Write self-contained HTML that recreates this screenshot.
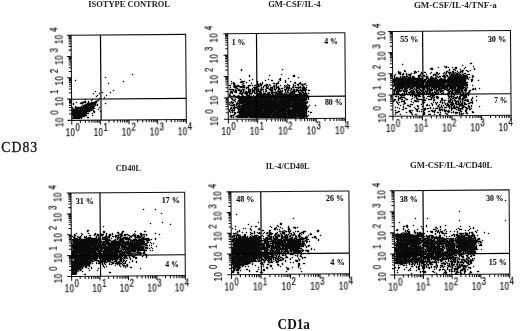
<!DOCTYPE html>
<html><head><meta charset="utf-8"><style>
html,body{margin:0;padding:0;background:#fff;}
svg{display:block;}
text{will-change:transform;}
.ti{font-family:"Liberation Serif",serif;font-weight:bold;font-size:7.8px;fill:#222;}
.ax{font-family:"Liberation Serif",serif;font-size:13.8px;fill:#111;stroke:#111;stroke-width:0.3px;}
.ax2{font-family:"Liberation Serif",serif;font-weight:bold;font-size:13.6px;fill:#111;}
.pc{font-family:"Liberation Serif",serif;font-weight:bold;font-size:8.4px;fill:#111;stroke:#111;stroke-width:0.1px;}
.tl{font-family:"Liberation Sans",sans-serif;font-size:10.4px;fill:#000;stroke:#000;stroke-width:0.18px;letter-spacing:0.6px;}
</style></head><body>
<svg width="520" height="331" viewBox="0 0 520 331">
<rect width="520" height="331" fill="#fff"/>
<g shape-rendering="crispEdges"><path fill="#d0d0d0" d="M470 62h2v1h-2zM402 63h1v1h-1zM469 63h1v1h-1zM472 63h1v1h-1zM401 64h1v1h-1zM403 64h1v1h-1zM462 64h1v1h-1zM470 64h2v1h-2zM402 65h1v1h-1zM444 65h1v1h-1zM446 65h1v1h-1zM461 65h1v1h-1zM463 65h1v1h-1zM473 65h1v1h-1zM438 66h1v1h-1zM443 66h1v1h-1zM447 66h2v1h-2zM452 66h1v1h-1zM455 66h2v1h-2zM462 66h1v1h-1zM465 66h1v1h-1zM472 66h1v1h-1zM474 66h1v1h-1zM430 67h3v1h-3zM437 67h1v1h-1zM439 67h1v1h-1zM444 67h1v1h-1zM449 67h1v1h-1zM451 67h1v1h-1zM453 67h2v1h-2zM457 67h1v1h-1zM464 67h1v1h-1zM466 67h1v1h-1zM473 67h2v1h-2zM241 68h1v1h-1zM282 68h1v1h-1zM429 68h1v1h-1zM433 68h1v1h-1zM438 68h1v1h-1zM445 68h2v1h-2zM448 68h2v1h-2zM452 68h2v1h-2zM457 68h1v1h-1zM460 68h1v1h-1zM463 68h1v1h-1zM465 68h1v1h-1zM473 68h1v1h-1zM475 68h1v1h-1zM240 69h1v1h-1zM242 69h1v1h-1zM281 69h1v1h-1zM283 69h1v1h-1zM404 69h1v1h-1zM433 69h1v1h-1zM448 69h1v1h-1zM450 69h1v1h-1zM452 69h1v1h-1zM456 69h1v1h-1zM459 69h1v1h-1zM461 69h4v1h-4zM466 69h1v1h-1zM470 69h1v1h-1zM473 69h1v1h-1zM475 69h1v1h-1zM240 70h1v1h-1zM242 70h1v1h-1zM282 70h1v1h-1zM398 70h1v1h-1zM403 70h1v1h-1zM414 70h2v1h-2zM418 70h1v1h-1zM431 70h2v1h-2zM446 70h3v1h-3zM450 70h1v1h-1zM452 70h1v1h-1zM456 70h2v1h-2zM464 70h2v1h-2zM468 70h2v1h-2zM471 70h1v1h-1zM474 70h1v1h-1zM241 71h1v1h-1zM397 71h1v1h-1zM400 71h1v1h-1zM403 71h1v1h-1zM406 71h1v1h-1zM413 71h1v1h-1zM417 71h1v1h-1zM419 71h1v1h-1zM421 71h1v1h-1zM424 71h2v1h-2zM431 71h1v1h-1zM436 71h2v1h-2zM444 71h2v1h-2zM450 71h2v1h-2zM454 71h3v1h-3zM458 71h2v1h-2zM466 71h1v1h-1zM469 71h2v1h-2zM397 72h1v1h-1zM401 72h1v1h-1zM403 72h4v1h-4zM411 72h1v1h-1zM413 72h1v1h-1zM417 72h2v1h-2zM420 72h1v1h-1zM423 72h1v1h-1zM426 72h1v1h-1zM430 72h1v1h-1zM432 72h1v1h-1zM435 72h1v1h-1zM438 72h2v1h-2zM443 72h1v1h-1zM463 72h3v1h-3zM467 72h2v1h-2zM132 73h1v1h-1zM281 73h1v1h-1zM395 73h1v1h-1zM397 73h1v1h-1zM401 73h1v1h-1zM404 73h2v1h-2zM407 73h3v1h-3zM412 73h2v1h-2zM416 73h1v1h-1zM423 73h4v1h-4zM429 73h1v1h-1zM431 73h1v1h-1zM433 73h2v1h-2zM440 73h1v1h-1zM442 73h1v1h-1zM447 73h1v1h-1zM461 73h1v1h-1zM466 73h4v1h-4zM131 74h1v1h-1zM133 74h1v1h-1zM249 74h1v1h-1zM269 74h1v1h-1zM280 74h1v1h-1zM282 74h1v1h-1zM293 74h2v1h-2zM394 74h1v1h-1zM396 74h1v1h-1zM398 74h1v1h-1zM404 74h2v1h-2zM414 74h1v1h-1zM418 74h1v1h-1zM422 74h4v1h-4zM427 74h1v1h-1zM430 74h1v1h-1zM432 74h1v1h-1zM439 74h1v1h-1zM447 74h2v1h-2zM470 74h1v1h-1zM472 74h1v1h-1zM132 75h1v1h-1zM248 75h1v1h-1zM250 75h1v1h-1zM268 75h1v1h-1zM270 75h1v1h-1zM281 75h1v1h-1zM292 75h1v1h-1zM295 75h1v1h-1zM393 75h1v1h-1zM400 75h2v1h-2zM404 75h2v1h-2zM411 75h3v1h-3zM417 75h1v1h-1zM422 75h1v1h-1zM425 75h1v1h-1zM427 75h1v1h-1zM431 75h2v1h-2zM438 75h3v1h-3zM448 75h1v1h-1zM468 75h2v1h-2zM471 75h1v1h-1zM105 76h1v1h-1zM248 76h1v1h-1zM250 76h1v1h-1zM269 76h1v1h-1zM292 76h1v1h-1zM295 76h1v1h-1zM298 76h1v1h-1zM393 76h1v1h-1zM395 76h3v1h-3zM399 76h1v1h-1zM417 76h1v1h-1zM428 76h1v1h-1zM433 76h1v1h-1zM441 76h1v1h-1zM468 76h2v1h-2zM471 76h1v1h-1zM474 76h1v1h-1zM104 77h1v1h-1zM106 77h1v1h-1zM249 77h1v1h-1zM280 77h1v1h-1zM288 77h1v1h-1zM293 77h2v1h-2zM297 77h1v1h-1zM299 77h1v1h-1zM393 77h1v1h-1zM416 77h1v1h-1zM423 77h3v1h-3zM429 77h1v1h-1zM441 77h2v1h-2zM446 77h1v1h-1zM470 77h2v1h-2zM105 78h1v1h-1zM240 78h1v1h-1zM252 78h1v1h-1zM268 78h1v1h-1zM281 78h1v1h-1zM287 78h1v1h-1zM289 78h1v1h-1zM298 78h1v1h-1zM423 78h2v1h-2zM438 78h1v1h-1zM469 78h1v1h-1zM471 78h1v1h-1zM75 79h1v1h-1zM239 79h1v1h-1zM241 79h1v1h-1zM249 79h1v1h-1zM251 79h1v1h-1zM253 79h1v1h-1zM265 79h1v1h-1zM267 79h1v1h-1zM269 79h1v1h-1zM271 79h2v1h-2zM278 79h1v1h-1zM281 79h1v1h-1zM285 79h1v1h-1zM288 79h1v1h-1zM469 79h2v1h-2zM473 79h1v1h-1zM478 79h1v1h-1zM74 80h1v1h-1zM76 80h1v1h-1zM123 80h1v1h-1zM231 80h1v1h-1zM240 80h5v1h-5zM248 80h1v1h-1zM250 80h1v1h-1zM252 80h1v1h-1zM257 80h1v1h-1zM264 80h1v1h-1zM266 80h1v1h-1zM268 80h1v1h-1zM270 80h1v1h-1zM273 80h1v1h-1zM278 80h1v1h-1zM281 80h1v1h-1zM284 80h1v1h-1zM286 80h1v1h-1zM290 80h1v1h-1zM466 80h1v1h-1zM468 80h1v1h-1zM470 80h1v1h-1zM473 80h1v1h-1zM477 80h1v1h-1zM479 80h1v1h-1zM75 81h1v1h-1zM122 81h1v1h-1zM124 81h1v1h-1zM230 81h1v1h-1zM232 81h2v1h-2zM245 81h2v1h-2zM249 81h1v1h-1zM256 81h1v1h-1zM258 81h1v1h-1zM262 81h1v1h-1zM265 81h1v1h-1zM271 81h2v1h-2zM277 81h1v1h-1zM279 81h2v1h-2zM284 81h1v1h-1zM286 81h1v1h-1zM289 81h1v1h-1zM291 81h1v1h-1zM294 81h2v1h-2zM300 81h1v1h-1zM467 81h1v1h-1zM470 81h1v1h-1zM478 81h1v1h-1zM108 82h1v1h-1zM123 82h1v1h-1zM231 82h2v1h-2zM239 82h1v1h-1zM244 82h2v1h-2zM247 82h1v1h-1zM251 82h1v1h-1zM256 82h1v1h-1zM258 82h1v1h-1zM260 82h2v1h-2zM263 82h1v1h-1zM273 82h2v1h-2zM276 82h1v1h-1zM279 82h1v1h-1zM284 82h1v1h-1zM286 82h1v1h-1zM290 82h1v1h-1zM293 82h1v1h-1zM296 82h1v1h-1zM301 82h1v1h-1zM305 82h1v1h-1zM468 82h1v1h-1zM471 82h1v1h-1zM107 83h1v1h-1zM109 83h1v1h-1zM230 83h1v1h-1zM235 83h1v1h-1zM240 83h2v1h-2zM244 83h1v1h-1zM246 83h1v1h-1zM250 83h1v1h-1zM252 83h1v1h-1zM256 83h1v1h-1zM263 83h1v1h-1zM266 83h2v1h-2zM269 83h1v1h-1zM272 83h1v1h-1zM279 83h1v1h-1zM285 83h1v1h-1zM287 83h1v1h-1zM293 83h1v1h-1zM296 83h2v1h-2zM302 83h2v1h-2zM306 83h1v1h-1zM108 84h1v1h-1zM229 84h4v1h-4zM237 84h2v1h-2zM241 84h1v1h-1zM244 84h1v1h-1zM248 84h5v1h-5zM254 84h3v1h-3zM264 84h1v1h-1zM270 84h1v1h-1zM273 84h1v1h-1zM278 84h1v1h-1zM280 84h1v1h-1zM284 84h1v1h-1zM286 84h1v1h-1zM289 84h1v1h-1zM292 84h1v1h-1zM294 84h3v1h-3zM306 84h1v1h-1zM468 84h1v1h-1zM472 84h1v1h-1zM231 85h1v1h-1zM240 85h2v1h-2zM245 85h1v1h-1zM247 85h1v1h-1zM251 85h1v1h-1zM253 85h1v1h-1zM262 85h2v1h-2zM271 85h1v1h-1zM277 85h3v1h-3zM281 85h1v1h-1zM283 85h1v1h-1zM290 85h1v1h-1zM292 85h1v1h-1zM296 85h1v1h-1zM299 85h2v1h-2zM304 85h2v1h-2zM307 85h1v1h-1zM468 85h1v1h-1zM471 85h1v1h-1zM473 85h1v1h-1zM229 86h1v1h-1zM232 86h1v1h-1zM245 86h2v1h-2zM250 86h1v1h-1zM252 86h2v1h-2zM262 86h1v1h-1zM269 86h1v1h-1zM271 86h1v1h-1zM279 86h2v1h-2zM290 86h1v1h-1zM296 86h2v1h-2zM301 86h1v1h-1zM306 86h1v1h-1zM472 86h1v1h-1zM229 87h1v1h-1zM231 87h1v1h-1zM238 87h1v1h-1zM249 87h1v1h-1zM252 87h1v1h-1zM259 87h2v1h-2zM264 87h2v1h-2zM269 87h1v1h-1zM281 87h3v1h-3zM290 87h2v1h-2zM307 87h1v1h-1zM393 87h2v1h-2zM468 87h1v1h-1zM473 87h1v1h-1zM475 87h1v1h-1zM479 87h1v1h-1zM229 88h1v1h-1zM231 88h4v1h-4zM239 88h3v1h-3zM245 88h1v1h-1zM250 88h2v1h-2zM259 88h1v1h-1zM283 88h1v1h-1zM294 88h2v1h-2zM476 88h1v1h-1zM478 88h1v1h-1zM480 88h1v1h-1zM113 89h1v1h-1zM245 89h3v1h-3zM264 89h1v1h-1zM267 89h1v1h-1zM277 89h1v1h-1zM281 89h1v1h-1zM283 89h1v1h-1zM307 89h3v1h-3zM408 89h1v1h-1zM467 89h1v1h-1zM469 89h3v1h-3zM476 89h1v1h-1zM479 89h1v1h-1zM95 90h1v1h-1zM112 90h1v1h-1zM114 90h1v1h-1zM229 90h1v1h-1zM245 90h3v1h-3zM264 90h1v1h-1zM267 90h1v1h-1zM273 90h1v1h-1zM276 90h1v1h-1zM283 90h1v1h-1zM307 90h1v1h-1zM310 90h1v1h-1zM408 90h2v1h-2zM433 90h1v1h-1zM445 90h1v1h-1zM467 90h2v1h-2zM471 90h3v1h-3zM475 90h1v1h-1zM94 91h1v1h-1zM96 91h1v1h-1zM102 91h1v1h-1zM110 91h1v1h-1zM113 91h1v1h-1zM229 91h1v1h-1zM237 91h2v1h-2zM262 91h1v1h-1zM264 91h1v1h-1zM267 91h3v1h-3zM274 91h1v1h-1zM283 91h2v1h-2zM289 91h1v1h-1zM306 91h1v1h-1zM308 91h2v1h-2zM402 91h1v1h-1zM408 91h1v1h-1zM433 91h1v1h-1zM93 92h1v1h-1zM95 92h1v1h-1zM99 92h1v1h-1zM101 92h1v1h-1zM103 92h1v1h-1zM109 92h1v1h-1zM111 92h1v1h-1zM229 92h1v1h-1zM233 92h1v1h-1zM237 92h1v1h-1zM262 92h1v1h-1zM266 92h1v1h-1zM296 92h2v1h-2zM308 92h1v1h-1zM400 92h1v1h-1zM402 92h1v1h-1zM444 92h1v1h-1zM470 92h1v1h-1zM92 93h1v1h-1zM94 93h1v1h-1zM98 93h1v1h-1zM100 93h1v1h-1zM102 93h1v1h-1zM110 93h1v1h-1zM233 93h1v1h-1zM235 93h2v1h-2zM238 93h1v1h-1zM253 93h1v1h-1zM296 93h2v1h-2zM309 93h1v1h-1zM439 93h2v1h-2zM444 93h3v1h-3zM93 94h1v1h-1zM97 94h1v1h-1zM99 94h1v1h-1zM106 94h1v1h-1zM232 94h3v1h-3zM238 94h2v1h-2zM243 94h2v1h-2zM252 94h4v1h-4zM308 94h1v1h-1zM406 94h1v1h-1zM410 94h1v1h-1zM425 94h1v1h-1zM438 94h1v1h-1zM441 94h4v1h-4zM450 94h1v1h-1zM457 94h3v1h-3zM469 94h1v1h-1zM96 95h1v1h-1zM98 95h1v1h-1zM105 95h1v1h-1zM107 95h1v1h-1zM231 95h2v1h-2zM236 95h1v1h-1zM244 95h2v1h-2zM252 95h1v1h-1zM254 95h1v1h-1zM393 95h3v1h-3zM397 95h2v1h-2zM405 95h1v1h-1zM407 95h3v1h-3zM421 95h1v1h-1zM424 95h1v1h-1zM426 95h2v1h-2zM435 95h1v1h-1zM437 95h1v1h-1zM445 95h1v1h-1zM455 95h3v1h-3zM469 95h1v1h-1zM476 95h1v1h-1zM95 96h1v1h-1zM97 96h1v1h-1zM104 96h1v1h-1zM106 96h1v1h-1zM229 96h1v1h-1zM309 96h1v1h-1zM394 96h1v1h-1zM399 96h1v1h-1zM410 96h2v1h-2zM413 96h1v1h-1zM421 96h2v1h-2zM426 96h1v1h-1zM435 96h1v1h-1zM447 96h1v1h-1zM455 96h1v1h-1zM467 96h2v1h-2zM472 96h1v1h-1zM475 96h1v1h-1zM477 96h1v1h-1zM96 97h1v1h-1zM99 97h1v1h-1zM103 97h1v1h-1zM105 97h1v1h-1zM229 97h1v1h-1zM232 97h3v1h-3zM309 97h1v1h-1zM395 97h3v1h-3zM405 97h1v1h-1zM412 97h2v1h-2zM418 97h3v1h-3zM422 97h1v1h-1zM425 97h5v1h-5zM439 97h1v1h-1zM441 97h2v1h-2zM461 97h1v1h-1zM467 97h1v1h-1zM471 97h1v1h-1zM473 97h1v1h-1zM476 97h1v1h-1zM85 98h1v1h-1zM92 98h1v1h-1zM98 98h1v1h-1zM100 98h1v1h-1zM104 98h1v1h-1zM230 98h1v1h-1zM233 98h2v1h-2zM236 98h1v1h-1zM309 98h1v1h-1zM394 98h2v1h-2zM397 98h1v1h-1zM403 98h1v1h-1zM407 98h1v1h-1zM411 98h1v1h-1zM413 98h3v1h-3zM419 98h3v1h-3zM425 98h1v1h-1zM427 98h3v1h-3zM440 98h1v1h-1zM443 98h1v1h-1zM447 98h1v1h-1zM466 98h2v1h-2zM473 98h1v1h-1zM84 99h1v1h-1zM86 99h1v1h-1zM91 99h1v1h-1zM93 99h1v1h-1zM97 99h3v1h-3zM236 99h1v1h-1zM309 99h1v1h-1zM396 99h2v1h-2zM403 99h2v1h-2zM408 99h1v1h-1zM410 99h1v1h-1zM412 99h1v1h-1zM414 99h2v1h-2zM426 99h2v1h-2zM432 99h1v1h-1zM435 99h1v1h-1zM437 99h1v1h-1zM440 99h1v1h-1zM443 99h3v1h-3zM456 99h1v1h-1zM470 99h1v1h-1zM476 99h1v1h-1zM84 100h1v1h-1zM88 100h1v1h-1zM90 100h1v1h-1zM92 100h1v1h-1zM95 100h1v1h-1zM99 100h1v1h-1zM231 100h1v1h-1zM237 100h1v1h-1zM307 100h2v1h-2zM396 100h2v1h-2zM399 100h1v1h-1zM405 100h3v1h-3zM411 100h1v1h-1zM413 100h1v1h-1zM419 100h2v1h-2zM426 100h1v1h-1zM428 100h5v1h-5zM435 100h1v1h-1zM446 100h2v1h-2zM469 100h2v1h-2zM475 100h1v1h-1zM477 100h1v1h-1zM76 101h1v1h-1zM81 101h2v1h-2zM86 101h2v1h-2zM89 101h1v1h-1zM92 101h2v1h-2zM98 101h1v1h-1zM229 101h2v1h-2zM236 101h1v1h-1zM308 101h1v1h-1zM395 101h1v1h-1zM398 101h3v1h-3zM405 101h1v1h-1zM410 101h1v1h-1zM412 101h2v1h-2zM419 101h1v1h-1zM425 101h1v1h-1zM434 101h2v1h-2zM437 101h1v1h-1zM439 101h1v1h-1zM443 101h1v1h-1zM445 101h1v1h-1zM447 101h1v1h-1zM453 101h1v1h-1zM465 101h1v1h-1zM469 101h2v1h-2zM473 101h1v1h-1zM476 101h1v1h-1zM73 102h1v1h-1zM75 102h1v1h-1zM77 102h1v1h-1zM86 102h1v1h-1zM97 102h1v1h-1zM105 102h1v1h-1zM234 102h2v1h-2zM308 102h1v1h-1zM393 102h1v1h-1zM400 102h3v1h-3zM411 102h2v1h-2zM414 102h5v1h-5zM421 102h1v1h-1zM425 102h1v1h-1zM431 102h2v1h-2zM434 102h1v1h-1zM438 102h2v1h-2zM445 102h1v1h-1zM454 102h1v1h-1zM467 102h1v1h-1zM473 102h1v1h-1zM72 103h1v1h-1zM74 103h1v1h-1zM76 103h1v1h-1zM79 103h1v1h-1zM84 103h1v1h-1zM97 103h1v1h-1zM104 103h1v1h-1zM106 103h1v1h-1zM234 103h2v1h-2zM396 103h1v1h-1zM399 103h1v1h-1zM406 103h1v1h-1zM410 103h4v1h-4zM421 103h1v1h-1zM424 103h1v1h-1zM427 103h1v1h-1zM430 103h1v1h-1zM433 103h1v1h-1zM439 103h3v1h-3zM443 103h1v1h-1zM467 103h1v1h-1zM473 103h1v1h-1zM72 104h1v1h-1zM74 104h1v1h-1zM80 104h2v1h-2zM83 104h1v1h-1zM98 104h1v1h-1zM105 104h1v1h-1zM309 104h1v1h-1zM315 104h1v1h-1zM397 104h1v1h-1zM399 104h2v1h-2zM402 104h1v1h-1zM405 104h1v1h-1zM407 104h3v1h-3zM413 104h1v1h-1zM417 104h1v1h-1zM420 104h1v1h-1zM422 104h2v1h-2zM428 104h2v1h-2zM433 104h1v1h-1zM435 104h1v1h-1zM437 104h2v1h-2zM440 104h5v1h-5zM467 104h1v1h-1zM469 104h1v1h-1zM471 104h2v1h-2zM73 105h1v1h-1zM75 105h1v1h-1zM81 105h1v1h-1zM98 105h1v1h-1zM229 105h1v1h-1zM307 105h2v1h-2zM310 105h1v1h-1zM314 105h1v1h-1zM316 105h1v1h-1zM398 105h2v1h-2zM401 105h1v1h-1zM403 105h1v1h-1zM406 105h1v1h-1zM411 105h2v1h-2zM416 105h1v1h-1zM421 105h2v1h-2zM425 105h1v1h-1zM430 105h2v1h-2zM433 105h1v1h-1zM436 105h1v1h-1zM440 105h1v1h-1zM444 105h2v1h-2zM455 105h1v1h-1zM457 105h1v1h-1zM465 105h3v1h-3zM470 105h1v1h-1zM472 105h1v1h-1zM479 105h1v1h-1zM72 106h1v1h-1zM74 106h1v1h-1zM77 106h3v1h-3zM95 106h1v1h-1zM97 106h1v1h-1zM99 106h1v1h-1zM230 106h1v1h-1zM309 106h1v1h-1zM315 106h1v1h-1zM395 106h1v1h-1zM397 106h1v1h-1zM400 106h1v1h-1zM402 106h1v1h-1zM404 106h1v1h-1zM407 106h1v1h-1zM411 106h1v1h-1zM414 106h1v1h-1zM416 106h1v1h-1zM419 106h1v1h-1zM421 106h1v1h-1zM423 106h1v1h-1zM426 106h2v1h-2zM429 106h2v1h-2zM432 106h1v1h-1zM436 106h1v1h-1zM443 106h3v1h-3zM466 106h2v1h-2zM472 106h1v1h-1zM478 106h1v1h-1zM480 106h1v1h-1zM73 107h2v1h-2zM98 107h1v1h-1zM100 107h1v1h-1zM394 107h1v1h-1zM396 107h1v1h-1zM398 107h2v1h-2zM402 107h1v1h-1zM404 107h3v1h-3zM409 107h2v1h-2zM413 107h1v1h-1zM415 107h1v1h-1zM417 107h1v1h-1zM422 107h1v1h-1zM424 107h2v1h-2zM427 107h3v1h-3zM431 107h1v1h-1zM433 107h1v1h-1zM435 107h2v1h-2zM443 107h1v1h-1zM447 107h1v1h-1zM460 107h1v1h-1zM471 107h1v1h-1zM479 107h1v1h-1zM95 108h1v1h-1zM98 108h2v1h-2zM229 108h1v1h-1zM308 108h1v1h-1zM395 108h1v1h-1zM397 108h2v1h-2zM400 108h1v1h-1zM402 108h1v1h-1zM404 108h1v1h-1zM407 108h1v1h-1zM414 108h1v1h-1zM419 108h1v1h-1zM421 108h1v1h-1zM423 108h1v1h-1zM431 108h2v1h-2zM434 108h1v1h-1zM443 108h1v1h-1zM445 108h2v1h-2zM448 108h1v1h-1zM472 108h1v1h-1zM94 109h1v1h-1zM97 109h1v1h-1zM99 109h1v1h-1zM235 109h1v1h-1zM395 109h1v1h-1zM399 109h1v1h-1zM401 109h1v1h-1zM404 109h3v1h-3zM409 109h2v1h-2zM412 109h1v1h-1zM420 109h1v1h-1zM422 109h2v1h-2zM426 109h3v1h-3zM430 109h5v1h-5zM436 109h3v1h-3zM446 109h1v1h-1zM448 109h3v1h-3zM453 109h2v1h-2zM463 109h1v1h-1zM468 109h1v1h-1zM471 109h1v1h-1zM98 110h1v1h-1zM100 110h1v1h-1zM235 110h1v1h-1zM237 110h1v1h-1zM307 110h2v1h-2zM394 110h1v1h-1zM396 110h1v1h-1zM398 110h2v1h-2zM402 110h2v1h-2zM408 110h1v1h-1zM413 110h1v1h-1zM415 110h1v1h-1zM418 110h2v1h-2zM421 110h1v1h-1zM428 110h3v1h-3zM436 110h1v1h-1zM438 110h1v1h-1zM450 110h1v1h-1zM452 110h2v1h-2zM456 110h2v1h-2zM462 110h1v1h-1zM464 110h1v1h-1zM467 110h1v1h-1zM469 110h2v1h-2zM472 110h1v1h-1zM91 111h2v1h-2zM95 111h1v1h-1zM99 111h1v1h-1zM101 111h1v1h-1zM235 111h1v1h-1zM309 111h3v1h-3zM396 111h1v1h-1zM400 111h1v1h-1zM406 111h1v1h-1zM408 111h1v1h-1zM412 111h1v1h-1zM420 111h1v1h-1zM422 111h1v1h-1zM427 111h1v1h-1zM430 111h1v1h-1zM437 111h3v1h-3zM442 111h2v1h-2zM450 111h3v1h-3zM454 111h5v1h-5zM462 111h1v1h-1zM464 111h1v1h-1zM467 111h1v1h-1zM471 111h1v1h-1zM89 112h1v1h-1zM92 112h1v1h-1zM95 112h1v1h-1zM100 112h1v1h-1zM229 112h1v1h-1zM307 112h3v1h-3zM312 112h1v1h-1zM394 112h1v1h-1zM399 112h1v1h-1zM405 112h1v1h-1zM407 112h1v1h-1zM412 112h1v1h-1zM417 112h1v1h-1zM419 112h1v1h-1zM421 112h1v1h-1zM425 112h1v1h-1zM428 112h2v1h-2zM432 112h1v1h-1zM435 112h2v1h-2zM439 112h1v1h-1zM441 112h1v1h-1zM444 112h1v1h-1zM446 112h1v1h-1zM450 112h1v1h-1zM463 112h1v1h-1zM471 112h1v1h-1zM474 112h1v1h-1zM89 113h1v1h-1zM91 113h1v1h-1zM93 113h2v1h-2zM230 113h1v1h-1zM232 113h2v1h-2zM236 113h2v1h-2zM307 113h1v1h-1zM310 113h2v1h-2zM396 113h2v1h-2zM400 113h1v1h-1zM406 113h1v1h-1zM415 113h2v1h-2zM422 113h1v1h-1zM425 113h1v1h-1zM428 113h3v1h-3zM434 113h1v1h-1zM437 113h3v1h-3zM444 113h1v1h-1zM448 113h1v1h-1zM451 113h1v1h-1zM453 113h2v1h-2zM458 113h1v1h-1zM464 113h2v1h-2zM468 113h1v1h-1zM472 113h2v1h-2zM87 114h2v1h-2zM92 114h1v1h-1zM230 114h3v1h-3zM237 114h1v1h-1zM307 114h2v1h-2zM394 114h1v1h-1zM396 114h1v1h-1zM399 114h1v1h-1zM401 114h1v1h-1zM411 114h1v1h-1zM413 114h2v1h-2zM417 114h1v1h-1zM422 114h1v1h-1zM425 114h1v1h-1zM427 114h1v1h-1zM431 114h1v1h-1zM433 114h1v1h-1zM435 114h1v1h-1zM438 114h1v1h-1zM441 114h1v1h-1zM445 114h1v1h-1zM448 114h1v1h-1zM455 114h2v1h-2zM458 114h1v1h-1zM463 114h1v1h-1zM466 114h2v1h-2zM87 115h1v1h-1zM91 115h1v1h-1zM93 115h1v1h-1zM229 115h1v1h-1zM235 115h1v1h-1zM309 115h1v1h-1zM86 116h3v1h-3zM92 116h1v1h-1zM229 116h1v1h-1zM234 116h1v1h-1zM308 116h1v1h-1zM83 117h2v1h-2zM86 117h1v1h-1zM89 117h1v1h-1zM234 117h2v1h-2zM82 118h1v1h-1zM87 118h2v1h-2zM505 199h1v1h-1zM504 200h1v1h-1zM506 200h1v1h-1zM505 201h1v1h-1zM143 208h1v1h-1zM155 208h1v1h-1zM142 209h1v1h-1zM144 209h1v1h-1zM154 209h1v1h-1zM156 209h1v1h-1zM143 210h1v1h-1zM155 210h1v1h-1zM459 210h1v1h-1zM458 211h1v1h-1zM460 211h1v1h-1zM161 212h1v1h-1zM459 212h1v1h-1zM160 213h1v1h-1zM162 213h1v1h-1zM236 213h1v1h-1zM161 214h1v1h-1zM235 214h1v1h-1zM237 214h1v1h-1zM236 215h1v1h-1zM293 217h1v1h-1zM415 217h1v1h-1zM427 217h1v1h-1zM292 218h1v1h-1zM294 218h1v1h-1zM414 218h1v1h-1zM416 218h1v1h-1zM426 218h1v1h-1zM428 218h1v1h-1zM293 219h1v1h-1zM415 219h1v1h-1zM427 219h1v1h-1zM459 219h1v1h-1zM505 219h1v1h-1zM458 220h1v1h-1zM460 220h1v1h-1zM504 220h1v1h-1zM506 220h1v1h-1zM162 221h1v1h-1zM258 221h1v1h-1zM399 221h1v1h-1zM459 221h1v1h-1zM505 221h1v1h-1zM150 222h1v1h-1zM161 222h1v1h-1zM163 222h1v1h-1zM257 222h1v1h-1zM259 222h1v1h-1zM280 222h2v1h-2zM398 222h1v1h-1zM400 222h1v1h-1zM149 223h1v1h-1zM151 223h1v1h-1zM162 223h1v1h-1zM170 223h1v1h-1zM248 223h1v1h-1zM258 223h1v1h-1zM279 223h1v1h-1zM282 223h1v1h-1zM399 223h1v1h-1zM150 224h1v1h-1zM169 224h1v1h-1zM171 224h1v1h-1zM247 224h1v1h-1zM249 224h1v1h-1zM277 224h1v1h-1zM279 224h1v1h-1zM282 224h1v1h-1zM406 224h2v1h-2zM413 224h1v1h-1zM426 224h1v1h-1zM445 224h1v1h-1zM103 225h1v1h-1zM170 225h1v1h-1zM235 225h1v1h-1zM248 225h1v1h-1zM251 225h1v1h-1zM255 225h2v1h-2zM270 225h1v1h-1zM276 225h1v1h-1zM278 225h1v1h-1zM280 225h2v1h-2zM288 225h1v1h-1zM403 225h3v1h-3zM408 225h1v1h-1zM412 225h1v1h-1zM414 225h1v1h-1zM421 225h1v1h-1zM425 225h1v1h-1zM427 225h1v1h-1zM440 225h1v1h-1zM444 225h1v1h-1zM446 225h1v1h-1zM460 225h1v1h-1zM469 225h1v1h-1zM102 226h1v1h-1zM104 226h1v1h-1zM234 226h1v1h-1zM236 226h1v1h-1zM250 226h1v1h-1zM252 226h1v1h-1zM254 226h1v1h-1zM257 226h1v1h-1zM269 226h1v1h-1zM271 226h1v1h-1zM276 226h1v1h-1zM279 226h2v1h-2zM287 226h1v1h-1zM289 226h1v1h-1zM293 226h3v1h-3zM297 226h1v1h-1zM402 226h1v1h-1zM408 226h1v1h-1zM413 226h1v1h-1zM420 226h1v1h-1zM422 226h1v1h-1zM425 226h1v1h-1zM427 226h1v1h-1zM435 226h2v1h-2zM439 226h1v1h-1zM441 226h1v1h-1zM445 226h1v1h-1zM459 226h1v1h-1zM461 226h1v1h-1zM468 226h1v1h-1zM470 226h1v1h-1zM473 226h1v1h-1zM103 227h1v1h-1zM232 227h1v1h-1zM235 227h1v1h-1zM243 227h1v1h-1zM245 227h1v1h-1zM250 227h2v1h-2zM255 227h2v1h-2zM259 227h1v1h-1zM270 227h1v1h-1zM272 227h1v1h-1zM274 227h1v1h-1zM277 227h3v1h-3zM281 227h2v1h-2zM287 227h1v1h-1zM292 227h1v1h-1zM298 227h1v1h-1zM404 227h1v1h-1zM408 227h1v1h-1zM421 227h2v1h-2zM426 227h1v1h-1zM434 227h1v1h-1zM437 227h1v1h-1zM439 227h1v1h-1zM441 227h1v1h-1zM458 227h1v1h-1zM460 227h1v1h-1zM469 227h2v1h-2zM472 227h1v1h-1zM474 227h1v1h-1zM233 228h1v1h-1zM235 228h1v1h-1zM242 228h1v1h-1zM244 228h1v1h-1zM246 228h1v1h-1zM249 228h1v1h-1zM251 228h1v1h-1zM260 228h1v1h-1zM271 228h1v1h-1zM273 228h1v1h-1zM277 228h1v1h-1zM279 228h3v1h-3zM283 228h1v1h-1zM287 228h1v1h-1zM290 228h1v1h-1zM293 228h1v1h-1zM296 228h2v1h-2zM397 228h1v1h-1zM402 228h1v1h-1zM404 228h1v1h-1zM407 228h2v1h-2zM417 228h1v1h-1zM421 228h1v1h-1zM423 228h1v1h-1zM433 228h2v1h-2zM438 228h1v1h-1zM440 228h1v1h-1zM445 228h1v1h-1zM456 228h2v1h-2zM460 228h2v1h-2zM469 228h1v1h-1zM471 228h2v1h-2zM474 228h1v1h-1zM87 229h2v1h-2zM232 229h1v1h-1zM234 229h1v1h-1zM236 229h1v1h-1zM239 229h1v1h-1zM243 229h1v1h-1zM245 229h1v1h-1zM249 229h1v1h-1zM257 229h1v1h-1zM260 229h1v1h-1zM262 229h2v1h-2zM269 229h2v1h-2zM273 229h1v1h-1zM278 229h1v1h-1zM280 229h1v1h-1zM282 229h1v1h-1zM284 229h1v1h-1zM287 229h1v1h-1zM295 229h1v1h-1zM317 229h2v1h-2zM398 229h1v1h-1zM402 229h1v1h-1zM404 229h2v1h-2zM407 229h1v1h-1zM409 229h1v1h-1zM414 229h1v1h-1zM416 229h1v1h-1zM418 229h1v1h-1zM422 229h2v1h-2zM432 229h1v1h-1zM437 229h3v1h-3zM441 229h1v1h-1zM444 229h1v1h-1zM446 229h1v1h-1zM455 229h1v1h-1zM457 229h2v1h-2zM462 229h1v1h-1zM465 229h1v1h-1zM468 229h1v1h-1zM470 229h1v1h-1zM473 229h1v1h-1zM477 229h1v1h-1zM86 230h1v1h-1zM89 230h1v1h-1zM103 230h2v1h-2zM122 230h2v1h-2zM135 230h1v1h-1zM144 230h2v1h-2zM235 230h1v1h-1zM237 230h2v1h-2zM240 230h1v1h-1zM250 230h1v1h-1zM252 230h1v1h-1zM254 230h1v1h-1zM258 230h2v1h-2zM261 230h1v1h-1zM264 230h1v1h-1zM268 230h1v1h-1zM271 230h1v1h-1zM274 230h2v1h-2zM277 230h1v1h-1zM280 230h1v1h-1zM282 230h1v1h-1zM286 230h2v1h-2zM291 230h1v1h-1zM295 230h1v1h-1zM297 230h2v1h-2zM303 230h3v1h-3zM316 230h1v1h-1zM319 230h1v1h-1zM395 230h1v1h-1zM398 230h1v1h-1zM403 230h2v1h-2zM409 230h1v1h-1zM413 230h1v1h-1zM415 230h1v1h-1zM417 230h1v1h-1zM422 230h1v1h-1zM424 230h1v1h-1zM427 230h1v1h-1zM430 230h5v1h-5zM439 230h1v1h-1zM441 230h3v1h-3zM446 230h1v1h-1zM450 230h1v1h-1zM454 230h1v1h-1zM456 230h2v1h-2zM459 230h3v1h-3zM464 230h1v1h-1zM466 230h2v1h-2zM469 230h1v1h-1zM475 230h2v1h-2zM478 230h1v1h-1zM86 231h1v1h-1zM102 231h1v1h-1zM105 231h1v1h-1zM117 231h2v1h-2zM121 231h1v1h-1zM124 231h1v1h-1zM134 231h1v1h-1zM136 231h1v1h-1zM143 231h1v1h-1zM146 231h1v1h-1zM236 231h1v1h-1zM240 231h1v1h-1zM242 231h1v1h-1zM246 231h1v1h-1zM250 231h2v1h-2zM253 231h1v1h-1zM255 231h1v1h-1zM257 231h1v1h-1zM259 231h1v1h-1zM262 231h3v1h-3zM267 231h2v1h-2zM277 231h2v1h-2zM291 231h1v1h-1zM293 231h2v1h-2zM296 231h1v1h-1zM299 231h1v1h-1zM301 231h1v1h-1zM306 231h1v1h-1zM316 231h1v1h-1zM319 231h1v1h-1zM396 231h2v1h-2zM403 231h2v1h-2zM410 231h1v1h-1zM413 231h1v1h-1zM417 231h1v1h-1zM419 231h2v1h-2zM423 231h1v1h-1zM426 231h1v1h-1zM428 231h2v1h-2zM433 231h2v1h-2zM443 231h3v1h-3zM447 231h1v1h-1zM449 231h1v1h-1zM451 231h1v1h-1zM453 231h1v1h-1zM455 231h2v1h-2zM458 231h1v1h-1zM465 231h1v1h-1zM468 231h2v1h-2zM471 231h2v1h-2zM474 231h1v1h-1zM477 231h1v1h-1zM484 231h1v1h-1zM76 232h1v1h-1zM81 232h1v1h-1zM87 232h2v1h-2zM95 232h1v1h-1zM100 232h1v1h-1zM102 232h1v1h-1zM105 232h2v1h-2zM112 232h1v1h-1zM116 232h1v1h-1zM119 232h1v1h-1zM134 232h2v1h-2zM140 232h2v1h-2zM144 232h2v1h-2zM155 232h1v1h-1zM233 232h3v1h-3zM238 232h2v1h-2zM241 232h1v1h-1zM243 232h1v1h-1zM245 232h1v1h-1zM247 232h1v1h-1zM249 232h1v1h-1zM252 232h2v1h-2zM255 232h2v1h-2zM263 232h1v1h-1zM265 232h1v1h-1zM272 232h1v1h-1zM275 232h1v1h-1zM278 232h2v1h-2zM286 232h1v1h-1zM291 232h2v1h-2zM295 232h1v1h-1zM297 232h3v1h-3zM305 232h1v1h-1zM310 232h1v1h-1zM317 232h2v1h-2zM397 232h1v1h-1zM401 232h1v1h-1zM410 232h1v1h-1zM413 232h1v1h-1zM422 232h3v1h-3zM427 232h1v1h-1zM433 232h1v1h-1zM435 232h2v1h-2zM444 232h2v1h-2zM450 232h1v1h-1zM454 232h1v1h-1zM456 232h1v1h-1zM458 232h7v1h-7zM467 232h2v1h-2zM473 232h1v1h-1zM475 232h1v1h-1zM477 232h1v1h-1zM483 232h1v1h-1zM485 232h1v1h-1zM488 232h1v1h-1zM74 233h2v1h-2zM77 233h1v1h-1zM80 233h1v1h-1zM82 233h1v1h-1zM87 233h1v1h-1zM89 233h1v1h-1zM96 233h4v1h-4zM102 233h1v1h-1zM104 233h2v1h-2zM107 233h1v1h-1zM109 233h3v1h-3zM113 233h1v1h-1zM123 233h5v1h-5zM133 233h1v1h-1zM135 233h1v1h-1zM139 233h1v1h-1zM142 233h3v1h-3zM146 233h1v1h-1zM154 233h1v1h-1zM156 233h1v1h-1zM159 233h1v1h-1zM232 233h1v1h-1zM238 233h1v1h-1zM242 233h1v1h-1zM244 233h3v1h-3zM255 233h1v1h-1zM257 233h1v1h-1zM261 233h2v1h-2zM264 233h2v1h-2zM273 233h2v1h-2zM278 233h2v1h-2zM285 233h2v1h-2zM292 233h1v1h-1zM295 233h1v1h-1zM298 233h1v1h-1zM304 233h1v1h-1zM309 233h1v1h-1zM395 233h1v1h-1zM399 233h1v1h-1zM412 233h1v1h-1zM425 233h1v1h-1zM431 233h2v1h-2zM434 233h1v1h-1zM436 233h3v1h-3zM440 233h1v1h-1zM447 233h1v1h-1zM453 233h2v1h-2zM456 233h1v1h-1zM458 233h1v1h-1zM470 233h1v1h-1zM476 233h1v1h-1zM484 233h1v1h-1zM487 233h1v1h-1zM489 233h1v1h-1zM73 234h1v1h-1zM76 234h1v1h-1zM83 234h1v1h-1zM88 234h3v1h-3zM93 234h1v1h-1zM99 234h1v1h-1zM104 234h2v1h-2zM107 234h2v1h-2zM113 234h1v1h-1zM115 234h3v1h-3zM123 234h1v1h-1zM129 234h1v1h-1zM136 234h4v1h-4zM147 234h1v1h-1zM155 234h1v1h-1zM158 234h1v1h-1zM160 234h1v1h-1zM240 234h1v1h-1zM243 234h1v1h-1zM246 234h1v1h-1zM249 234h1v1h-1zM252 234h1v1h-1zM255 234h6v1h-6zM262 234h2v1h-2zM266 234h1v1h-1zM302 234h2v1h-2zM308 234h2v1h-2zM312 234h1v1h-1zM320 234h1v1h-1zM414 234h1v1h-1zM426 234h1v1h-1zM429 234h4v1h-4zM434 234h1v1h-1zM436 234h1v1h-1zM440 234h1v1h-1zM442 234h2v1h-2zM445 234h2v1h-2zM451 234h1v1h-1zM477 234h1v1h-1zM488 234h1v1h-1zM72 235h2v1h-2zM76 235h2v1h-2zM80 235h1v1h-1zM82 235h1v1h-1zM84 235h1v1h-1zM86 235h1v1h-1zM88 235h1v1h-1zM91 235h1v1h-1zM93 235h1v1h-1zM107 235h1v1h-1zM111 235h1v1h-1zM113 235h2v1h-2zM145 235h1v1h-1zM147 235h1v1h-1zM159 235h1v1h-1zM241 235h2v1h-2zM246 235h2v1h-2zM259 235h3v1h-3zM263 235h1v1h-1zM266 235h1v1h-1zM273 235h1v1h-1zM283 235h1v1h-1zM297 235h1v1h-1zM301 235h1v1h-1zM306 235h2v1h-2zM309 235h3v1h-3zM314 235h2v1h-2zM319 235h1v1h-1zM321 235h1v1h-1zM424 235h2v1h-2zM435 235h2v1h-2zM438 235h1v1h-1zM441 235h1v1h-1zM443 235h1v1h-1zM445 235h2v1h-2zM449 235h2v1h-2zM475 235h2v1h-2zM478 235h1v1h-1zM76 236h1v1h-1zM83 236h1v1h-1zM87 236h2v1h-2zM94 236h2v1h-2zM101 236h1v1h-1zM103 236h1v1h-1zM111 236h1v1h-1zM123 236h1v1h-1zM126 236h3v1h-3zM145 236h2v1h-2zM248 236h1v1h-1zM261 236h2v1h-2zM264 236h1v1h-1zM266 236h1v1h-1zM293 236h2v1h-2zM302 236h1v1h-1zM308 236h1v1h-1zM312 236h2v1h-2zM316 236h1v1h-1zM320 236h1v1h-1zM441 236h2v1h-2zM444 236h2v1h-2zM447 236h2v1h-2zM450 236h4v1h-4zM455 236h1v1h-1zM477 236h1v1h-1zM72 237h1v1h-1zM76 237h1v1h-1zM81 237h1v1h-1zM83 237h1v1h-1zM92 237h3v1h-3zM101 237h1v1h-1zM110 237h5v1h-5zM132 237h1v1h-1zM145 237h4v1h-4zM155 237h1v1h-1zM261 237h1v1h-1zM263 237h1v1h-1zM279 237h2v1h-2zM293 237h1v1h-1zM297 237h1v1h-1zM308 237h1v1h-1zM311 237h1v1h-1zM444 237h1v1h-1zM447 237h8v1h-8zM476 237h1v1h-1zM478 237h2v1h-2zM72 238h1v1h-1zM82 238h2v1h-2zM101 238h1v1h-1zM110 238h1v1h-1zM112 238h1v1h-1zM115 238h1v1h-1zM131 238h1v1h-1zM133 238h1v1h-1zM151 238h1v1h-1zM154 238h1v1h-1zM156 238h1v1h-1zM261 238h2v1h-2zM279 238h1v1h-1zM308 238h1v1h-1zM312 238h1v1h-1zM314 238h1v1h-1zM317 238h2v1h-2zM476 238h1v1h-1zM480 238h1v1h-1zM111 239h1v1h-1zM113 239h1v1h-1zM152 239h1v1h-1zM154 239h1v1h-1zM156 239h1v1h-1zM261 239h2v1h-2zM309 239h1v1h-1zM316 239h2v1h-2zM319 239h1v1h-1zM480 239h1v1h-1zM482 239h1v1h-1zM102 240h1v1h-1zM125 240h1v1h-1zM150 240h2v1h-2zM155 240h1v1h-1zM308 240h2v1h-2zM317 240h1v1h-1zM319 240h1v1h-1zM480 240h2v1h-2zM483 240h1v1h-1zM145 241h1v1h-1zM149 241h2v1h-2zM308 241h1v1h-1zM310 241h1v1h-1zM318 241h1v1h-1zM395 241h1v1h-1zM482 241h1v1h-1zM149 242h1v1h-1zM151 242h1v1h-1zM153 242h1v1h-1zM262 242h1v1h-1zM305 242h1v1h-1zM309 242h1v1h-1zM482 242h1v1h-1zM148 243h1v1h-1zM150 243h1v1h-1zM152 243h1v1h-1zM154 243h1v1h-1zM305 243h2v1h-2zM477 243h1v1h-1zM479 243h1v1h-1zM149 244h1v1h-1zM151 244h1v1h-1zM153 244h1v1h-1zM308 244h2v1h-2zM421 244h1v1h-1zM478 244h1v1h-1zM482 244h1v1h-1zM148 245h1v1h-1zM150 245h1v1h-1zM152 245h1v1h-1zM156 245h1v1h-1zM306 245h2v1h-2zM310 245h1v1h-1zM477 245h2v1h-2zM482 245h1v1h-1zM149 246h1v1h-1zM151 246h1v1h-1zM155 246h1v1h-1zM157 246h1v1h-1zM304 246h1v1h-1zM477 246h1v1h-1zM479 246h3v1h-3zM148 247h3v1h-3zM152 247h1v1h-1zM156 247h1v1h-1zM302 247h2v1h-2zM305 247h1v1h-1zM307 247h2v1h-2zM311 247h1v1h-1zM477 247h1v1h-1zM150 248h2v1h-2zM153 248h1v1h-1zM302 248h1v1h-1zM306 248h1v1h-1zM310 248h1v1h-1zM312 248h1v1h-1zM314 248h1v1h-1zM481 248h1v1h-1zM147 249h1v1h-1zM149 249h2v1h-2zM152 249h1v1h-1zM305 249h4v1h-4zM310 249h1v1h-1zM312 249h2v1h-2zM315 249h1v1h-1zM445 249h1v1h-1zM478 249h1v1h-1zM480 249h1v1h-1zM482 249h1v1h-1zM147 250h1v1h-1zM149 250h1v1h-1zM151 250h1v1h-1zM153 250h1v1h-1zM262 250h1v1h-1zM304 250h1v1h-1zM309 250h1v1h-1zM311 250h1v1h-1zM314 250h1v1h-1zM444 250h2v1h-2zM476 250h2v1h-2zM481 250h1v1h-1zM141 251h2v1h-2zM146 251h1v1h-1zM150 251h1v1h-1zM152 251h1v1h-1zM305 251h1v1h-1zM309 251h1v1h-1zM476 251h1v1h-1zM142 252h1v1h-1zM145 252h1v1h-1zM302 252h1v1h-1zM307 252h1v1h-1zM309 252h1v1h-1zM476 252h1v1h-1zM146 253h1v1h-1zM294 253h1v1h-1zM307 253h1v1h-1zM310 253h1v1h-1zM147 254h1v1h-1zM280 254h2v1h-2zM286 254h2v1h-2zM289 254h1v1h-1zM294 254h3v1h-3zM298 254h2v1h-2zM302 254h1v1h-1zM308 254h2v1h-2zM457 254h1v1h-1zM464 254h3v1h-3zM475 254h1v1h-1zM136 255h2v1h-2zM139 255h2v1h-2zM142 255h1v1h-1zM144 255h1v1h-1zM147 255h1v1h-1zM280 255h2v1h-2zM290 255h5v1h-5zM298 255h2v1h-2zM457 255h1v1h-1zM465 255h1v1h-1zM475 255h1v1h-1zM136 256h1v1h-1zM141 256h1v1h-1zM143 256h1v1h-1zM145 256h1v1h-1zM147 256h1v1h-1zM281 256h3v1h-3zM292 256h1v1h-1zM295 256h2v1h-2zM298 256h2v1h-2zM302 256h1v1h-1zM304 256h2v1h-2zM457 256h2v1h-2zM464 256h1v1h-1zM469 256h1v1h-1zM472 256h3v1h-3zM128 257h1v1h-1zM137 257h1v1h-1zM142 257h1v1h-1zM145 257h1v1h-1zM147 257h1v1h-1zM283 257h2v1h-2zM288 257h1v1h-1zM290 257h2v1h-2zM293 257h1v1h-1zM297 257h2v1h-2zM300 257h1v1h-1zM306 257h1v1h-1zM464 257h1v1h-1zM470 257h3v1h-3zM474 257h1v1h-1zM128 258h1v1h-1zM131 258h1v1h-1zM133 258h2v1h-2zM137 258h1v1h-1zM146 258h1v1h-1zM284 258h4v1h-4zM289 258h1v1h-1zM291 258h2v1h-2zM297 258h1v1h-1zM299 258h1v1h-1zM301 258h1v1h-1zM303 258h3v1h-3zM460 258h2v1h-2zM464 258h2v1h-2zM470 258h2v1h-2zM475 258h1v1h-1zM98 259h1v1h-1zM125 259h3v1h-3zM129 259h1v1h-1zM131 259h2v1h-2zM135 259h2v1h-2zM284 259h2v1h-2zM289 259h1v1h-1zM291 259h1v1h-1zM295 259h3v1h-3zM300 259h1v1h-1zM302 259h1v1h-1zM474 259h1v1h-1zM118 260h1v1h-1zM127 260h1v1h-1zM130 260h2v1h-2zM133 260h1v1h-1zM136 260h1v1h-1zM261 260h1v1h-1zM273 260h2v1h-2zM283 260h2v1h-2zM286 260h1v1h-1zM290 260h1v1h-1zM294 260h1v1h-1zM300 260h1v1h-1zM431 260h3v1h-3zM444 260h1v1h-1zM446 260h2v1h-2zM459 260h2v1h-2zM474 260h1v1h-1zM95 261h1v1h-1zM129 261h1v1h-1zM131 261h1v1h-1zM133 261h1v1h-1zM135 261h1v1h-1zM137 261h1v1h-1zM262 261h1v1h-1zM274 261h1v1h-1zM280 261h2v1h-2zM284 261h1v1h-1zM286 261h1v1h-1zM290 261h1v1h-1zM293 261h1v1h-1zM298 261h2v1h-2zM439 261h1v1h-1zM443 261h2v1h-2zM446 261h2v1h-2zM473 261h1v1h-1zM93 262h1v1h-1zM95 262h1v1h-1zM97 262h1v1h-1zM108 262h1v1h-1zM126 262h1v1h-1zM128 262h1v1h-1zM130 262h1v1h-1zM132 262h1v1h-1zM135 262h1v1h-1zM137 262h1v1h-1zM253 262h4v1h-4zM258 262h4v1h-4zM265 262h1v1h-1zM267 262h1v1h-1zM273 262h1v1h-1zM275 262h1v1h-1zM282 262h1v1h-1zM285 262h1v1h-1zM289 262h1v1h-1zM291 262h2v1h-2zM294 262h1v1h-1zM296 262h4v1h-4zM303 262h2v1h-2zM439 262h2v1h-2zM448 262h2v1h-2zM472 262h1v1h-1zM93 263h1v1h-1zM95 263h1v1h-1zM106 263h1v1h-1zM108 263h1v1h-1zM110 263h1v1h-1zM126 263h2v1h-2zM129 263h1v1h-1zM136 263h1v1h-1zM251 263h1v1h-1zM253 263h1v1h-1zM259 263h1v1h-1zM264 263h1v1h-1zM267 263h1v1h-1zM269 263h4v1h-4zM276 263h1v1h-1zM278 263h1v1h-1zM281 263h1v1h-1zM283 263h1v1h-1zM290 263h1v1h-1zM293 263h1v1h-1zM297 263h1v1h-1zM300 263h1v1h-1zM302 263h1v1h-1zM305 263h1v1h-1zM433 263h2v1h-2zM437 263h2v1h-2zM440 263h1v1h-1zM455 263h1v1h-1zM464 263h1v1h-1zM472 263h1v1h-1zM92 264h1v1h-1zM96 264h1v1h-1zM98 264h2v1h-2zM101 264h1v1h-1zM106 264h1v1h-1zM108 264h1v1h-1zM113 264h1v1h-1zM125 264h1v1h-1zM128 264h1v1h-1zM249 264h1v1h-1zM251 264h1v1h-1zM253 264h1v1h-1zM255 264h1v1h-1zM260 264h2v1h-2zM264 264h1v1h-1zM266 264h1v1h-1zM269 264h3v1h-3zM276 264h1v1h-1zM279 264h1v1h-1zM281 264h1v1h-1zM283 264h1v1h-1zM297 264h1v1h-1zM300 264h1v1h-1zM303 264h2v1h-2zM395 264h3v1h-3zM408 264h1v1h-1zM416 264h1v1h-1zM433 264h1v1h-1zM435 264h1v1h-1zM440 264h1v1h-1zM446 264h1v1h-1zM455 264h1v1h-1zM464 264h2v1h-2zM471 264h1v1h-1zM90 265h1v1h-1zM104 265h3v1h-3zM109 265h1v1h-1zM111 265h1v1h-1zM114 265h1v1h-1zM116 265h3v1h-3zM128 265h1v1h-1zM246 265h3v1h-3zM252 265h1v1h-1zM254 265h1v1h-1zM256 265h1v1h-1zM261 265h2v1h-2zM267 265h3v1h-3zM272 265h1v1h-1zM279 265h2v1h-2zM282 265h1v1h-1zM297 265h1v1h-1zM300 265h1v1h-1zM397 265h1v1h-1zM399 265h3v1h-3zM405 265h1v1h-1zM407 265h1v1h-1zM409 265h1v1h-1zM413 265h1v1h-1zM415 265h3v1h-3zM429 265h2v1h-2zM432 265h1v1h-1zM434 265h1v1h-1zM438 265h2v1h-2zM443 265h1v1h-1zM445 265h2v1h-2zM455 265h1v1h-1zM469 265h1v1h-1zM473 265h1v1h-1zM90 266h2v1h-2zM102 266h1v1h-1zM105 266h1v1h-1zM107 266h1v1h-1zM115 266h1v1h-1zM119 266h1v1h-1zM121 266h2v1h-2zM128 266h1v1h-1zM130 266h2v1h-2zM244 266h1v1h-1zM246 266h2v1h-2zM249 266h1v1h-1zM255 266h1v1h-1zM258 266h1v1h-1zM260 266h1v1h-1zM262 266h1v1h-1zM264 266h1v1h-1zM266 266h2v1h-2zM269 266h1v1h-1zM272 266h1v1h-1zM278 266h2v1h-2zM281 266h1v1h-1zM286 266h1v1h-1zM292 266h1v1h-1zM297 266h1v1h-1zM395 266h1v1h-1zM399 266h1v1h-1zM403 266h2v1h-2zM406 266h1v1h-1zM410 266h1v1h-1zM413 266h3v1h-3zM420 266h1v1h-1zM429 266h2v1h-2zM432 266h2v1h-2zM438 266h1v1h-1zM445 266h1v1h-1zM454 266h1v1h-1zM468 266h3v1h-3zM472 266h1v1h-1zM474 266h1v1h-1zM84 267h1v1h-1zM87 267h4v1h-4zM92 267h1v1h-1zM98 267h1v1h-1zM103 267h1v1h-1zM105 267h2v1h-2zM120 267h1v1h-1zM123 267h2v1h-2zM126 267h2v1h-2zM129 267h1v1h-1zM132 267h1v1h-1zM140 267h1v1h-1zM241 267h2v1h-2zM245 267h1v1h-1zM248 267h1v1h-1zM257 267h1v1h-1zM259 267h1v1h-1zM261 267h1v1h-1zM263 267h1v1h-1zM265 267h1v1h-1zM268 267h1v1h-1zM270 267h3v1h-3zM280 267h1v1h-1zM285 267h1v1h-1zM288 267h1v1h-1zM291 267h1v1h-1zM293 267h1v1h-1zM297 267h1v1h-1zM299 267h2v1h-2zM396 267h2v1h-2zM400 267h1v1h-1zM405 267h1v1h-1zM407 267h1v1h-1zM410 267h3v1h-3zM415 267h1v1h-1zM421 267h1v1h-1zM432 267h2v1h-2zM439 267h1v1h-1zM444 267h1v1h-1zM446 267h1v1h-1zM449 267h1v1h-1zM453 267h2v1h-2zM461 267h1v1h-1zM467 267h1v1h-1zM471 267h1v1h-1zM473 267h1v1h-1zM83 268h1v1h-1zM85 268h3v1h-3zM89 268h2v1h-2zM92 268h1v1h-1zM97 268h1v1h-1zM99 268h1v1h-1zM104 268h1v1h-1zM125 268h1v1h-1zM130 268h2v1h-2zM139 268h1v1h-1zM141 268h1v1h-1zM246 268h2v1h-2zM258 268h1v1h-1zM263 268h2v1h-2zM268 268h1v1h-1zM271 268h1v1h-1zM273 268h1v1h-1zM289 268h1v1h-1zM292 268h1v1h-1zM298 268h2v1h-2zM301 268h1v1h-1zM395 268h1v1h-1zM397 268h1v1h-1zM404 268h1v1h-1zM406 268h1v1h-1zM409 268h1v1h-1zM411 268h1v1h-1zM416 268h2v1h-2zM420 268h2v1h-2zM425 268h2v1h-2zM430 268h2v1h-2zM434 268h2v1h-2zM437 268h1v1h-1zM439 268h1v1h-1zM442 268h1v1h-1zM444 268h1v1h-1zM446 268h1v1h-1zM448 268h2v1h-2zM460 268h2v1h-2zM466 268h3v1h-3zM471 268h1v1h-1zM82 269h1v1h-1zM88 269h2v1h-2zM91 269h1v1h-1zM97 269h2v1h-2zM140 269h1v1h-1zM232 269h1v1h-1zM240 269h1v1h-1zM245 269h1v1h-1zM248 269h2v1h-2zM257 269h1v1h-1zM259 269h1v1h-1zM262 269h1v1h-1zM265 269h1v1h-1zM267 269h1v1h-1zM272 269h1v1h-1zM286 269h1v1h-1zM289 269h1v1h-1zM300 269h1v1h-1zM397 269h2v1h-2zM403 269h1v1h-1zM405 269h1v1h-1zM408 269h1v1h-1zM416 269h2v1h-2zM420 269h1v1h-1zM422 269h1v1h-1zM424 269h1v1h-1zM429 269h1v1h-1zM433 269h1v1h-1zM435 269h2v1h-2zM438 269h1v1h-1zM441 269h1v1h-1zM445 269h2v1h-2zM453 269h1v1h-1zM466 269h1v1h-1zM468 269h1v1h-1zM470 269h1v1h-1zM82 270h1v1h-1zM88 270h1v1h-1zM90 270h1v1h-1zM96 270h1v1h-1zM98 270h1v1h-1zM241 270h1v1h-1zM246 270h3v1h-3zM250 270h1v1h-1zM256 270h3v1h-3zM262 270h1v1h-1zM265 270h1v1h-1zM286 270h3v1h-3zM301 270h1v1h-1zM396 270h1v1h-1zM398 270h1v1h-1zM404 270h1v1h-1zM407 270h1v1h-1zM411 270h1v1h-1zM415 270h1v1h-1zM417 270h4v1h-4zM422 270h1v1h-1zM424 270h2v1h-2zM432 270h3v1h-3zM438 270h1v1h-1zM442 270h2v1h-2zM446 270h3v1h-3zM453 270h1v1h-1zM458 270h2v1h-2zM466 270h2v1h-2zM470 270h1v1h-1zM477 270h2v1h-2zM79 271h3v1h-3zM83 271h1v1h-1zM89 271h1v1h-1zM97 271h1v1h-1zM109 271h2v1h-2zM236 271h1v1h-1zM240 271h1v1h-1zM248 271h1v1h-1zM250 271h1v1h-1zM255 271h1v1h-1zM258 271h1v1h-1zM260 271h1v1h-1zM262 271h3v1h-3zM285 271h1v1h-1zM287 271h1v1h-1zM300 271h1v1h-1zM302 271h1v1h-1zM397 271h1v1h-1zM408 271h1v1h-1zM410 271h1v1h-1zM416 271h1v1h-1zM419 271h1v1h-1zM426 271h1v1h-1zM431 271h1v1h-1zM434 271h1v1h-1zM439 271h1v1h-1zM448 271h1v1h-1zM459 271h1v1h-1zM462 271h2v1h-2zM466 271h1v1h-1zM469 271h1v1h-1zM476 271h1v1h-1zM479 271h1v1h-1zM77 272h2v1h-2zM82 272h1v1h-1zM108 272h1v1h-1zM111 272h1v1h-1zM234 272h1v1h-1zM236 272h1v1h-1zM239 272h1v1h-1zM249 272h1v1h-1zM256 272h2v1h-2zM259 272h1v1h-1zM261 272h1v1h-1zM263 272h1v1h-1zM286 272h1v1h-1zM301 272h1v1h-1zM396 272h1v1h-1zM398 272h1v1h-1zM411 272h1v1h-1zM419 272h1v1h-1zM421 272h3v1h-3zM426 272h1v1h-1zM432 272h1v1h-1zM435 272h2v1h-2zM443 272h1v1h-1zM447 272h1v1h-1zM449 272h1v1h-1zM452 272h1v1h-1zM454 272h1v1h-1zM463 272h1v1h-1zM472 272h1v1h-1zM477 272h2v1h-2zM77 273h1v1h-1zM84 273h2v1h-2zM109 273h2v1h-2zM232 273h2v1h-2zM239 273h1v1h-1zM260 273h1v1h-1zM262 273h1v1h-1zM397 273h1v1h-1zM410 273h1v1h-1zM412 273h1v1h-1zM420 273h1v1h-1zM424 273h2v1h-2zM434 273h2v1h-2zM437 273h1v1h-1zM442 273h1v1h-1zM447 273h1v1h-1zM450 273h1v1h-1zM452 273h1v1h-1zM454 273h1v1h-1zM458 273h2v1h-2zM462 273h2v1h-2zM465 273h1v1h-1zM468 273h1v1h-1zM471 273h1v1h-1zM83 274h1v1h-1zM86 274h1v1h-1z"/><path fill="#909090" d="M445 66h1v1h-1zM447 67h1v1h-1zM454 68h1v1h-1zM430 69h1v1h-1zM455 69h1v1h-1zM405 70h1v1h-1zM453 70h2v1h-2zM460 70h2v1h-2zM467 70h1v1h-1zM399 71h1v1h-1zM416 71h1v1h-1zM448 71h2v1h-2zM463 71h1v1h-1zM422 72h1v1h-1zM445 72h1v1h-1zM447 72h1v1h-1zM451 72h1v1h-1zM454 72h1v1h-1zM456 72h2v1h-2zM459 72h1v1h-1zM461 72h1v1h-1zM402 73h1v1h-1zM410 73h1v1h-1zM415 73h1v1h-1zM420 73h1v1h-1zM435 73h1v1h-1zM438 73h1v1h-1zM444 73h2v1h-2zM448 73h1v1h-1zM452 73h1v1h-1zM455 73h1v1h-1zM458 73h1v1h-1zM460 73h1v1h-1zM462 73h2v1h-2zM399 74h1v1h-1zM401 74h1v1h-1zM407 74h1v1h-1zM411 74h1v1h-1zM419 74h1v1h-1zM421 74h1v1h-1zM436 74h2v1h-2zM443 74h2v1h-2zM446 74h1v1h-1zM450 74h1v1h-1zM461 74h1v1h-1zM464 74h3v1h-3zM395 75h1v1h-1zM402 75h2v1h-2zM407 75h2v1h-2zM421 75h1v1h-1zM426 75h1v1h-1zM434 75h1v1h-1zM437 75h1v1h-1zM442 75h1v1h-1zM445 75h1v1h-1zM449 75h1v1h-1zM462 75h1v1h-1zM467 75h1v1h-1zM473 75h1v1h-1zM401 76h1v1h-1zM405 76h1v1h-1zM408 76h2v1h-2zM411 76h1v1h-1zM414 76h1v1h-1zM420 76h1v1h-1zM422 76h2v1h-2zM425 76h1v1h-1zM430 76h1v1h-1zM432 76h1v1h-1zM435 76h2v1h-2zM438 76h1v1h-1zM446 76h1v1h-1zM448 76h1v1h-1zM395 77h1v1h-1zM398 77h2v1h-2zM401 77h1v1h-1zM407 77h1v1h-1zM411 77h1v1h-1zM415 77h1v1h-1zM417 77h1v1h-1zM420 77h2v1h-2zM428 77h1v1h-1zM433 77h2v1h-2zM437 77h1v1h-1zM439 77h2v1h-2zM443 77h1v1h-1zM447 77h1v1h-1zM468 77h1v1h-1zM473 77h1v1h-1zM279 78h1v1h-1zM393 78h1v1h-1zM425 78h1v1h-1zM429 78h1v1h-1zM437 78h1v1h-1zM439 78h1v1h-1zM442 78h2v1h-2zM445 78h1v1h-1zM447 78h1v1h-1zM468 78h1v1h-1zM472 78h1v1h-1zM423 79h1v1h-1zM427 79h1v1h-1zM438 79h1v1h-1zM446 79h1v1h-1zM466 79h2v1h-2zM279 80h1v1h-1zM426 80h1v1h-1zM240 81h1v1h-1zM466 81h1v1h-1zM472 81h1v1h-1zM234 82h1v1h-1zM243 82h1v1h-1zM277 82h1v1h-1zM299 82h1v1h-1zM425 82h1v1h-1zM232 83h1v1h-1zM242 83h1v1h-1zM258 83h2v1h-2zM261 83h1v1h-1zM275 83h1v1h-1zM294 83h1v1h-1zM298 83h1v1h-1zM301 83h1v1h-1zM304 83h1v1h-1zM393 83h1v1h-1zM424 83h1v1h-1zM446 83h1v1h-1zM467 83h1v1h-1zM235 84h1v1h-1zM243 84h1v1h-1zM262 84h1v1h-1zM265 84h1v1h-1zM268 84h1v1h-1zM274 84h2v1h-2zM277 84h1v1h-1zM288 84h1v1h-1zM299 84h2v1h-2zM305 84h1v1h-1zM393 84h1v1h-1zM424 84h1v1h-1zM445 84h1v1h-1zM233 85h1v1h-1zM236 85h1v1h-1zM239 85h1v1h-1zM242 85h1v1h-1zM256 85h1v1h-1zM259 85h1v1h-1zM268 85h2v1h-2zM273 85h1v1h-1zM275 85h1v1h-1zM285 85h1v1h-1zM287 85h1v1h-1zM294 85h1v1h-1zM297 85h1v1h-1zM301 85h1v1h-1zM303 85h1v1h-1zM230 86h1v1h-1zM247 86h1v1h-1zM249 86h1v1h-1zM254 86h3v1h-3zM260 86h2v1h-2zM264 86h2v1h-2zM267 86h1v1h-1zM270 86h1v1h-1zM272 86h1v1h-1zM275 86h1v1h-1zM277 86h1v1h-1zM284 86h1v1h-1zM286 86h1v1h-1zM288 86h1v1h-1zM292 86h1v1h-1zM294 86h2v1h-2zM298 86h2v1h-2zM302 86h1v1h-1zM304 86h1v1h-1zM394 86h1v1h-1zM464 86h2v1h-2zM467 86h1v1h-1zM233 87h1v1h-1zM237 87h1v1h-1zM239 87h1v1h-1zM245 87h1v1h-1zM258 87h1v1h-1zM262 87h1v1h-1zM268 87h1v1h-1zM273 87h1v1h-1zM275 87h1v1h-1zM279 87h1v1h-1zM285 87h1v1h-1zM294 87h1v1h-1zM301 87h1v1h-1zM305 87h1v1h-1zM414 87h2v1h-2zM430 87h1v1h-1zM448 87h1v1h-1zM456 87h1v1h-1zM466 87h1v1h-1zM230 88h1v1h-1zM235 88h1v1h-1zM238 88h1v1h-1zM242 88h3v1h-3zM247 88h1v1h-1zM249 88h1v1h-1zM253 88h1v1h-1zM257 88h1v1h-1zM260 88h1v1h-1zM262 88h2v1h-2zM265 88h1v1h-1zM269 88h1v1h-1zM273 88h1v1h-1zM275 88h1v1h-1zM277 88h1v1h-1zM280 88h1v1h-1zM284 88h2v1h-2zM290 88h1v1h-1zM292 88h2v1h-2zM296 88h2v1h-2zM299 88h3v1h-3zM306 88h1v1h-1zM394 88h1v1h-1zM403 88h1v1h-1zM408 88h2v1h-2zM413 88h1v1h-1zM415 88h1v1h-1zM420 88h2v1h-2zM425 88h1v1h-1zM430 88h1v1h-1zM432 88h1v1h-1zM437 88h1v1h-1zM448 88h1v1h-1zM456 88h1v1h-1zM464 88h1v1h-1zM467 88h1v1h-1zM472 88h1v1h-1zM474 88h1v1h-1zM234 89h1v1h-1zM236 89h2v1h-2zM240 89h2v1h-2zM251 89h1v1h-1zM253 89h1v1h-1zM259 89h1v1h-1zM266 89h1v1h-1zM268 89h1v1h-1zM273 89h1v1h-1zM276 89h1v1h-1zM280 89h1v1h-1zM282 89h1v1h-1zM287 89h1v1h-1zM289 89h2v1h-2zM292 89h1v1h-1zM295 89h1v1h-1zM298 89h2v1h-2zM301 89h1v1h-1zM393 89h1v1h-1zM400 89h2v1h-2zM403 89h1v1h-1zM407 89h1v1h-1zM411 89h2v1h-2zM414 89h1v1h-1zM417 89h2v1h-2zM421 89h1v1h-1zM425 89h2v1h-2zM433 89h1v1h-1zM437 89h1v1h-1zM442 89h2v1h-2zM450 89h1v1h-1zM463 89h1v1h-1zM474 89h1v1h-1zM230 90h3v1h-3zM234 90h1v1h-1zM237 90h1v1h-1zM242 90h1v1h-1zM244 90h1v1h-1zM251 90h1v1h-1zM255 90h1v1h-1zM259 90h1v1h-1zM262 90h2v1h-2zM265 90h1v1h-1zM269 90h1v1h-1zM274 90h1v1h-1zM277 90h1v1h-1zM279 90h1v1h-1zM281 90h1v1h-1zM284 90h1v1h-1zM286 90h1v1h-1zM289 90h1v1h-1zM291 90h2v1h-2zM295 90h1v1h-1zM306 90h1v1h-1zM396 90h1v1h-1zM402 90h1v1h-1zM410 90h1v1h-1zM414 90h2v1h-2zM419 90h1v1h-1zM424 90h1v1h-1zM426 90h1v1h-1zM434 90h2v1h-2zM444 90h1v1h-1zM446 90h1v1h-1zM449 90h1v1h-1zM451 90h1v1h-1zM463 90h1v1h-1zM233 91h1v1h-1zM239 91h1v1h-1zM242 91h1v1h-1zM244 91h1v1h-1zM247 91h1v1h-1zM251 91h1v1h-1zM255 91h1v1h-1zM261 91h1v1h-1zM270 91h1v1h-1zM273 91h1v1h-1zM275 91h2v1h-2zM286 91h1v1h-1zM288 91h1v1h-1zM290 91h1v1h-1zM297 91h1v1h-1zM299 91h2v1h-2zM303 91h2v1h-2zM393 91h1v1h-1zM395 91h1v1h-1zM401 91h1v1h-1zM407 91h1v1h-1zM409 91h1v1h-1zM415 91h1v1h-1zM418 91h1v1h-1zM420 91h1v1h-1zM422 91h1v1h-1zM424 91h1v1h-1zM428 91h1v1h-1zM431 91h2v1h-2zM435 91h1v1h-1zM438 91h2v1h-2zM443 91h1v1h-1zM447 91h1v1h-1zM453 91h2v1h-2zM460 91h1v1h-1zM463 91h2v1h-2zM466 91h1v1h-1zM468 91h1v1h-1zM470 91h1v1h-1zM234 92h1v1h-1zM239 92h1v1h-1zM241 92h1v1h-1zM244 92h1v1h-1zM251 92h1v1h-1zM253 92h1v1h-1zM255 92h1v1h-1zM257 92h2v1h-2zM263 92h3v1h-3zM267 92h1v1h-1zM270 92h1v1h-1zM277 92h1v1h-1zM282 92h1v1h-1zM284 92h1v1h-1zM286 92h1v1h-1zM289 92h1v1h-1zM295 92h1v1h-1zM301 92h1v1h-1zM304 92h1v1h-1zM306 92h1v1h-1zM393 92h1v1h-1zM395 92h1v1h-1zM399 92h1v1h-1zM403 92h1v1h-1zM405 92h1v1h-1zM407 92h1v1h-1zM415 92h1v1h-1zM421 92h1v1h-1zM425 92h1v1h-1zM428 92h1v1h-1zM431 92h1v1h-1zM433 92h1v1h-1zM437 92h1v1h-1zM439 92h1v1h-1zM441 92h2v1h-2zM447 92h1v1h-1zM450 92h1v1h-1zM453 92h1v1h-1zM461 92h1v1h-1zM464 92h1v1h-1zM466 92h2v1h-2zM229 93h1v1h-1zM231 93h1v1h-1zM243 93h1v1h-1zM248 93h1v1h-1zM252 93h1v1h-1zM262 93h1v1h-1zM266 93h1v1h-1zM270 93h1v1h-1zM273 93h2v1h-2zM283 93h1v1h-1zM285 93h1v1h-1zM287 93h2v1h-2zM295 93h1v1h-1zM298 93h1v1h-1zM302 93h1v1h-1zM307 93h1v1h-1zM395 93h1v1h-1zM399 93h1v1h-1zM401 93h1v1h-1zM403 93h1v1h-1zM405 93h1v1h-1zM407 93h2v1h-2zM410 93h1v1h-1zM415 93h2v1h-2zM425 93h1v1h-1zM434 93h1v1h-1zM450 93h1v1h-1zM454 93h1v1h-1zM456 93h2v1h-2zM459 93h1v1h-1zM461 93h2v1h-2zM464 93h2v1h-2zM469 93h1v1h-1zM230 94h1v1h-1zM240 94h1v1h-1zM245 94h1v1h-1zM248 94h1v1h-1zM250 94h1v1h-1zM256 94h1v1h-1zM271 94h1v1h-1zM274 94h1v1h-1zM307 94h1v1h-1zM395 94h1v1h-1zM398 94h1v1h-1zM400 94h1v1h-1zM403 94h2v1h-2zM409 94h1v1h-1zM411 94h1v1h-1zM416 94h1v1h-1zM424 94h1v1h-1zM427 94h1v1h-1zM430 94h2v1h-2zM434 94h2v1h-2zM437 94h1v1h-1zM446 94h1v1h-1zM448 94h1v1h-1zM451 94h2v1h-2zM455 94h1v1h-1zM464 94h1v1h-1zM467 94h1v1h-1zM235 95h1v1h-1zM237 95h1v1h-1zM239 95h1v1h-1zM241 95h1v1h-1zM243 95h1v1h-1zM250 95h2v1h-2zM255 95h1v1h-1zM308 95h1v1h-1zM396 95h1v1h-1zM399 95h1v1h-1zM411 95h1v1h-1zM413 95h1v1h-1zM420 95h1v1h-1zM422 95h1v1h-1zM428 95h2v1h-2zM436 95h1v1h-1zM447 95h1v1h-1zM449 95h2v1h-2zM452 95h2v1h-2zM459 95h1v1h-1zM467 95h1v1h-1zM230 96h1v1h-1zM232 96h1v1h-1zM234 96h1v1h-1zM240 96h1v1h-1zM245 96h2v1h-2zM252 96h3v1h-3zM397 96h1v1h-1zM400 96h1v1h-1zM402 96h3v1h-3zM414 96h1v1h-1zM417 96h1v1h-1zM424 96h1v1h-1zM431 96h1v1h-1zM434 96h1v1h-1zM438 96h1v1h-1zM454 96h1v1h-1zM456 96h1v1h-1zM458 96h1v1h-1zM461 96h2v1h-2zM231 97h1v1h-1zM399 97h1v1h-1zM415 97h1v1h-1zM417 97h1v1h-1zM430 97h1v1h-1zM433 97h1v1h-1zM435 97h1v1h-1zM448 97h1v1h-1zM450 97h1v1h-1zM452 97h1v1h-1zM458 97h1v1h-1zM462 97h1v1h-1zM235 98h1v1h-1zM237 98h1v1h-1zM307 98h1v1h-1zM401 98h2v1h-2zM404 98h1v1h-1zM406 98h1v1h-1zM418 98h1v1h-1zM423 98h2v1h-2zM430 98h1v1h-1zM432 98h1v1h-1zM434 98h1v1h-1zM436 98h1v1h-1zM438 98h1v1h-1zM449 98h1v1h-1zM451 98h1v1h-1zM454 98h1v1h-1zM457 98h1v1h-1zM461 98h1v1h-1zM465 98h1v1h-1zM471 98h1v1h-1zM231 99h1v1h-1zM233 99h1v1h-1zM238 99h1v1h-1zM307 99h1v1h-1zM393 99h1v1h-1zM399 99h2v1h-2zM405 99h1v1h-1zM416 99h1v1h-1zM422 99h1v1h-1zM425 99h1v1h-1zM433 99h1v1h-1zM448 99h2v1h-2zM452 99h2v1h-2zM455 99h1v1h-1zM458 99h1v1h-1zM461 99h1v1h-1zM464 99h1v1h-1zM466 99h1v1h-1zM468 99h1v1h-1zM472 99h1v1h-1zM85 100h1v1h-1zM96 100h1v1h-1zM232 100h1v1h-1zM235 100h1v1h-1zM306 100h1v1h-1zM395 100h1v1h-1zM401 100h3v1h-3zM417 100h2v1h-2zM421 100h1v1h-1zM440 100h1v1h-1zM443 100h1v1h-1zM451 100h1v1h-1zM453 100h1v1h-1zM456 100h2v1h-2zM459 100h3v1h-3zM463 100h1v1h-1zM472 100h1v1h-1zM83 101h1v1h-1zM91 101h1v1h-1zM94 101h1v1h-1zM97 101h1v1h-1zM232 101h3v1h-3zM237 101h1v1h-1zM306 101h1v1h-1zM394 101h1v1h-1zM397 101h1v1h-1zM414 101h1v1h-1zM422 101h3v1h-3zM433 101h1v1h-1zM441 101h2v1h-2zM444 101h1v1h-1zM451 101h1v1h-1zM454 101h1v1h-1zM459 101h1v1h-1zM461 101h1v1h-1zM463 101h2v1h-2zM466 101h1v1h-1zM471 101h1v1h-1zM80 102h1v1h-1zM87 102h1v1h-1zM89 102h2v1h-2zM230 102h1v1h-1zM236 102h1v1h-1zM238 102h1v1h-1zM396 102h1v1h-1zM398 102h1v1h-1zM403 102h1v1h-1zM405 102h1v1h-1zM423 102h1v1h-1zM436 102h1v1h-1zM441 102h1v1h-1zM443 102h1v1h-1zM447 102h1v1h-1zM453 102h1v1h-1zM457 102h1v1h-1zM459 102h1v1h-1zM461 102h1v1h-1zM463 102h1v1h-1zM465 102h1v1h-1zM468 102h2v1h-2zM83 103h1v1h-1zM85 103h2v1h-2zM96 103h1v1h-1zM229 103h1v1h-1zM231 103h1v1h-1zM233 103h1v1h-1zM307 103h1v1h-1zM398 103h1v1h-1zM403 103h1v1h-1zM422 103h1v1h-1zM432 103h1v1h-1zM435 103h1v1h-1zM437 103h1v1h-1zM444 103h1v1h-1zM446 103h1v1h-1zM448 103h3v1h-3zM454 103h1v1h-1zM457 103h1v1h-1zM460 103h1v1h-1zM463 103h1v1h-1zM466 103h1v1h-1zM470 103h2v1h-2zM82 104h1v1h-1zM84 104h1v1h-1zM96 104h1v1h-1zM230 104h3v1h-3zM235 104h1v1h-1zM238 104h1v1h-1zM240 104h2v1h-2zM306 104h1v1h-1zM404 104h1v1h-1zM426 104h1v1h-1zM431 104h1v1h-1zM446 104h1v1h-1zM449 104h1v1h-1zM454 104h2v1h-2zM463 104h1v1h-1zM468 104h1v1h-1zM94 105h1v1h-1zM96 105h1v1h-1zM235 105h1v1h-1zM237 105h1v1h-1zM409 105h2v1h-2zM418 105h1v1h-1zM428 105h1v1h-1zM437 105h1v1h-1zM439 105h1v1h-1zM442 105h1v1h-1zM450 105h1v1h-1zM453 105h1v1h-1zM456 105h1v1h-1zM458 105h1v1h-1zM464 105h1v1h-1zM469 105h1v1h-1zM76 106h1v1h-1zM80 106h1v1h-1zM82 106h1v1h-1zM231 106h3v1h-3zM235 106h2v1h-2zM307 106h1v1h-1zM408 106h1v1h-1zM439 106h2v1h-2zM442 106h1v1h-1zM446 106h2v1h-2zM450 106h1v1h-1zM452 106h1v1h-1zM455 106h1v1h-1zM457 106h2v1h-2zM460 106h2v1h-2zM465 106h1v1h-1zM470 106h1v1h-1zM94 107h1v1h-1zM230 107h1v1h-1zM232 107h1v1h-1zM308 107h1v1h-1zM418 107h1v1h-1zM437 107h2v1h-2zM441 107h1v1h-1zM448 107h1v1h-1zM450 107h1v1h-1zM452 107h1v1h-1zM459 107h1v1h-1zM461 107h1v1h-1zM464 107h1v1h-1zM467 107h1v1h-1zM470 107h1v1h-1zM72 108h1v1h-1zM74 108h1v1h-1zM232 108h1v1h-1zM235 108h2v1h-2zM290 108h2v1h-2zM403 108h1v1h-1zM416 108h2v1h-2zM426 108h1v1h-1zM429 108h1v1h-1zM438 108h1v1h-1zM440 108h3v1h-3zM444 108h1v1h-1zM450 108h1v1h-1zM456 108h2v1h-2zM463 108h1v1h-1zM465 108h1v1h-1zM468 108h1v1h-1zM470 108h1v1h-1zM93 109h1v1h-1zM229 109h1v1h-1zM231 109h1v1h-1zM233 109h1v1h-1zM237 109h1v1h-1zM307 109h1v1h-1zM415 109h1v1h-1zM418 109h1v1h-1zM435 109h1v1h-1zM443 109h1v1h-1zM445 109h1v1h-1zM452 109h1v1h-1zM455 109h1v1h-1zM457 109h1v1h-1zM461 109h1v1h-1zM465 109h1v1h-1zM467 109h1v1h-1zM92 110h1v1h-1zM94 110h1v1h-1zM230 110h1v1h-1zM411 110h1v1h-1zM423 110h1v1h-1zM425 110h1v1h-1zM433 110h1v1h-1zM441 110h1v1h-1zM443 110h1v1h-1zM447 110h1v1h-1zM449 110h1v1h-1zM461 110h1v1h-1zM90 111h1v1h-1zM230 111h2v1h-2zM233 111h2v1h-2zM237 111h1v1h-1zM307 111h1v1h-1zM395 111h1v1h-1zM397 111h1v1h-1zM411 111h1v1h-1zM416 111h1v1h-1zM418 111h1v1h-1zM424 111h1v1h-1zM431 111h1v1h-1zM435 111h1v1h-1zM440 111h1v1h-1zM446 111h1v1h-1zM459 111h1v1h-1zM473 111h1v1h-1zM87 112h2v1h-2zM93 112h1v1h-1zM231 112h1v1h-1zM233 112h1v1h-1zM236 112h1v1h-1zM398 112h1v1h-1zM409 112h1v1h-1zM423 112h1v1h-1zM433 112h1v1h-1zM445 112h1v1h-1zM447 112h1v1h-1zM449 112h1v1h-1zM452 112h1v1h-1zM454 112h1v1h-1zM458 112h1v1h-1zM460 112h2v1h-2zM465 112h1v1h-1zM467 112h1v1h-1zM238 113h1v1h-1zM395 113h1v1h-1zM410 113h1v1h-1zM412 113h1v1h-1zM440 113h1v1h-1zM447 113h1v1h-1zM457 113h1v1h-1zM460 113h1v1h-1zM462 113h1v1h-1zM86 114h1v1h-1zM233 114h1v1h-1zM235 114h1v1h-1zM238 114h1v1h-1zM446 114h1v1h-1zM460 114h1v1h-1zM234 115h1v1h-1zM236 115h1v1h-1zM307 115h1v1h-1zM72 116h1v1h-1zM85 116h1v1h-1zM232 116h2v1h-2zM72 117h1v1h-1zM82 117h1v1h-1zM230 117h1v1h-1zM232 117h1v1h-1zM236 117h1v1h-1zM248 117h1v1h-1zM297 117h1v1h-1zM305 117h1v1h-1zM307 117h1v1h-1zM80 118h1v1h-1zM277 226h1v1h-1zM405 226h1v1h-1zM275 227h1v1h-1zM289 227h1v1h-1zM296 227h1v1h-1zM403 227h1v1h-1zM406 227h1v1h-1zM258 228h1v1h-1zM276 228h1v1h-1zM294 228h1v1h-1zM435 228h2v1h-2zM459 228h1v1h-1zM251 229h1v1h-1zM276 229h1v1h-1zM290 229h1v1h-1zM396 229h1v1h-1zM436 229h1v1h-1zM279 230h1v1h-1zM283 230h1v1h-1zM285 230h1v1h-1zM289 230h1v1h-1zM406 230h1v1h-1zM408 230h1v1h-1zM435 230h1v1h-1zM437 230h1v1h-1zM440 230h1v1h-1zM445 230h1v1h-1zM88 231h1v1h-1zM238 231h1v1h-1zM270 231h1v1h-1zM281 231h1v1h-1zM284 231h1v1h-1zM287 231h1v1h-1zM302 231h1v1h-1zM406 231h1v1h-1zM415 231h1v1h-1zM436 231h1v1h-1zM439 231h1v1h-1zM476 231h1v1h-1zM121 232h1v1h-1zM123 232h1v1h-1zM236 232h1v1h-1zM251 232h1v1h-1zM258 232h1v1h-1zM260 232h1v1h-1zM266 232h1v1h-1zM268 232h1v1h-1zM271 232h1v1h-1zM276 232h1v1h-1zM280 232h2v1h-2zM285 232h1v1h-1zM288 232h1v1h-1zM290 232h1v1h-1zM294 232h1v1h-1zM300 232h1v1h-1zM304 232h1v1h-1zM402 232h1v1h-1zM404 232h2v1h-2zM407 232h1v1h-1zM416 232h1v1h-1zM418 232h1v1h-1zM421 232h1v1h-1zM430 232h1v1h-1zM438 232h1v1h-1zM440 232h1v1h-1zM443 232h1v1h-1zM446 232h1v1h-1zM466 232h1v1h-1zM470 232h1v1h-1zM94 233h1v1h-1zM101 233h1v1h-1zM103 233h1v1h-1zM117 233h1v1h-1zM119 233h2v1h-2zM237 233h1v1h-1zM250 233h1v1h-1zM253 233h1v1h-1zM268 233h1v1h-1zM277 233h1v1h-1zM281 233h1v1h-1zM288 233h1v1h-1zM290 233h1v1h-1zM293 233h1v1h-1zM301 233h2v1h-2zM311 233h1v1h-1zM396 233h1v1h-1zM398 233h1v1h-1zM400 233h1v1h-1zM403 233h1v1h-1zM410 233h1v1h-1zM414 233h1v1h-1zM416 233h1v1h-1zM441 233h1v1h-1zM457 233h1v1h-1zM464 233h1v1h-1zM468 233h1v1h-1zM471 233h1v1h-1zM473 233h1v1h-1zM75 234h1v1h-1zM81 234h1v1h-1zM96 234h1v1h-1zM100 234h1v1h-1zM111 234h1v1h-1zM118 234h1v1h-1zM122 234h1v1h-1zM128 234h1v1h-1zM132 234h1v1h-1zM134 234h1v1h-1zM142 234h1v1h-1zM145 234h1v1h-1zM233 234h4v1h-4zM239 234h1v1h-1zM251 234h1v1h-1zM254 234h1v1h-1zM267 234h2v1h-2zM272 234h1v1h-1zM274 234h1v1h-1zM277 234h1v1h-1zM279 234h2v1h-2zM282 234h2v1h-2zM285 234h1v1h-1zM287 234h1v1h-1zM289 234h2v1h-2zM292 234h1v1h-1zM295 234h1v1h-1zM298 234h1v1h-1zM300 234h1v1h-1zM411 234h1v1h-1zM413 234h1v1h-1zM415 234h2v1h-2zM424 234h1v1h-1zM439 234h1v1h-1zM444 234h1v1h-1zM452 234h1v1h-1zM455 234h1v1h-1zM458 234h2v1h-2zM462 234h3v1h-3zM468 234h2v1h-2zM471 234h1v1h-1zM474 234h1v1h-1zM95 235h2v1h-2zM99 235h1v1h-1zM103 235h1v1h-1zM105 235h1v1h-1zM108 235h1v1h-1zM112 235h1v1h-1zM119 235h1v1h-1zM123 235h1v1h-1zM126 235h2v1h-2zM130 235h2v1h-2zM136 235h1v1h-1zM139 235h2v1h-2zM143 235h2v1h-2zM232 235h1v1h-1zM243 235h1v1h-1zM250 235h1v1h-1zM252 235h2v1h-2zM258 235h1v1h-1zM270 235h2v1h-2zM276 235h1v1h-1zM280 235h1v1h-1zM284 235h1v1h-1zM288 235h2v1h-2zM291 235h1v1h-1zM294 235h1v1h-1zM296 235h1v1h-1zM300 235h1v1h-1zM423 235h1v1h-1zM427 235h2v1h-2zM433 235h1v1h-1zM453 235h1v1h-1zM455 235h1v1h-1zM460 235h1v1h-1zM470 235h1v1h-1zM73 236h1v1h-1zM75 236h1v1h-1zM78 236h2v1h-2zM81 236h1v1h-1zM85 236h1v1h-1zM89 236h2v1h-2zM97 236h2v1h-2zM100 236h1v1h-1zM102 236h1v1h-1zM104 236h1v1h-1zM107 236h1v1h-1zM110 236h1v1h-1zM114 236h1v1h-1zM117 236h1v1h-1zM119 236h1v1h-1zM122 236h1v1h-1zM124 236h2v1h-2zM129 236h1v1h-1zM132 236h2v1h-2zM136 236h1v1h-1zM142 236h2v1h-2zM235 236h1v1h-1zM237 236h1v1h-1zM241 236h1v1h-1zM246 236h1v1h-1zM249 236h1v1h-1zM251 236h1v1h-1zM257 236h1v1h-1zM267 236h1v1h-1zM272 236h1v1h-1zM274 236h1v1h-1zM280 236h1v1h-1zM283 236h1v1h-1zM288 236h1v1h-1zM291 236h2v1h-2zM297 236h1v1h-1zM301 236h1v1h-1zM305 236h1v1h-1zM307 236h1v1h-1zM425 236h1v1h-1zM430 236h1v1h-1zM434 236h2v1h-2zM437 236h2v1h-2zM456 236h1v1h-1zM465 236h3v1h-3zM475 236h1v1h-1zM75 237h1v1h-1zM77 237h1v1h-1zM87 237h1v1h-1zM91 237h1v1h-1zM95 237h1v1h-1zM97 237h1v1h-1zM99 237h1v1h-1zM116 237h1v1h-1zM121 237h2v1h-2zM128 237h1v1h-1zM130 237h1v1h-1zM134 237h1v1h-1zM141 237h1v1h-1zM144 237h1v1h-1zM233 237h1v1h-1zM235 237h1v1h-1zM237 237h1v1h-1zM248 237h1v1h-1zM265 237h1v1h-1zM268 237h1v1h-1zM272 237h1v1h-1zM274 237h1v1h-1zM278 237h1v1h-1zM288 237h3v1h-3zM294 237h1v1h-1zM298 237h1v1h-1zM300 237h1v1h-1zM303 237h2v1h-2zM313 237h1v1h-1zM316 237h1v1h-1zM395 237h1v1h-1zM419 237h3v1h-3zM423 237h4v1h-4zM430 237h1v1h-1zM441 237h1v1h-1zM443 237h1v1h-1zM446 237h1v1h-1zM455 237h1v1h-1zM472 237h2v1h-2zM73 238h1v1h-1zM78 238h1v1h-1zM81 238h1v1h-1zM84 238h1v1h-1zM97 238h1v1h-1zM100 238h1v1h-1zM108 238h2v1h-2zM116 238h1v1h-1zM119 238h1v1h-1zM130 238h1v1h-1zM134 238h1v1h-1zM136 238h3v1h-3zM140 238h1v1h-1zM149 238h1v1h-1zM232 238h1v1h-1zM264 238h1v1h-1zM272 238h1v1h-1zM278 238h1v1h-1zM280 238h1v1h-1zM283 238h1v1h-1zM288 238h1v1h-1zM293 238h1v1h-1zM297 238h2v1h-2zM307 238h1v1h-1zM315 238h1v1h-1zM422 238h2v1h-2zM430 238h1v1h-1zM433 238h1v1h-1zM445 238h1v1h-1zM449 238h1v1h-1zM454 238h1v1h-1zM456 238h1v1h-1zM477 238h1v1h-1zM101 239h1v1h-1zM110 239h1v1h-1zM114 239h1v1h-1zM116 239h1v1h-1zM118 239h1v1h-1zM124 239h1v1h-1zM131 239h2v1h-2zM137 239h1v1h-1zM150 239h1v1h-1zM260 239h1v1h-1zM263 239h1v1h-1zM272 239h1v1h-1zM282 239h1v1h-1zM304 239h2v1h-2zM395 239h1v1h-1zM421 239h1v1h-1zM432 239h1v1h-1zM435 239h2v1h-2zM447 239h2v1h-2zM454 239h1v1h-1zM476 239h1v1h-1zM101 240h1v1h-1zM103 240h2v1h-2zM111 240h2v1h-2zM116 240h3v1h-3zM124 240h1v1h-1zM126 240h2v1h-2zM129 240h1v1h-1zM144 240h2v1h-2zM268 240h3v1h-3zM301 240h1v1h-1zM303 240h2v1h-2zM307 240h1v1h-1zM396 240h1v1h-1zM435 240h2v1h-2zM448 240h1v1h-1zM478 240h2v1h-2zM72 241h1v1h-1zM102 241h1v1h-1zM109 241h2v1h-2zM125 241h1v1h-1zM129 241h1v1h-1zM146 241h1v1h-1zM148 241h1v1h-1zM262 241h2v1h-2zM286 241h1v1h-1zM301 241h1v1h-1zM305 241h1v1h-1zM454 241h1v1h-1zM481 241h1v1h-1zM110 242h1v1h-1zM145 242h2v1h-2zM232 242h1v1h-1zM260 242h2v1h-2zM263 242h1v1h-1zM269 242h3v1h-3zM286 242h1v1h-1zM301 242h1v1h-1zM304 242h1v1h-1zM307 242h1v1h-1zM396 242h1v1h-1zM422 242h1v1h-1zM454 242h2v1h-2zM477 242h3v1h-3zM72 243h1v1h-1zM101 243h1v1h-1zM147 243h1v1h-1zM232 243h1v1h-1zM269 243h1v1h-1zM395 243h1v1h-1zM421 243h2v1h-2zM476 243h1v1h-1zM480 243h2v1h-2zM100 244h1v1h-1zM147 244h1v1h-1zM265 244h1v1h-1zM270 244h2v1h-2zM274 244h1v1h-1zM305 244h1v1h-1zM420 244h1v1h-1zM436 244h1v1h-1zM444 244h1v1h-1zM455 244h2v1h-2zM476 244h1v1h-1zM479 244h1v1h-1zM106 245h2v1h-2zM126 245h1v1h-1zM143 245h2v1h-2zM232 245h1v1h-1zM265 245h1v1h-1zM274 245h1v1h-1zM304 245h1v1h-1zM409 245h1v1h-1zM419 245h1v1h-1zM421 245h1v1h-1zM423 245h1v1h-1zM435 245h1v1h-1zM440 245h2v1h-2zM444 245h1v1h-1zM475 245h1v1h-1zM120 246h1v1h-1zM127 246h1v1h-1zM145 246h3v1h-3zM232 246h1v1h-1zM260 246h2v1h-2zM265 246h1v1h-1zM280 246h1v1h-1zM305 246h1v1h-1zM307 246h1v1h-1zM309 246h1v1h-1zM395 246h1v1h-1zM408 246h1v1h-1zM421 246h2v1h-2zM444 246h1v1h-1zM455 246h1v1h-1zM120 247h1v1h-1zM144 247h1v1h-1zM270 247h1v1h-1zM281 247h1v1h-1zM300 247h2v1h-2zM424 247h2v1h-2zM440 247h2v1h-2zM445 247h1v1h-1zM455 247h1v1h-1zM121 248h1v1h-1zM144 248h1v1h-1zM148 248h1v1h-1zM268 248h2v1h-2zM424 248h2v1h-2zM443 248h1v1h-1zM445 248h1v1h-1zM455 248h3v1h-3zM477 248h1v1h-1zM72 249h1v1h-1zM99 249h2v1h-2zM103 249h1v1h-1zM119 249h2v1h-2zM145 249h2v1h-2zM269 249h2v1h-2zM273 249h1v1h-1zM275 249h1v1h-1zM288 249h2v1h-2zM299 249h3v1h-3zM303 249h1v1h-1zM422 249h2v1h-2zM426 249h1v1h-1zM444 249h1v1h-1zM457 249h1v1h-1zM102 250h1v1h-1zM122 250h1v1h-1zM124 250h1v1h-1zM136 250h1v1h-1zM260 250h2v1h-2zM263 250h1v1h-1zM268 250h1v1h-1zM274 250h1v1h-1zM280 250h1v1h-1zM282 250h1v1h-1zM284 250h1v1h-1zM288 250h1v1h-1zM424 250h1v1h-1zM446 250h1v1h-1zM475 250h1v1h-1zM96 251h1v1h-1zM123 251h1v1h-1zM136 251h1v1h-1zM139 251h2v1h-2zM143 251h1v1h-1zM145 251h1v1h-1zM262 251h2v1h-2zM268 251h2v1h-2zM280 251h1v1h-1zM283 251h1v1h-1zM289 251h1v1h-1zM292 251h1v1h-1zM301 251h1v1h-1zM303 251h1v1h-1zM306 251h1v1h-1zM443 251h2v1h-2zM462 251h1v1h-1zM97 252h1v1h-1zM101 252h2v1h-2zM131 252h3v1h-3zM135 252h1v1h-1zM141 252h1v1h-1zM261 252h1v1h-1zM282 252h1v1h-1zM286 252h1v1h-1zM289 252h2v1h-2zM292 252h1v1h-1zM308 252h1v1h-1zM395 252h1v1h-1zM427 252h1v1h-1zM461 252h1v1h-1zM464 252h1v1h-1zM466 252h1v1h-1zM118 253h1v1h-1zM125 253h1v1h-1zM134 253h1v1h-1zM136 253h1v1h-1zM142 253h1v1h-1zM145 253h1v1h-1zM274 253h1v1h-1zM280 253h2v1h-2zM283 253h1v1h-1zM286 253h1v1h-1zM288 253h1v1h-1zM290 253h2v1h-2zM293 253h1v1h-1zM295 253h1v1h-1zM300 253h2v1h-2zM426 253h1v1h-1zM434 253h1v1h-1zM457 253h1v1h-1zM460 253h1v1h-1zM464 253h1v1h-1zM466 253h1v1h-1zM473 253h1v1h-1zM475 253h1v1h-1zM118 254h1v1h-1zM126 254h2v1h-2zM131 254h1v1h-1zM133 254h2v1h-2zM138 254h1v1h-1zM141 254h1v1h-1zM143 254h2v1h-2zM268 254h1v1h-1zM275 254h2v1h-2zM278 254h1v1h-1zM283 254h2v1h-2zM297 254h1v1h-1zM300 254h1v1h-1zM395 254h1v1h-1zM434 254h1v1h-1zM455 254h2v1h-2zM467 254h1v1h-1zM469 254h1v1h-1zM471 254h1v1h-1zM473 254h1v1h-1zM100 255h1v1h-1zM123 255h1v1h-1zM132 255h1v1h-1zM135 255h1v1h-1zM145 255h1v1h-1zM269 255h2v1h-2zM274 255h1v1h-1zM277 255h2v1h-2zM284 255h1v1h-1zM286 255h1v1h-1zM296 255h1v1h-1zM301 255h1v1h-1zM395 255h1v1h-1zM423 255h3v1h-3zM434 255h1v1h-1zM453 255h1v1h-1zM458 255h1v1h-1zM462 255h2v1h-2zM468 255h1v1h-1zM470 255h1v1h-1zM472 255h1v1h-1zM100 256h1v1h-1zM123 256h1v1h-1zM127 256h2v1h-2zM130 256h2v1h-2zM135 256h1v1h-1zM261 256h1v1h-1zM274 256h2v1h-2zM277 256h1v1h-1zM280 256h1v1h-1zM285 256h1v1h-1zM287 256h1v1h-1zM418 256h2v1h-2zM423 256h1v1h-1zM444 256h1v1h-1zM454 256h3v1h-3zM460 256h1v1h-1zM466 256h1v1h-1zM468 256h1v1h-1zM98 257h1v1h-1zM122 257h1v1h-1zM127 257h1v1h-1zM130 257h1v1h-1zM132 257h1v1h-1zM134 257h1v1h-1zM262 257h2v1h-2zM277 257h1v1h-1zM279 257h1v1h-1zM282 257h1v1h-1zM301 257h1v1h-1zM303 257h1v1h-1zM395 257h1v1h-1zM411 257h1v1h-1zM417 257h1v1h-1zM441 257h1v1h-1zM445 257h1v1h-1zM458 257h2v1h-2zM461 257h1v1h-1zM466 257h1v1h-1zM469 257h1v1h-1zM98 258h1v1h-1zM119 258h1v1h-1zM123 258h1v1h-1zM126 258h1v1h-1zM129 258h1v1h-1zM260 258h1v1h-1zM263 258h1v1h-1zM272 258h1v1h-1zM274 258h1v1h-1zM280 258h2v1h-2zM410 258h1v1h-1zM422 258h2v1h-2zM430 258h1v1h-1zM439 258h2v1h-2zM456 258h2v1h-2zM462 258h2v1h-2zM467 258h1v1h-1zM473 258h1v1h-1zM72 259h2v1h-2zM97 259h1v1h-1zM99 259h1v1h-1zM118 259h1v1h-1zM122 259h1v1h-1zM124 259h1v1h-1zM256 259h1v1h-1zM258 259h1v1h-1zM260 259h2v1h-2zM264 259h1v1h-1zM267 259h1v1h-1zM272 259h1v1h-1zM274 259h1v1h-1zM276 259h1v1h-1zM279 259h1v1h-1zM281 259h1v1h-1zM298 259h1v1h-1zM423 259h2v1h-2zM426 259h1v1h-1zM430 259h1v1h-1zM432 259h1v1h-1zM447 259h1v1h-1zM449 259h1v1h-1zM451 259h1v1h-1zM456 259h1v1h-1zM458 259h1v1h-1zM460 259h1v1h-1zM465 259h1v1h-1zM468 259h2v1h-2zM471 259h1v1h-1zM473 259h1v1h-1zM73 260h1v1h-1zM93 260h1v1h-1zM99 260h1v1h-1zM111 260h1v1h-1zM113 260h2v1h-2zM117 260h1v1h-1zM119 260h1v1h-1zM122 260h1v1h-1zM125 260h1v1h-1zM256 260h2v1h-2zM262 260h1v1h-1zM266 260h1v1h-1zM270 260h1v1h-1zM272 260h1v1h-1zM277 260h1v1h-1zM282 260h1v1h-1zM298 260h1v1h-1zM424 260h1v1h-1zM426 260h1v1h-1zM430 260h1v1h-1zM434 260h1v1h-1zM436 260h1v1h-1zM439 260h1v1h-1zM443 260h1v1h-1zM445 260h1v1h-1zM449 260h2v1h-2zM452 260h1v1h-1zM456 260h1v1h-1zM458 260h1v1h-1zM462 260h1v1h-1zM466 260h1v1h-1zM469 260h1v1h-1zM94 261h1v1h-1zM96 261h2v1h-2zM100 261h1v1h-1zM106 261h1v1h-1zM111 261h3v1h-3zM117 261h1v1h-1zM122 261h1v1h-1zM124 261h1v1h-1zM126 261h1v1h-1zM257 261h1v1h-1zM260 261h1v1h-1zM263 261h1v1h-1zM265 261h1v1h-1zM267 261h1v1h-1zM269 261h1v1h-1zM272 261h1v1h-1zM275 261h1v1h-1zM279 261h1v1h-1zM295 261h1v1h-1zM395 261h1v1h-1zM423 261h1v1h-1zM431 261h1v1h-1zM433 261h1v1h-1zM437 261h2v1h-2zM442 261h1v1h-1zM449 261h1v1h-1zM456 261h1v1h-1zM459 261h2v1h-2zM463 261h1v1h-1zM467 261h1v1h-1zM472 261h1v1h-1zM91 262h2v1h-2zM98 262h1v1h-1zM103 262h1v1h-1zM107 262h1v1h-1zM109 262h2v1h-2zM114 262h2v1h-2zM120 262h2v1h-2zM123 262h2v1h-2zM251 262h2v1h-2zM263 262h1v1h-1zM278 262h1v1h-1zM410 262h1v1h-1zM413 262h1v1h-1zM418 262h1v1h-1zM425 262h1v1h-1zM428 262h1v1h-1zM437 262h1v1h-1zM441 262h2v1h-2zM444 262h2v1h-2zM447 262h1v1h-1zM450 262h1v1h-1zM453 262h1v1h-1zM456 262h1v1h-1zM464 262h2v1h-2zM469 262h1v1h-1zM91 263h1v1h-1zM97 263h1v1h-1zM100 263h2v1h-2zM103 263h1v1h-1zM105 263h1v1h-1zM111 263h1v1h-1zM114 263h1v1h-1zM122 263h1v1h-1zM250 263h1v1h-1zM261 263h1v1h-1zM263 263h1v1h-1zM268 263h1v1h-1zM277 263h1v1h-1zM407 263h2v1h-2zM410 263h2v1h-2zM414 263h1v1h-1zM416 263h1v1h-1zM418 263h1v1h-1zM420 263h1v1h-1zM424 263h2v1h-2zM427 263h2v1h-2zM432 263h1v1h-1zM435 263h1v1h-1zM446 263h1v1h-1zM448 263h1v1h-1zM450 263h1v1h-1zM453 263h2v1h-2zM456 263h1v1h-1zM458 263h5v1h-5zM466 263h1v1h-1zM469 263h1v1h-1zM90 264h1v1h-1zM103 264h2v1h-2zM110 264h1v1h-1zM112 264h1v1h-1zM115 264h2v1h-2zM118 264h1v1h-1zM120 264h2v1h-2zM123 264h2v1h-2zM126 264h1v1h-1zM248 264h1v1h-1zM398 264h2v1h-2zM403 264h4v1h-4zM410 264h1v1h-1zM413 264h1v1h-1zM415 264h1v1h-1zM418 264h1v1h-1zM420 264h3v1h-3zM426 264h1v1h-1zM429 264h1v1h-1zM437 264h1v1h-1zM441 264h3v1h-3zM447 264h2v1h-2zM450 264h1v1h-1zM458 264h1v1h-1zM460 264h1v1h-1zM463 264h1v1h-1zM467 264h1v1h-1zM470 264h1v1h-1zM102 265h1v1h-1zM120 265h1v1h-1zM122 265h1v1h-1zM125 265h1v1h-1zM232 265h1v1h-1zM244 265h2v1h-2zM263 265h1v1h-1zM277 265h1v1h-1zM402 265h1v1h-1zM411 265h2v1h-2zM418 265h1v1h-1zM420 265h1v1h-1zM422 265h1v1h-1zM425 265h1v1h-1zM427 265h1v1h-1zM431 265h1v1h-1zM435 265h1v1h-1zM444 265h1v1h-1zM450 265h1v1h-1zM454 265h1v1h-1zM456 265h1v1h-1zM458 265h1v1h-1zM466 265h1v1h-1zM468 265h1v1h-1zM84 266h1v1h-1zM87 266h2v1h-2zM104 266h1v1h-1zM124 266h1v1h-1zM126 266h1v1h-1zM232 266h1v1h-1zM240 266h2v1h-2zM243 266h1v1h-1zM299 266h1v1h-1zM398 266h1v1h-1zM417 266h1v1h-1zM421 266h1v1h-1zM425 266h1v1h-1zM427 266h2v1h-2zM436 266h1v1h-1zM440 266h1v1h-1zM443 266h1v1h-1zM447 266h1v1h-1zM451 266h1v1h-1zM453 266h1v1h-1zM456 266h1v1h-1zM461 266h1v1h-1zM467 266h1v1h-1zM83 267h1v1h-1zM287 267h1v1h-1zM417 267h1v1h-1zM419 267h1v1h-1zM425 267h1v1h-1zM427 267h1v1h-1zM430 267h1v1h-1zM435 267h1v1h-1zM437 267h1v1h-1zM441 267h2v1h-2zM448 267h1v1h-1zM450 267h1v1h-1zM455 267h2v1h-2zM462 267h1v1h-1zM466 267h1v1h-1zM81 268h1v1h-1zM232 268h1v1h-1zM236 268h1v1h-1zM240 268h1v1h-1zM266 268h1v1h-1zM286 268h1v1h-1zM399 268h1v1h-1zM423 268h1v1h-1zM428 268h1v1h-1zM440 268h1v1h-1zM443 268h1v1h-1zM451 268h1v1h-1zM453 268h1v1h-1zM459 268h1v1h-1zM462 268h1v1h-1zM469 268h1v1h-1zM235 269h1v1h-1zM239 269h1v1h-1zM410 269h1v1h-1zM448 269h1v1h-1zM450 269h1v1h-1zM452 269h1v1h-1zM458 269h1v1h-1zM460 269h1v1h-1zM465 269h1v1h-1zM78 270h2v1h-2zM81 270h1v1h-1zM232 270h1v1h-1zM235 270h1v1h-1zM239 270h1v1h-1zM409 270h1v1h-1zM440 270h1v1h-1zM444 270h1v1h-1zM450 270h1v1h-1zM452 270h1v1h-1zM455 270h2v1h-2zM463 270h1v1h-1zM77 271h1v1h-1zM234 271h1v1h-1zM237 271h2v1h-2zM421 271h1v1h-1zM423 271h1v1h-1zM444 271h1v1h-1zM446 271h1v1h-1zM450 271h1v1h-1zM453 271h1v1h-1zM455 271h1v1h-1zM458 271h1v1h-1zM461 271h1v1h-1zM471 271h1v1h-1zM433 272h1v1h-1zM451 272h1v1h-1zM455 272h1v1h-1zM459 272h1v1h-1zM461 272h1v1h-1zM465 272h1v1h-1zM469 272h1v1h-1zM237 273h1v1h-1zM444 273h1v1h-1zM457 273h1v1h-1zM470 273h1v1h-1zM76 274h1v1h-1z"/><path fill="#404040" d="M454 75h1v1h-1zM403 77h1v1h-1zM415 80h1v1h-1zM396 82h1v1h-1zM420 82h1v1h-1zM426 84h1v1h-1zM396 85h1v1h-1zM406 85h1v1h-1zM410 85h1v1h-1zM405 87h1v1h-1zM411 87h1v1h-1zM428 87h1v1h-1zM440 87h1v1h-1zM271 88h1v1h-1zM423 88h1v1h-1zM435 88h1v1h-1zM446 88h1v1h-1zM398 89h1v1h-1zM428 89h1v1h-1zM440 89h1v1h-1zM453 89h1v1h-1zM460 89h1v1h-1zM405 90h1v1h-1zM419 93h1v1h-1zM276 94h1v1h-1zM265 95h1v1h-1zM277 96h1v1h-1zM291 96h1v1h-1zM296 96h1v1h-1zM302 97h1v1h-1zM305 97h1v1h-1zM258 98h1v1h-1zM252 99h1v1h-1zM272 99h1v1h-1zM278 99h1v1h-1zM277 101h1v1h-1zM292 102h1v1h-1zM244 103h1v1h-1zM291 104h1v1h-1zM92 105h1v1h-1zM89 106h1v1h-1zM240 106h1v1h-1zM238 107h1v1h-1zM83 108h1v1h-1zM79 109h1v1h-1zM90 109h1v1h-1zM251 109h1v1h-1zM287 109h1v1h-1zM459 109h1v1h-1zM263 110h1v1h-1zM257 111h1v1h-1zM275 111h1v1h-1zM305 111h1v1h-1zM286 112h1v1h-1zM272 113h1v1h-1zM305 113h1v1h-1zM296 114h1v1h-1zM271 115h1v1h-1zM287 115h1v1h-1zM257 116h1v1h-1zM428 237h1v1h-1zM103 238h1v1h-1zM241 238h1v1h-1zM399 238h1v1h-1zM402 238h1v1h-1zM407 238h1v1h-1zM461 238h1v1h-1zM235 239h1v1h-1zM266 239h1v1h-1zM295 239h1v1h-1zM426 239h1v1h-1zM438 239h1v1h-1zM440 239h1v1h-1zM442 239h1v1h-1zM467 239h1v1h-1zM472 239h1v1h-1zM474 239h1v1h-1zM78 240h1v1h-1zM257 240h1v1h-1zM276 240h1v1h-1zM424 240h1v1h-1zM445 240h1v1h-1zM98 241h1v1h-1zM131 241h1v1h-1zM135 241h1v1h-1zM234 241h1v1h-1zM283 241h1v1h-1zM399 241h1v1h-1zM402 241h1v1h-1zM420 241h1v1h-1zM429 241h1v1h-1zM133 242h1v1h-1zM405 242h1v1h-1zM434 242h1v1h-1zM438 242h1v1h-1zM445 242h1v1h-1zM450 242h1v1h-1zM105 243h1v1h-1zM121 243h1v1h-1zM284 243h1v1h-1zM447 243h1v1h-1zM123 244h1v1h-1zM425 244h1v1h-1zM429 244h1v1h-1zM470 244h1v1h-1zM141 245h1v1h-1zM301 245h1v1h-1zM417 245h1v1h-1zM102 246h1v1h-1zM117 246h1v1h-1zM429 246h1v1h-1zM92 247h1v1h-1zM284 247h1v1h-1zM397 247h1v1h-1zM412 247h1v1h-1zM447 247h1v1h-1zM474 247h1v1h-1zM123 248h1v1h-1zM261 248h1v1h-1zM278 248h1v1h-1zM126 249h1v1h-1zM129 249h1v1h-1zM432 249h1v1h-1zM113 250h1v1h-1zM399 250h1v1h-1zM436 250h1v1h-1zM468 250h1v1h-1zM126 251h1v1h-1zM271 251h1v1h-1zM276 251h1v1h-1zM120 252h1v1h-1zM424 252h1v1h-1zM430 252h1v1h-1zM441 252h1v1h-1zM448 252h1v1h-1zM450 252h1v1h-1zM400 253h1v1h-1zM422 253h1v1h-1zM436 253h1v1h-1zM452 253h1v1h-1zM78 254h1v1h-1zM92 254h1v1h-1zM102 254h1v1h-1zM261 254h1v1h-1zM263 254h1v1h-1zM447 254h1v1h-1zM98 255h1v1h-1zM108 255h1v1h-1zM234 255h1v1h-1zM240 255h1v1h-1zM448 256h1v1h-1zM451 256h1v1h-1zM270 257h1v1h-1zM407 258h1v1h-1zM420 258h1v1h-1zM453 258h1v1h-1zM101 259h1v1h-1zM402 259h1v1h-1zM88 260h1v1h-1zM236 260h1v1h-1zM413 260h1v1h-1zM419 260h1v1h-1zM407 261h1v1h-1zM404 262h1v1h-1zM241 263h1v1h-1zM464 267h1v1h-1zM74 271h1v1h-1z"/><path fill="#0a0a0a" d="M470 63h2v1h-2zM402 64h1v1h-1zM462 65h1v1h-1zM444 66h1v1h-1zM446 66h1v1h-1zM473 66h1v1h-1zM438 67h1v1h-1zM445 67h2v1h-2zM448 67h1v1h-1zM452 67h1v1h-1zM455 67h2v1h-2zM465 67h1v1h-1zM430 68h3v1h-3zM455 68h2v1h-2zM464 68h1v1h-1zM474 68h1v1h-1zM241 69h1v1h-1zM282 69h1v1h-1zM431 69h2v1h-2zM449 69h1v1h-1zM453 69h2v1h-2zM460 69h1v1h-1zM474 69h1v1h-1zM241 70h1v1h-1zM404 70h1v1h-1zM449 70h1v1h-1zM455 70h1v1h-1zM462 70h2v1h-2zM466 70h1v1h-1zM470 70h1v1h-1zM398 71h1v1h-1zM404 71h2v1h-2zM414 71h2v1h-2zM418 71h1v1h-1zM446 71h2v1h-2zM452 71h2v1h-2zM457 71h1v1h-1zM460 71h3v1h-3zM467 71h2v1h-2zM398 72h3v1h-3zM414 72h3v1h-3zM421 72h1v1h-1zM424 72h2v1h-2zM431 72h1v1h-1zM436 72h2v1h-2zM444 72h1v1h-1zM446 72h1v1h-1zM448 72h3v1h-3zM452 72h2v1h-2zM455 72h1v1h-1zM458 72h1v1h-1zM460 72h1v1h-1zM462 72h1v1h-1zM398 73h3v1h-3zM403 73h1v1h-1zM406 73h1v1h-1zM411 73h1v1h-1zM414 73h1v1h-1zM421 73h2v1h-2zM430 73h1v1h-1zM436 73h2v1h-2zM439 73h1v1h-1zM443 73h1v1h-1zM446 73h1v1h-1zM449 73h3v1h-3zM453 73h2v1h-2zM456 73h2v1h-2zM459 73h1v1h-1zM464 73h2v1h-2zM132 74h1v1h-1zM281 74h1v1h-1zM395 74h1v1h-1zM400 74h1v1h-1zM402 74h2v1h-2zM406 74h1v1h-1zM408 74h3v1h-3zM420 74h1v1h-1zM426 74h1v1h-1zM433 74h3v1h-3zM438 74h1v1h-1zM445 74h1v1h-1zM449 74h1v1h-1zM451 74h10v1h-10zM462 74h2v1h-2zM467 74h3v1h-3zM249 75h1v1h-1zM269 75h1v1h-1zM293 75h2v1h-2zM394 75h1v1h-1zM406 75h1v1h-1zM409 75h2v1h-2zM418 75h3v1h-3zM423 75h2v1h-2zM433 75h1v1h-1zM435 75h2v1h-2zM443 75h2v1h-2zM446 75h2v1h-2zM450 75h4v1h-4zM455 75h7v1h-7zM463 75h4v1h-4zM472 75h1v1h-1zM249 76h1v1h-1zM293 76h2v1h-2zM394 76h1v1h-1zM400 76h1v1h-1zM402 76h3v1h-3zM406 76h2v1h-2zM410 76h1v1h-1zM412 76h2v1h-2zM418 76h2v1h-2zM421 76h1v1h-1zM424 76h1v1h-1zM426 76h2v1h-2zM431 76h1v1h-1zM437 76h1v1h-1zM439 76h2v1h-2zM442 76h4v1h-4zM447 76h1v1h-1zM449 76h19v1h-19zM472 76h2v1h-2zM105 77h1v1h-1zM298 77h1v1h-1zM394 77h1v1h-1zM396 77h2v1h-2zM400 77h1v1h-1zM402 77h1v1h-1zM404 77h3v1h-3zM408 77h3v1h-3zM412 77h3v1h-3zM418 77h2v1h-2zM422 77h1v1h-1zM426 77h2v1h-2zM430 77h3v1h-3zM435 77h2v1h-2zM438 77h1v1h-1zM444 77h2v1h-2zM448 77h20v1h-20zM469 77h1v1h-1zM472 77h1v1h-1zM280 78h1v1h-1zM288 78h1v1h-1zM394 78h29v1h-29zM426 78h3v1h-3zM430 78h7v1h-7zM440 78h2v1h-2zM444 78h1v1h-1zM448 78h20v1h-20zM240 79h1v1h-1zM252 79h1v1h-1zM268 79h1v1h-1zM279 79h2v1h-2zM393 79h30v1h-30zM424 79h3v1h-3zM428 79h10v1h-10zM439 79h7v1h-7zM447 79h19v1h-19zM468 79h1v1h-1zM471 79h2v1h-2zM75 80h1v1h-1zM249 80h1v1h-1zM265 80h1v1h-1zM271 80h2v1h-2zM280 80h1v1h-1zM285 80h1v1h-1zM393 80h22v1h-22zM416 80h10v1h-10zM427 80h39v1h-39zM471 80h2v1h-2zM478 80h1v1h-1zM123 81h1v1h-1zM231 81h1v1h-1zM241 81h4v1h-4zM257 81h1v1h-1zM278 81h1v1h-1zM285 81h1v1h-1zM290 81h1v1h-1zM393 81h73v1h-73zM471 81h1v1h-1zM233 82h1v1h-1zM240 82h3v1h-3zM246 82h1v1h-1zM257 82h1v1h-1zM262 82h1v1h-1zM278 82h1v1h-1zM285 82h1v1h-1zM294 82h2v1h-2zM300 82h1v1h-1zM393 82h3v1h-3zM397 82h23v1h-23zM421 82h4v1h-4zM426 82h42v1h-42zM108 83h1v1h-1zM231 83h1v1h-1zM233 83h2v1h-2zM243 83h1v1h-1zM251 83h1v1h-1zM257 83h1v1h-1zM260 83h1v1h-1zM262 83h1v1h-1zM273 83h2v1h-2zM276 83h3v1h-3zM295 83h1v1h-1zM299 83h2v1h-2zM305 83h1v1h-1zM394 83h30v1h-30zM425 83h21v1h-21zM447 83h20v1h-20zM233 84h2v1h-2zM242 84h1v1h-1zM257 84h5v1h-5zM266 84h2v1h-2zM269 84h1v1h-1zM276 84h1v1h-1zM287 84h1v1h-1zM293 84h1v1h-1zM297 84h2v1h-2zM301 84h4v1h-4zM394 84h30v1h-30zM425 84h1v1h-1zM427 84h18v1h-18zM446 84h22v1h-22zM229 85h2v1h-2zM234 85h2v1h-2zM237 85h2v1h-2zM243 85h2v1h-2zM248 85h3v1h-3zM252 85h1v1h-1zM254 85h2v1h-2zM257 85h2v1h-2zM260 85h2v1h-2zM264 85h4v1h-4zM270 85h1v1h-1zM274 85h1v1h-1zM276 85h1v1h-1zM280 85h1v1h-1zM284 85h1v1h-1zM286 85h1v1h-1zM288 85h2v1h-2zM293 85h1v1h-1zM295 85h1v1h-1zM298 85h1v1h-1zM302 85h1v1h-1zM306 85h1v1h-1zM393 85h3v1h-3zM397 85h9v1h-9zM407 85h3v1h-3zM411 85h57v1h-57zM472 85h1v1h-1zM233 86h12v1h-12zM248 86h1v1h-1zM257 86h3v1h-3zM263 86h1v1h-1zM266 86h1v1h-1zM268 86h1v1h-1zM273 86h2v1h-2zM276 86h1v1h-1zM278 86h1v1h-1zM285 86h1v1h-1zM287 86h1v1h-1zM289 86h1v1h-1zM293 86h1v1h-1zM300 86h1v1h-1zM303 86h1v1h-1zM393 86h1v1h-1zM395 86h69v1h-69zM466 86h1v1h-1zM230 87h1v1h-1zM234 87h3v1h-3zM240 87h5v1h-5zM246 87h3v1h-3zM253 87h5v1h-5zM261 87h1v1h-1zM263 87h1v1h-1zM266 87h2v1h-2zM270 87h3v1h-3zM274 87h1v1h-1zM276 87h3v1h-3zM284 87h1v1h-1zM286 87h4v1h-4zM292 87h2v1h-2zM295 87h6v1h-6zM302 87h3v1h-3zM306 87h1v1h-1zM395 87h10v1h-10zM406 87h5v1h-5zM412 87h2v1h-2zM416 87h12v1h-12zM429 87h1v1h-1zM431 87h9v1h-9zM441 87h7v1h-7zM449 87h7v1h-7zM457 87h9v1h-9zM467 87h1v1h-1zM236 88h2v1h-2zM246 88h1v1h-1zM248 88h1v1h-1zM252 88h1v1h-1zM254 88h3v1h-3zM258 88h1v1h-1zM261 88h1v1h-1zM266 88h3v1h-3zM270 88h1v1h-1zM272 88h1v1h-1zM274 88h1v1h-1zM276 88h1v1h-1zM278 88h2v1h-2zM281 88h2v1h-2zM286 88h4v1h-4zM291 88h1v1h-1zM298 88h1v1h-1zM302 88h4v1h-4zM395 88h8v1h-8zM404 88h4v1h-4zM410 88h3v1h-3zM414 88h1v1h-1zM416 88h4v1h-4zM422 88h1v1h-1zM424 88h1v1h-1zM426 88h4v1h-4zM431 88h1v1h-1zM433 88h2v1h-2zM436 88h1v1h-1zM438 88h8v1h-8zM447 88h1v1h-1zM449 88h7v1h-7zM457 88h7v1h-7zM465 88h2v1h-2zM473 88h1v1h-1zM475 88h1v1h-1zM479 88h1v1h-1zM229 89h5v1h-5zM235 89h1v1h-1zM238 89h2v1h-2zM242 89h3v1h-3zM248 89h3v1h-3zM252 89h1v1h-1zM254 89h5v1h-5zM260 89h4v1h-4zM265 89h1v1h-1zM269 89h4v1h-4zM274 89h2v1h-2zM278 89h2v1h-2zM284 89h3v1h-3zM288 89h1v1h-1zM291 89h1v1h-1zM293 89h2v1h-2zM296 89h2v1h-2zM300 89h1v1h-1zM302 89h5v1h-5zM394 89h4v1h-4zM399 89h1v1h-1zM402 89h1v1h-1zM404 89h3v1h-3zM409 89h2v1h-2zM413 89h1v1h-1zM415 89h2v1h-2zM419 89h2v1h-2zM422 89h3v1h-3zM427 89h1v1h-1zM429 89h4v1h-4zM434 89h3v1h-3zM438 89h2v1h-2zM441 89h1v1h-1zM444 89h6v1h-6zM451 89h2v1h-2zM454 89h6v1h-6zM461 89h2v1h-2zM464 89h3v1h-3zM472 89h2v1h-2zM475 89h1v1h-1zM113 90h1v1h-1zM233 90h1v1h-1zM235 90h2v1h-2zM238 90h4v1h-4zM243 90h1v1h-1zM248 90h3v1h-3zM252 90h3v1h-3zM256 90h3v1h-3zM260 90h2v1h-2zM266 90h1v1h-1zM270 90h3v1h-3zM275 90h1v1h-1zM278 90h1v1h-1zM280 90h1v1h-1zM282 90h1v1h-1zM285 90h1v1h-1zM287 90h2v1h-2zM290 90h1v1h-1zM293 90h2v1h-2zM296 90h10v1h-10zM308 90h2v1h-2zM393 90h3v1h-3zM397 90h5v1h-5zM403 90h2v1h-2zM406 90h2v1h-2zM411 90h3v1h-3zM416 90h3v1h-3zM420 90h4v1h-4zM425 90h1v1h-1zM427 90h6v1h-6zM436 90h8v1h-8zM447 90h2v1h-2zM450 90h1v1h-1zM452 90h11v1h-11zM464 90h3v1h-3zM469 90h2v1h-2zM95 91h1v1h-1zM230 91h3v1h-3zM234 91h3v1h-3zM240 91h2v1h-2zM243 91h1v1h-1zM245 91h2v1h-2zM248 91h3v1h-3zM252 91h3v1h-3zM256 91h5v1h-5zM263 91h1v1h-1zM265 91h2v1h-2zM271 91h2v1h-2zM277 91h6v1h-6zM285 91h1v1h-1zM287 91h1v1h-1zM291 91h6v1h-6zM298 91h1v1h-1zM301 91h2v1h-2zM305 91h1v1h-1zM394 91h1v1h-1zM396 91h5v1h-5zM403 91h4v1h-4zM410 91h5v1h-5zM416 91h2v1h-2zM419 91h1v1h-1zM421 91h1v1h-1zM423 91h1v1h-1zM425 91h3v1h-3zM429 91h2v1h-2zM434 91h1v1h-1zM436 91h2v1h-2zM440 91h3v1h-3zM448 91h5v1h-5zM455 91h5v1h-5zM461 91h2v1h-2zM465 91h1v1h-1zM469 91h1v1h-1zM102 92h1v1h-1zM110 92h1v1h-1zM230 92h3v1h-3zM235 92h2v1h-2zM240 92h1v1h-1zM242 92h2v1h-2zM245 92h6v1h-6zM252 92h1v1h-1zM254 92h1v1h-1zM256 92h1v1h-1zM259 92h3v1h-3zM268 92h2v1h-2zM271 92h6v1h-6zM278 92h4v1h-4zM285 92h1v1h-1zM287 92h2v1h-2zM290 92h5v1h-5zM298 92h3v1h-3zM302 92h2v1h-2zM305 92h1v1h-1zM394 92h1v1h-1zM396 92h3v1h-3zM404 92h1v1h-1zM406 92h1v1h-1zM408 92h7v1h-7zM416 92h5v1h-5zM422 92h3v1h-3zM426 92h2v1h-2zM429 92h2v1h-2zM432 92h1v1h-1zM434 92h3v1h-3zM438 92h1v1h-1zM440 92h1v1h-1zM443 92h1v1h-1zM448 92h2v1h-2zM451 92h2v1h-2zM454 92h7v1h-7zM462 92h2v1h-2zM465 92h1v1h-1zM468 92h2v1h-2zM93 93h1v1h-1zM99 93h1v1h-1zM230 93h1v1h-1zM232 93h1v1h-1zM239 93h4v1h-4zM244 93h4v1h-4zM249 93h3v1h-3zM254 93h8v1h-8zM263 93h3v1h-3zM267 93h3v1h-3zM271 93h2v1h-2zM275 93h8v1h-8zM284 93h1v1h-1zM286 93h1v1h-1zM289 93h6v1h-6zM299 93h3v1h-3zM303 93h4v1h-4zM308 93h1v1h-1zM393 93h2v1h-2zM396 93h3v1h-3zM402 93h1v1h-1zM404 93h1v1h-1zM406 93h1v1h-1zM409 93h1v1h-1zM411 93h4v1h-4zM417 93h2v1h-2zM420 93h5v1h-5zM426 93h8v1h-8zM435 93h4v1h-4zM441 93h3v1h-3zM447 93h3v1h-3zM451 93h3v1h-3zM455 93h1v1h-1zM458 93h1v1h-1zM460 93h1v1h-1zM463 93h1v1h-1zM466 93h3v1h-3zM229 94h1v1h-1zM241 94h2v1h-2zM246 94h2v1h-2zM249 94h1v1h-1zM251 94h1v1h-1zM257 94h14v1h-14zM272 94h2v1h-2zM275 94h1v1h-1zM277 94h30v1h-30zM393 94h2v1h-2zM396 94h2v1h-2zM399 94h1v1h-1zM401 94h2v1h-2zM407 94h2v1h-2zM412 94h4v1h-4zM417 94h7v1h-7zM426 94h1v1h-1zM428 94h2v1h-2zM432 94h2v1h-2zM436 94h1v1h-1zM445 94h1v1h-1zM447 94h1v1h-1zM449 94h1v1h-1zM453 94h2v1h-2zM456 94h1v1h-1zM460 94h4v1h-4zM465 94h2v1h-2zM468 94h1v1h-1zM97 95h1v1h-1zM106 95h1v1h-1zM229 95h2v1h-2zM233 95h2v1h-2zM238 95h1v1h-1zM242 95h1v1h-1zM246 95h4v1h-4zM253 95h1v1h-1zM256 95h9v1h-9zM266 95h42v1h-42zM400 95h5v1h-5zM410 95h1v1h-1zM412 95h1v1h-1zM414 95h6v1h-6zM423 95h1v1h-1zM430 95h5v1h-5zM448 95h1v1h-1zM451 95h1v1h-1zM454 95h1v1h-1zM460 95h7v1h-7zM468 95h1v1h-1zM96 96h1v1h-1zM231 96h1v1h-1zM233 96h1v1h-1zM235 96h5v1h-5zM241 96h4v1h-4zM247 96h5v1h-5zM255 96h22v1h-22zM278 96h13v1h-13zM292 96h4v1h-4zM297 96h12v1h-12zM395 96h2v1h-2zM398 96h1v1h-1zM401 96h1v1h-1zM412 96h1v1h-1zM415 96h2v1h-2zM418 96h3v1h-3zM423 96h1v1h-1zM427 96h4v1h-4zM432 96h2v1h-2zM436 96h2v1h-2zM448 96h6v1h-6zM457 96h1v1h-1zM459 96h2v1h-2zM463 96h4v1h-4zM476 96h1v1h-1zM104 97h1v1h-1zM230 97h1v1h-1zM235 97h67v1h-67zM303 97h2v1h-2zM306 97h3v1h-3zM398 97h1v1h-1zM400 97h5v1h-5zM414 97h1v1h-1zM416 97h1v1h-1zM423 97h2v1h-2zM431 97h2v1h-2zM434 97h1v1h-1zM436 97h3v1h-3zM449 97h1v1h-1zM451 97h1v1h-1zM453 97h5v1h-5zM459 97h2v1h-2zM463 97h4v1h-4zM472 97h1v1h-1zM99 98h1v1h-1zM231 98h2v1h-2zM238 98h20v1h-20zM259 98h48v1h-48zM308 98h1v1h-1zM398 98h3v1h-3zM405 98h1v1h-1zM412 98h1v1h-1zM416 98h2v1h-2zM426 98h1v1h-1zM431 98h1v1h-1zM433 98h1v1h-1zM437 98h1v1h-1zM441 98h2v1h-2zM448 98h1v1h-1zM450 98h1v1h-1zM452 98h2v1h-2zM455 98h2v1h-2zM458 98h3v1h-3zM462 98h3v1h-3zM472 98h1v1h-1zM85 99h1v1h-1zM92 99h1v1h-1zM232 99h1v1h-1zM234 99h2v1h-2zM239 99h13v1h-13zM253 99h19v1h-19zM273 99h5v1h-5zM279 99h28v1h-28zM308 99h1v1h-1zM394 99h2v1h-2zM398 99h1v1h-1zM401 99h2v1h-2zM406 99h2v1h-2zM411 99h1v1h-1zM417 99h5v1h-5zM423 99h2v1h-2zM428 99h4v1h-4zM434 99h1v1h-1zM441 99h2v1h-2zM450 99h2v1h-2zM454 99h1v1h-1zM459 99h2v1h-2zM462 99h2v1h-2zM465 99h1v1h-1zM467 99h1v1h-1zM471 99h1v1h-1zM91 100h1v1h-1zM97 100h2v1h-2zM233 100h2v1h-2zM238 100h68v1h-68zM393 100h2v1h-2zM398 100h1v1h-1zM404 100h1v1h-1zM414 100h3v1h-3zM422 100h4v1h-4zM433 100h2v1h-2zM441 100h2v1h-2zM444 100h2v1h-2zM448 100h3v1h-3zM452 100h1v1h-1zM454 100h2v1h-2zM458 100h1v1h-1zM462 100h1v1h-1zM464 100h5v1h-5zM471 100h1v1h-1zM476 100h1v1h-1zM84 101h2v1h-2zM88 101h1v1h-1zM95 101h2v1h-2zM231 101h1v1h-1zM235 101h1v1h-1zM238 101h39v1h-39zM278 101h28v1h-28zM307 101h1v1h-1zM393 101h1v1h-1zM396 101h1v1h-1zM401 101h4v1h-4zM411 101h1v1h-1zM415 101h4v1h-4zM440 101h1v1h-1zM448 101h3v1h-3zM452 101h1v1h-1zM455 101h4v1h-4zM460 101h1v1h-1zM462 101h1v1h-1zM467 101h2v1h-2zM472 101h1v1h-1zM76 102h1v1h-1zM81 102h5v1h-5zM88 102h1v1h-1zM91 102h6v1h-6zM229 102h1v1h-1zM231 102h3v1h-3zM237 102h1v1h-1zM239 102h53v1h-53zM293 102h15v1h-15zM397 102h1v1h-1zM399 102h1v1h-1zM404 102h1v1h-1zM413 102h1v1h-1zM422 102h1v1h-1zM424 102h1v1h-1zM433 102h1v1h-1zM435 102h1v1h-1zM437 102h1v1h-1zM440 102h1v1h-1zM442 102h1v1h-1zM444 102h1v1h-1zM448 102h5v1h-5zM455 102h2v1h-2zM458 102h1v1h-1zM460 102h1v1h-1zM462 102h1v1h-1zM464 102h1v1h-1zM470 102h3v1h-3zM73 103h1v1h-1zM80 103h3v1h-3zM87 103h9v1h-9zM105 103h1v1h-1zM230 103h1v1h-1zM232 103h1v1h-1zM236 103h8v1h-8zM245 103h62v1h-62zM397 103h1v1h-1zM404 103h2v1h-2zM423 103h1v1h-1zM431 103h1v1h-1zM436 103h1v1h-1zM442 103h1v1h-1zM445 103h1v1h-1zM447 103h1v1h-1zM451 103h3v1h-3zM455 103h2v1h-2zM458 103h2v1h-2zM461 103h2v1h-2zM464 103h2v1h-2zM468 103h2v1h-2zM472 103h1v1h-1zM73 104h1v1h-1zM85 104h11v1h-11zM97 104h1v1h-1zM229 104h1v1h-1zM233 104h2v1h-2zM236 104h2v1h-2zM239 104h1v1h-1zM242 104h49v1h-49zM292 104h14v1h-14zM398 104h1v1h-1zM403 104h1v1h-1zM410 104h3v1h-3zM421 104h1v1h-1zM427 104h1v1h-1zM432 104h1v1h-1zM436 104h1v1h-1zM439 104h1v1h-1zM445 104h1v1h-1zM447 104h2v1h-2zM450 104h4v1h-4zM456 104h7v1h-7zM464 104h3v1h-3zM82 105h10v1h-10zM93 105h1v1h-1zM95 105h1v1h-1zM97 105h1v1h-1zM230 105h5v1h-5zM236 105h1v1h-1zM238 105h69v1h-69zM309 105h1v1h-1zM315 105h1v1h-1zM400 105h1v1h-1zM407 105h2v1h-2zM417 105h1v1h-1zM426 105h2v1h-2zM429 105h1v1h-1zM432 105h1v1h-1zM438 105h1v1h-1zM441 105h1v1h-1zM443 105h1v1h-1zM446 105h4v1h-4zM451 105h2v1h-2zM454 105h1v1h-1zM459 105h5v1h-5zM468 105h1v1h-1zM471 105h1v1h-1zM75 106h1v1h-1zM81 106h1v1h-1zM83 106h6v1h-6zM90 106h5v1h-5zM234 106h1v1h-1zM237 106h3v1h-3zM241 106h66v1h-66zM308 106h1v1h-1zM403 106h1v1h-1zM409 106h2v1h-2zM417 106h2v1h-2zM422 106h1v1h-1zM437 106h2v1h-2zM441 106h1v1h-1zM448 106h2v1h-2zM451 106h1v1h-1zM453 106h2v1h-2zM456 106h1v1h-1zM459 106h1v1h-1zM462 106h3v1h-3zM468 106h2v1h-2zM471 106h1v1h-1zM479 106h1v1h-1zM72 107h1v1h-1zM75 107h19v1h-19zM99 107h1v1h-1zM231 107h1v1h-1zM233 107h5v1h-5zM239 107h69v1h-69zM395 107h1v1h-1zM397 107h1v1h-1zM403 107h1v1h-1zM414 107h1v1h-1zM430 107h1v1h-1zM439 107h2v1h-2zM442 107h1v1h-1zM444 107h3v1h-3zM449 107h1v1h-1zM451 107h1v1h-1zM453 107h6v1h-6zM462 107h2v1h-2zM465 107h2v1h-2zM468 107h2v1h-2zM73 108h1v1h-1zM75 108h8v1h-8zM84 108h11v1h-11zM230 108h2v1h-2zM233 108h2v1h-2zM237 108h53v1h-53zM292 108h16v1h-16zM399 108h1v1h-1zM405 108h2v1h-2zM415 108h1v1h-1zM418 108h1v1h-1zM424 108h2v1h-2zM427 108h2v1h-2zM430 108h1v1h-1zM433 108h1v1h-1zM435 108h3v1h-3zM439 108h1v1h-1zM449 108h1v1h-1zM451 108h5v1h-5zM458 108h5v1h-5zM466 108h2v1h-2zM469 108h1v1h-1zM471 108h1v1h-1zM72 109h7v1h-7zM80 109h10v1h-10zM91 109h2v1h-2zM98 109h1v1h-1zM230 109h1v1h-1zM232 109h1v1h-1zM234 109h1v1h-1zM238 109h13v1h-13zM252 109h35v1h-35zM288 109h19v1h-19zM402 109h2v1h-2zM416 109h2v1h-2zM421 109h1v1h-1zM424 109h2v1h-2zM439 109h4v1h-4zM444 109h1v1h-1zM451 109h1v1h-1zM456 109h1v1h-1zM458 109h1v1h-1zM460 109h1v1h-1zM462 109h1v1h-1zM466 109h1v1h-1zM469 109h2v1h-2zM72 110h20v1h-20zM93 110h1v1h-1zM229 110h1v1h-1zM231 110h4v1h-4zM238 110h25v1h-25zM264 110h43v1h-43zM395 110h1v1h-1zM409 110h2v1h-2zM412 110h1v1h-1zM416 110h2v1h-2zM424 110h1v1h-1zM431 110h2v1h-2zM434 110h2v1h-2zM439 110h2v1h-2zM442 110h1v1h-1zM444 110h3v1h-3zM448 110h1v1h-1zM451 110h1v1h-1zM458 110h3v1h-3zM465 110h2v1h-2zM72 111h18v1h-18zM93 111h2v1h-2zM100 111h1v1h-1zM229 111h1v1h-1zM232 111h1v1h-1zM238 111h19v1h-19zM258 111h17v1h-17zM276 111h29v1h-29zM306 111h1v1h-1zM308 111h1v1h-1zM398 111h2v1h-2zM409 111h2v1h-2zM417 111h1v1h-1zM419 111h1v1h-1zM421 111h1v1h-1zM423 111h1v1h-1zM428 111h2v1h-2zM432 111h3v1h-3zM444 111h2v1h-2zM447 111h3v1h-3zM453 111h1v1h-1zM460 111h2v1h-2zM465 111h2v1h-2zM472 111h1v1h-1zM72 112h15v1h-15zM94 112h1v1h-1zM230 112h1v1h-1zM232 112h1v1h-1zM234 112h2v1h-2zM237 112h49v1h-49zM287 112h20v1h-20zM310 112h2v1h-2zM395 112h3v1h-3zM406 112h1v1h-1zM410 112h2v1h-2zM424 112h1v1h-1zM434 112h1v1h-1zM437 112h2v1h-2zM440 112h1v1h-1zM448 112h1v1h-1zM451 112h1v1h-1zM453 112h1v1h-1zM455 112h3v1h-3zM459 112h1v1h-1zM466 112h1v1h-1zM472 112h2v1h-2zM72 113h17v1h-17zM92 113h1v1h-1zM234 113h2v1h-2zM239 113h33v1h-33zM273 113h32v1h-32zM306 113h1v1h-1zM411 113h1v1h-1zM423 113h2v1h-2zM445 113h2v1h-2zM455 113h2v1h-2zM459 113h1v1h-1zM461 113h1v1h-1zM463 113h1v1h-1zM466 113h2v1h-2zM72 114h14v1h-14zM234 114h1v1h-1zM239 114h57v1h-57zM297 114h10v1h-10zM395 114h1v1h-1zM400 114h1v1h-1zM412 114h1v1h-1zM415 114h2v1h-2zM423 114h2v1h-2zM428 114h3v1h-3zM434 114h1v1h-1zM439 114h2v1h-2zM447 114h1v1h-1zM459 114h1v1h-1zM461 114h2v1h-2zM72 115h15v1h-15zM92 115h1v1h-1zM230 115h4v1h-4zM237 115h34v1h-34zM272 115h15v1h-15zM288 115h19v1h-19zM308 115h1v1h-1zM73 116h12v1h-12zM230 116h2v1h-2zM235 116h22v1h-22zM258 116h50v1h-50zM73 117h9v1h-9zM87 117h2v1h-2zM231 117h1v1h-1zM233 117h1v1h-1zM237 117h11v1h-11zM249 117h48v1h-48zM298 117h7v1h-7zM306 117h1v1h-1zM72 118h8v1h-8zM81 118h1v1h-1zM505 200h1v1h-1zM143 209h1v1h-1zM155 209h1v1h-1zM459 211h1v1h-1zM161 213h1v1h-1zM236 214h1v1h-1zM293 218h1v1h-1zM415 218h1v1h-1zM427 218h1v1h-1zM459 220h1v1h-1zM505 220h1v1h-1zM162 222h1v1h-1zM258 222h1v1h-1zM399 222h1v1h-1zM150 223h1v1h-1zM280 223h2v1h-2zM170 224h1v1h-1zM248 224h1v1h-1zM280 224h2v1h-2zM277 225h1v1h-1zM406 225h2v1h-2zM413 225h1v1h-1zM426 225h1v1h-1zM445 225h1v1h-1zM103 226h1v1h-1zM235 226h1v1h-1zM251 226h1v1h-1zM255 226h2v1h-2zM270 226h1v1h-1zM278 226h1v1h-1zM288 226h1v1h-1zM403 226h2v1h-2zM406 226h2v1h-2zM421 226h1v1h-1zM426 226h1v1h-1zM440 226h1v1h-1zM460 226h1v1h-1zM469 226h1v1h-1zM271 227h1v1h-1zM276 227h1v1h-1zM280 227h1v1h-1zM288 227h1v1h-1zM293 227h3v1h-3zM297 227h1v1h-1zM407 227h1v1h-1zM435 227h2v1h-2zM440 227h1v1h-1zM473 227h1v1h-1zM232 228h1v1h-1zM243 228h1v1h-1zM245 228h1v1h-1zM250 228h1v1h-1zM259 228h1v1h-1zM274 228h2v1h-2zM282 228h1v1h-1zM288 228h2v1h-2zM295 228h1v1h-1zM403 228h1v1h-1zM422 228h1v1h-1zM437 228h1v1h-1zM458 228h1v1h-1zM470 228h1v1h-1zM473 228h1v1h-1zM235 229h1v1h-1zM250 229h1v1h-1zM258 229h2v1h-2zM274 229h2v1h-2zM277 229h1v1h-1zM279 229h1v1h-1zM288 229h2v1h-2zM397 229h1v1h-1zM403 229h1v1h-1zM408 229h1v1h-1zM417 229h1v1h-1zM433 229h3v1h-3zM440 229h1v1h-1zM445 229h1v1h-1zM456 229h1v1h-1zM459 229h3v1h-3zM469 229h1v1h-1zM87 230h2v1h-2zM239 230h1v1h-1zM251 230h1v1h-1zM262 230h2v1h-2zM269 230h2v1h-2zM284 230h1v1h-1zM288 230h1v1h-1zM290 230h1v1h-1zM317 230h2v1h-2zM396 230h2v1h-2zM405 230h1v1h-1zM407 230h1v1h-1zM414 230h1v1h-1zM423 230h1v1h-1zM436 230h1v1h-1zM438 230h1v1h-1zM444 230h1v1h-1zM465 230h1v1h-1zM468 230h1v1h-1zM477 230h1v1h-1zM87 231h1v1h-1zM103 231h2v1h-2zM122 231h2v1h-2zM135 231h1v1h-1zM144 231h2v1h-2zM237 231h1v1h-1zM239 231h1v1h-1zM254 231h1v1h-1zM269 231h1v1h-1zM279 231h2v1h-2zM282 231h2v1h-2zM285 231h2v1h-2zM288 231h3v1h-3zM295 231h1v1h-1zM297 231h2v1h-2zM303 231h3v1h-3zM317 231h2v1h-2zM405 231h1v1h-1zM407 231h3v1h-3zM414 231h1v1h-1zM427 231h1v1h-1zM430 231h3v1h-3zM435 231h1v1h-1zM437 231h2v1h-2zM440 231h3v1h-3zM446 231h1v1h-1zM450 231h1v1h-1zM454 231h1v1h-1zM457 231h1v1h-1zM475 231h1v1h-1zM103 232h2v1h-2zM117 232h2v1h-2zM122 232h1v1h-1zM237 232h1v1h-1zM242 232h1v1h-1zM246 232h1v1h-1zM250 232h1v1h-1zM254 232h1v1h-1zM257 232h1v1h-1zM259 232h1v1h-1zM264 232h1v1h-1zM267 232h1v1h-1zM269 232h2v1h-2zM277 232h1v1h-1zM282 232h3v1h-3zM289 232h1v1h-1zM293 232h1v1h-1zM301 232h3v1h-3zM403 232h1v1h-1zM406 232h1v1h-1zM408 232h2v1h-2zM414 232h2v1h-2zM417 232h1v1h-1zM419 232h2v1h-2zM431 232h2v1h-2zM437 232h1v1h-1zM439 232h1v1h-1zM441 232h2v1h-2zM457 232h1v1h-1zM465 232h1v1h-1zM469 232h1v1h-1zM471 232h2v1h-2zM476 232h1v1h-1zM484 232h1v1h-1zM76 233h1v1h-1zM81 233h1v1h-1zM88 233h1v1h-1zM95 233h1v1h-1zM100 233h1v1h-1zM106 233h1v1h-1zM112 233h1v1h-1zM118 233h1v1h-1zM121 233h2v1h-2zM134 233h1v1h-1zM140 233h2v1h-2zM155 233h1v1h-1zM233 233h4v1h-4zM251 233h2v1h-2zM254 233h1v1h-1zM258 233h3v1h-3zM263 233h1v1h-1zM266 233h2v1h-2zM269 233h4v1h-4zM275 233h2v1h-2zM280 233h1v1h-1zM282 233h3v1h-3zM289 233h1v1h-1zM291 233h1v1h-1zM294 233h1v1h-1zM299 233h2v1h-2zM303 233h1v1h-1zM310 233h1v1h-1zM397 233h1v1h-1zM401 233h2v1h-2zM404 233h6v1h-6zM415 233h1v1h-1zM417 233h8v1h-8zM435 233h1v1h-1zM439 233h1v1h-1zM442 233h5v1h-5zM459 233h5v1h-5zM465 233h3v1h-3zM469 233h1v1h-1zM472 233h1v1h-1zM488 233h1v1h-1zM74 234h1v1h-1zM82 234h1v1h-1zM94 234h2v1h-2zM97 234h2v1h-2zM101 234h3v1h-3zM106 234h1v1h-1zM109 234h2v1h-2zM112 234h1v1h-1zM119 234h3v1h-3zM124 234h4v1h-4zM133 234h1v1h-1zM135 234h1v1h-1zM140 234h2v1h-2zM143 234h2v1h-2zM146 234h1v1h-1zM159 234h1v1h-1zM237 234h2v1h-2zM244 234h2v1h-2zM250 234h1v1h-1zM269 234h3v1h-3zM275 234h2v1h-2zM278 234h1v1h-1zM281 234h1v1h-1zM284 234h1v1h-1zM286 234h1v1h-1zM288 234h1v1h-1zM291 234h1v1h-1zM293 234h2v1h-2zM299 234h1v1h-1zM301 234h1v1h-1zM310 234h2v1h-2zM395 234h16v1h-16zM412 234h1v1h-1zM417 234h7v1h-7zM435 234h1v1h-1zM453 234h2v1h-2zM456 234h2v1h-2zM460 234h2v1h-2zM465 234h3v1h-3zM472 234h2v1h-2zM74 235h2v1h-2zM81 235h1v1h-1zM89 235h2v1h-2zM94 235h1v1h-1zM97 235h2v1h-2zM100 235h3v1h-3zM106 235h1v1h-1zM109 235h2v1h-2zM115 235h4v1h-4zM120 235h3v1h-3zM124 235h2v1h-2zM128 235h2v1h-2zM132 235h4v1h-4zM137 235h2v1h-2zM141 235h2v1h-2zM146 235h1v1h-1zM233 235h8v1h-8zM244 235h2v1h-2zM251 235h1v1h-1zM254 235h4v1h-4zM262 235h1v1h-1zM267 235h3v1h-3zM274 235h2v1h-2zM277 235h3v1h-3zM281 235h2v1h-2zM285 235h3v1h-3zM290 235h1v1h-1zM292 235h2v1h-2zM295 235h1v1h-1zM298 235h2v1h-2zM308 235h1v1h-1zM320 235h1v1h-1zM395 235h28v1h-28zM426 235h1v1h-1zM429 235h4v1h-4zM439 235h2v1h-2zM444 235h1v1h-1zM451 235h2v1h-2zM454 235h1v1h-1zM456 235h4v1h-4zM461 235h9v1h-9zM471 235h4v1h-4zM477 235h1v1h-1zM72 236h1v1h-1zM74 236h1v1h-1zM77 236h1v1h-1zM80 236h1v1h-1zM84 236h1v1h-1zM86 236h1v1h-1zM96 236h1v1h-1zM99 236h1v1h-1zM105 236h2v1h-2zM108 236h2v1h-2zM112 236h2v1h-2zM115 236h2v1h-2zM118 236h1v1h-1zM120 236h2v1h-2zM130 236h2v1h-2zM134 236h2v1h-2zM137 236h5v1h-5zM144 236h1v1h-1zM232 236h3v1h-3zM236 236h1v1h-1zM238 236h3v1h-3zM242 236h4v1h-4zM247 236h1v1h-1zM250 236h1v1h-1zM252 236h5v1h-5zM258 236h3v1h-3zM263 236h1v1h-1zM268 236h4v1h-4zM273 236h1v1h-1zM275 236h5v1h-5zM281 236h2v1h-2zM284 236h4v1h-4zM289 236h2v1h-2zM295 236h2v1h-2zM298 236h3v1h-3zM306 236h1v1h-1zM314 236h2v1h-2zM395 236h30v1h-30zM426 236h4v1h-4zM431 236h3v1h-3zM436 236h1v1h-1zM439 236h2v1h-2zM446 236h1v1h-1zM449 236h1v1h-1zM454 236h1v1h-1zM457 236h8v1h-8zM468 236h7v1h-7zM73 237h2v1h-2zM78 237h3v1h-3zM84 237h3v1h-3zM88 237h3v1h-3zM96 237h1v1h-1zM98 237h1v1h-1zM102 237h8v1h-8zM115 237h1v1h-1zM117 237h4v1h-4zM123 237h5v1h-5zM129 237h1v1h-1zM131 237h1v1h-1zM135 237h6v1h-6zM142 237h2v1h-2zM232 237h1v1h-1zM234 237h1v1h-1zM236 237h1v1h-1zM238 237h10v1h-10zM249 237h12v1h-12zM266 237h2v1h-2zM269 237h3v1h-3zM273 237h1v1h-1zM275 237h3v1h-3zM281 237h7v1h-7zM291 237h2v1h-2zM295 237h2v1h-2zM299 237h1v1h-1zM301 237h2v1h-2zM305 237h3v1h-3zM312 237h1v1h-1zM314 237h2v1h-2zM396 237h23v1h-23zM422 237h1v1h-1zM427 237h1v1h-1zM429 237h1v1h-1zM431 237h10v1h-10zM442 237h1v1h-1zM456 237h16v1h-16zM474 237h2v1h-2zM74 238h4v1h-4zM79 238h2v1h-2zM85 238h12v1h-12zM98 238h2v1h-2zM102 238h1v1h-1zM104 238h4v1h-4zM111 238h1v1h-1zM117 238h2v1h-2zM120 238h10v1h-10zM135 238h1v1h-1zM139 238h1v1h-1zM141 238h8v1h-8zM155 238h1v1h-1zM233 238h8v1h-8zM242 238h19v1h-19zM263 238h1v1h-1zM265 238h7v1h-7zM273 238h5v1h-5zM281 238h2v1h-2zM284 238h4v1h-4zM289 238h4v1h-4zM294 238h3v1h-3zM299 238h8v1h-8zM316 238h1v1h-1zM395 238h4v1h-4zM400 238h2v1h-2zM403 238h4v1h-4zM408 238h14v1h-14zM424 238h6v1h-6zM431 238h2v1h-2zM434 238h11v1h-11zM446 238h3v1h-3zM450 238h4v1h-4zM455 238h1v1h-1zM457 238h4v1h-4zM462 238h14v1h-14zM478 238h2v1h-2zM72 239h29v1h-29zM102 239h8v1h-8zM115 239h1v1h-1zM117 239h1v1h-1zM119 239h5v1h-5zM125 239h6v1h-6zM133 239h4v1h-4zM138 239h12v1h-12zM151 239h1v1h-1zM155 239h1v1h-1zM232 239h3v1h-3zM236 239h24v1h-24zM264 239h2v1h-2zM267 239h5v1h-5zM273 239h9v1h-9zM283 239h12v1h-12zM296 239h8v1h-8zM306 239h3v1h-3zM318 239h1v1h-1zM396 239h25v1h-25zM422 239h4v1h-4zM427 239h5v1h-5zM433 239h2v1h-2zM437 239h1v1h-1zM439 239h1v1h-1zM441 239h1v1h-1zM443 239h4v1h-4zM449 239h5v1h-5zM455 239h12v1h-12zM468 239h4v1h-4zM473 239h1v1h-1zM475 239h1v1h-1zM477 239h3v1h-3zM72 240h6v1h-6zM79 240h22v1h-22zM105 240h6v1h-6zM113 240h3v1h-3zM119 240h5v1h-5zM128 240h1v1h-1zM130 240h14v1h-14zM146 240h4v1h-4zM232 240h25v1h-25zM258 240h10v1h-10zM271 240h5v1h-5zM277 240h24v1h-24zM302 240h1v1h-1zM305 240h2v1h-2zM318 240h1v1h-1zM397 240h27v1h-27zM425 240h10v1h-10zM437 240h8v1h-8zM446 240h2v1h-2zM449 240h29v1h-29zM482 240h1v1h-1zM73 241h25v1h-25zM99 241h3v1h-3zM103 241h6v1h-6zM111 241h14v1h-14zM126 241h3v1h-3zM130 241h1v1h-1zM132 241h3v1h-3zM136 241h9v1h-9zM147 241h1v1h-1zM232 241h2v1h-2zM235 241h27v1h-27zM264 241h19v1h-19zM284 241h2v1h-2zM287 241h14v1h-14zM302 241h3v1h-3zM306 241h2v1h-2zM309 241h1v1h-1zM396 241h3v1h-3zM400 241h2v1h-2zM403 241h17v1h-17zM421 241h8v1h-8zM430 241h24v1h-24zM455 241h26v1h-26zM72 242h38v1h-38zM111 242h22v1h-22zM134 242h11v1h-11zM147 242h2v1h-2zM150 242h1v1h-1zM233 242h27v1h-27zM264 242h5v1h-5zM272 242h14v1h-14zM287 242h14v1h-14zM302 242h2v1h-2zM306 242h1v1h-1zM395 242h1v1h-1zM397 242h8v1h-8zM406 242h16v1h-16zM423 242h11v1h-11zM435 242h3v1h-3zM439 242h6v1h-6zM446 242h4v1h-4zM451 242h3v1h-3zM456 242h21v1h-21zM480 242h2v1h-2zM73 243h28v1h-28zM102 243h3v1h-3zM106 243h15v1h-15zM122 243h25v1h-25zM151 243h1v1h-1zM153 243h1v1h-1zM233 243h36v1h-36zM270 243h14v1h-14zM285 243h20v1h-20zM396 243h25v1h-25zM423 243h24v1h-24zM448 243h28v1h-28zM478 243h1v1h-1zM72 244h28v1h-28zM101 244h22v1h-22zM124 244h23v1h-23zM232 244h33v1h-33zM266 244h4v1h-4zM272 244h2v1h-2zM275 244h30v1h-30zM395 244h25v1h-25zM422 244h3v1h-3zM426 244h3v1h-3zM430 244h6v1h-6zM437 244h7v1h-7zM445 244h10v1h-10zM457 244h13v1h-13zM471 244h5v1h-5zM480 244h2v1h-2zM72 245h34v1h-34zM108 245h18v1h-18zM127 245h14v1h-14zM142 245h1v1h-1zM145 245h3v1h-3zM149 245h1v1h-1zM151 245h1v1h-1zM233 245h32v1h-32zM266 245h8v1h-8zM275 245h26v1h-26zM302 245h2v1h-2zM305 245h1v1h-1zM308 245h2v1h-2zM395 245h14v1h-14zM410 245h7v1h-7zM418 245h1v1h-1zM420 245h1v1h-1zM422 245h1v1h-1zM424 245h11v1h-11zM436 245h4v1h-4zM442 245h2v1h-2zM445 245h30v1h-30zM476 245h1v1h-1zM479 245h3v1h-3zM72 246h30v1h-30zM103 246h14v1h-14zM118 246h2v1h-2zM121 246h6v1h-6zM128 246h17v1h-17zM156 246h1v1h-1zM233 246h27v1h-27zM262 246h3v1h-3zM266 246h14v1h-14zM281 246h23v1h-23zM306 246h1v1h-1zM308 246h1v1h-1zM396 246h12v1h-12zM409 246h12v1h-12zM423 246h6v1h-6zM430 246h14v1h-14zM445 246h10v1h-10zM456 246h21v1h-21zM72 247h20v1h-20zM93 247h27v1h-27zM121 247h23v1h-23zM145 247h3v1h-3zM151 247h1v1h-1zM232 247h38v1h-38zM271 247h10v1h-10zM282 247h2v1h-2zM285 247h15v1h-15zM306 247h1v1h-1zM395 247h2v1h-2zM398 247h14v1h-14zM413 247h11v1h-11zM426 247h14v1h-14zM442 247h3v1h-3zM446 247h1v1h-1zM448 247h7v1h-7zM456 247h18v1h-18zM475 247h2v1h-2zM72 248h49v1h-49zM122 248h1v1h-1zM124 248h20v1h-20zM145 248h3v1h-3zM149 248h1v1h-1zM152 248h1v1h-1zM232 248h29v1h-29zM262 248h6v1h-6zM270 248h8v1h-8zM279 248h23v1h-23zM311 248h1v1h-1zM395 248h29v1h-29zM426 248h17v1h-17zM444 248h1v1h-1zM446 248h9v1h-9zM458 248h19v1h-19zM73 249h26v1h-26zM101 249h2v1h-2zM104 249h15v1h-15zM121 249h5v1h-5zM127 249h2v1h-2zM130 249h15v1h-15zM232 249h37v1h-37zM271 249h2v1h-2zM274 249h1v1h-1zM276 249h12v1h-12zM290 249h9v1h-9zM302 249h1v1h-1zM311 249h1v1h-1zM314 249h1v1h-1zM395 249h27v1h-27zM424 249h2v1h-2zM427 249h5v1h-5zM433 249h11v1h-11zM446 249h11v1h-11zM458 249h20v1h-20zM481 249h1v1h-1zM72 250h30v1h-30zM103 250h10v1h-10zM114 250h8v1h-8zM123 250h1v1h-1zM125 250h11v1h-11zM137 250h10v1h-10zM150 250h1v1h-1zM152 250h1v1h-1zM232 250h28v1h-28zM264 250h4v1h-4zM269 250h5v1h-5zM275 250h5v1h-5zM281 250h1v1h-1zM283 250h1v1h-1zM285 250h3v1h-3zM289 250h15v1h-15zM305 250h4v1h-4zM395 250h4v1h-4zM400 250h24v1h-24zM425 250h11v1h-11zM437 250h7v1h-7zM447 250h21v1h-21zM469 250h6v1h-6zM72 251h24v1h-24zM97 251h26v1h-26zM124 251h2v1h-2zM127 251h9v1h-9zM137 251h2v1h-2zM144 251h1v1h-1zM232 251h30v1h-30zM264 251h4v1h-4zM270 251h1v1h-1zM272 251h4v1h-4zM277 251h3v1h-3zM281 251h2v1h-2zM284 251h5v1h-5zM290 251h2v1h-2zM293 251h8v1h-8zM302 251h1v1h-1zM307 251h2v1h-2zM395 251h48v1h-48zM445 251h17v1h-17zM463 251h13v1h-13zM72 252h25v1h-25zM98 252h3v1h-3zM103 252h17v1h-17zM121 252h10v1h-10zM134 252h1v1h-1zM136 252h5v1h-5zM143 252h2v1h-2zM232 252h29v1h-29zM262 252h20v1h-20zM283 252h3v1h-3zM287 252h2v1h-2zM291 252h1v1h-1zM293 252h9v1h-9zM396 252h28v1h-28zM425 252h2v1h-2zM428 252h2v1h-2zM431 252h10v1h-10zM442 252h6v1h-6zM449 252h1v1h-1zM451 252h10v1h-10zM462 252h2v1h-2zM465 252h1v1h-1zM467 252h9v1h-9zM72 253h46v1h-46zM119 253h6v1h-6zM126 253h8v1h-8zM135 253h1v1h-1zM137 253h5v1h-5zM143 253h2v1h-2zM232 253h42v1h-42zM275 253h5v1h-5zM282 253h1v1h-1zM284 253h2v1h-2zM287 253h1v1h-1zM289 253h1v1h-1zM292 253h1v1h-1zM296 253h4v1h-4zM308 253h2v1h-2zM395 253h5v1h-5zM401 253h21v1h-21zM423 253h3v1h-3zM427 253h7v1h-7zM435 253h1v1h-1zM437 253h15v1h-15zM453 253h4v1h-4zM458 253h2v1h-2zM461 253h3v1h-3zM465 253h1v1h-1zM467 253h6v1h-6zM474 253h1v1h-1zM72 254h6v1h-6zM79 254h13v1h-13zM93 254h9v1h-9zM103 254h15v1h-15zM119 254h7v1h-7zM128 254h3v1h-3zM132 254h1v1h-1zM135 254h3v1h-3zM139 254h2v1h-2zM145 254h2v1h-2zM232 254h29v1h-29zM262 254h1v1h-1zM264 254h4v1h-4zM269 254h6v1h-6zM277 254h1v1h-1zM279 254h1v1h-1zM282 254h1v1h-1zM285 254h1v1h-1zM290 254h4v1h-4zM301 254h1v1h-1zM396 254h38v1h-38zM435 254h12v1h-12zM448 254h7v1h-7zM458 254h6v1h-6zM468 254h1v1h-1zM470 254h1v1h-1zM472 254h1v1h-1zM474 254h1v1h-1zM72 255h26v1h-26zM99 255h1v1h-1zM101 255h7v1h-7zM109 255h14v1h-14zM124 255h8v1h-8zM133 255h2v1h-2zM143 255h1v1h-1zM146 255h1v1h-1zM232 255h2v1h-2zM235 255h5v1h-5zM241 255h28v1h-28zM271 255h3v1h-3zM275 255h2v1h-2zM279 255h1v1h-1zM282 255h2v1h-2zM285 255h1v1h-1zM295 255h1v1h-1zM297 255h1v1h-1zM300 255h1v1h-1zM396 255h27v1h-27zM426 255h8v1h-8zM435 255h18v1h-18zM454 255h3v1h-3zM459 255h3v1h-3zM466 255h2v1h-2zM471 255h1v1h-1zM473 255h2v1h-2zM72 256h28v1h-28zM101 256h22v1h-22zM124 256h3v1h-3zM129 256h1v1h-1zM132 256h3v1h-3zM142 256h1v1h-1zM146 256h1v1h-1zM232 256h29v1h-29zM262 256h12v1h-12zM276 256h1v1h-1zM278 256h2v1h-2zM286 256h1v1h-1zM297 256h1v1h-1zM300 256h2v1h-2zM395 256h23v1h-23zM420 256h3v1h-3zM424 256h20v1h-20zM445 256h3v1h-3zM449 256h2v1h-2zM452 256h2v1h-2zM459 256h1v1h-1zM461 256h3v1h-3zM467 256h1v1h-1zM470 256h2v1h-2zM72 257h26v1h-26zM99 257h23v1h-23zM123 257h4v1h-4zM129 257h1v1h-1zM133 257h1v1h-1zM135 257h2v1h-2zM146 257h1v1h-1zM232 257h30v1h-30zM264 257h6v1h-6zM271 257h6v1h-6zM278 257h1v1h-1zM280 257h2v1h-2zM285 257h3v1h-3zM292 257h1v1h-1zM302 257h1v1h-1zM304 257h2v1h-2zM396 257h15v1h-15zM412 257h5v1h-5zM418 257h23v1h-23zM442 257h3v1h-3zM446 257h12v1h-12zM462 257h2v1h-2zM467 257h2v1h-2zM72 258h26v1h-26zM99 258h20v1h-20zM120 258h3v1h-3zM124 258h2v1h-2zM127 258h1v1h-1zM130 258h1v1h-1zM135 258h2v1h-2zM232 258h28v1h-28zM261 258h2v1h-2zM264 258h8v1h-8zM273 258h1v1h-1zM275 258h5v1h-5zM282 258h2v1h-2zM290 258h1v1h-1zM298 258h1v1h-1zM302 258h1v1h-1zM395 258h12v1h-12zM408 258h2v1h-2zM411 258h9v1h-9zM421 258h1v1h-1zM424 258h6v1h-6zM431 258h8v1h-8zM441 258h12v1h-12zM454 258h2v1h-2zM458 258h2v1h-2zM466 258h1v1h-1zM468 258h2v1h-2zM472 258h1v1h-1zM474 258h1v1h-1zM74 259h23v1h-23zM100 259h1v1h-1zM102 259h16v1h-16zM119 259h3v1h-3zM123 259h1v1h-1zM130 259h1v1h-1zM232 259h24v1h-24zM257 259h1v1h-1zM259 259h1v1h-1zM262 259h2v1h-2zM265 259h2v1h-2zM268 259h4v1h-4zM273 259h1v1h-1zM275 259h1v1h-1zM277 259h2v1h-2zM280 259h1v1h-1zM282 259h2v1h-2zM290 259h1v1h-1zM299 259h1v1h-1zM395 259h7v1h-7zM403 259h20v1h-20zM425 259h1v1h-1zM427 259h3v1h-3zM431 259h1v1h-1zM433 259h14v1h-14zM448 259h1v1h-1zM450 259h1v1h-1zM452 259h4v1h-4zM457 259h1v1h-1zM459 259h1v1h-1zM461 259h4v1h-4zM466 259h2v1h-2zM470 259h1v1h-1zM472 259h1v1h-1zM72 260h1v1h-1zM74 260h14v1h-14zM89 260h4v1h-4zM94 260h5v1h-5zM100 260h11v1h-11zM112 260h1v1h-1zM115 260h2v1h-2zM120 260h2v1h-2zM123 260h2v1h-2zM126 260h1v1h-1zM132 260h1v1h-1zM232 260h4v1h-4zM237 260h19v1h-19zM258 260h3v1h-3zM263 260h3v1h-3zM267 260h3v1h-3zM271 260h1v1h-1zM275 260h2v1h-2zM278 260h4v1h-4zM285 260h1v1h-1zM295 260h3v1h-3zM299 260h1v1h-1zM395 260h18v1h-18zM414 260h5v1h-5zM420 260h4v1h-4zM425 260h1v1h-1zM427 260h3v1h-3zM435 260h1v1h-1zM437 260h2v1h-2zM440 260h3v1h-3zM448 260h1v1h-1zM451 260h1v1h-1zM453 260h3v1h-3zM457 260h1v1h-1zM461 260h1v1h-1zM463 260h3v1h-3zM467 260h2v1h-2zM470 260h4v1h-4zM72 261h22v1h-22zM98 261h2v1h-2zM101 261h5v1h-5zM107 261h4v1h-4zM114 261h3v1h-3zM118 261h4v1h-4zM123 261h1v1h-1zM125 261h1v1h-1zM132 261h1v1h-1zM136 261h1v1h-1zM232 261h25v1h-25zM258 261h2v1h-2zM264 261h1v1h-1zM268 261h1v1h-1zM270 261h2v1h-2zM273 261h1v1h-1zM276 261h3v1h-3zM285 261h1v1h-1zM296 261h2v1h-2zM396 261h11v1h-11zM408 261h15v1h-15zM424 261h7v1h-7zM432 261h1v1h-1zM434 261h3v1h-3zM440 261h2v1h-2zM445 261h1v1h-1zM448 261h1v1h-1zM450 261h6v1h-6zM457 261h2v1h-2zM461 261h2v1h-2zM464 261h3v1h-3zM468 261h4v1h-4zM72 262h19v1h-19zM96 262h1v1h-1zM99 262h4v1h-4zM104 262h3v1h-3zM111 262h3v1h-3zM116 262h4v1h-4zM122 262h1v1h-1zM125 262h1v1h-1zM129 262h1v1h-1zM136 262h1v1h-1zM232 262h19v1h-19zM262 262h1v1h-1zM264 262h1v1h-1zM268 262h5v1h-5zM276 262h2v1h-2zM290 262h1v1h-1zM293 262h1v1h-1zM395 262h9v1h-9zM405 262h5v1h-5zM411 262h2v1h-2zM414 262h4v1h-4zM419 262h6v1h-6zM426 262h2v1h-2zM429 262h8v1h-8zM438 262h1v1h-1zM443 262h1v1h-1zM446 262h1v1h-1zM451 262h2v1h-2zM454 262h2v1h-2zM457 262h7v1h-7zM466 262h3v1h-3zM470 262h2v1h-2zM72 263h19v1h-19zM92 263h1v1h-1zM96 263h1v1h-1zM98 263h2v1h-2zM102 263h1v1h-1zM104 263h1v1h-1zM109 263h1v1h-1zM112 263h2v1h-2zM115 263h7v1h-7zM123 263h3v1h-3zM232 263h9v1h-9zM242 263h8v1h-8zM252 263h1v1h-1zM260 263h1v1h-1zM262 263h1v1h-1zM282 263h1v1h-1zM298 263h2v1h-2zM303 263h2v1h-2zM395 263h12v1h-12zM409 263h1v1h-1zM412 263h2v1h-2zM415 263h1v1h-1zM417 263h1v1h-1zM419 263h1v1h-1zM421 263h3v1h-3zM426 263h1v1h-1zM429 263h3v1h-3zM436 263h1v1h-1zM441 263h5v1h-5zM447 263h1v1h-1zM449 263h1v1h-1zM451 263h2v1h-2zM457 263h1v1h-1zM463 263h1v1h-1zM467 263h2v1h-2zM470 263h2v1h-2zM72 264h18v1h-18zM102 264h1v1h-1zM105 264h1v1h-1zM109 264h1v1h-1zM111 264h1v1h-1zM117 264h1v1h-1zM119 264h1v1h-1zM122 264h1v1h-1zM127 264h1v1h-1zM232 264h16v1h-16zM252 264h1v1h-1zM262 264h2v1h-2zM267 264h2v1h-2zM277 264h2v1h-2zM282 264h1v1h-1zM298 264h2v1h-2zM400 264h3v1h-3zM409 264h1v1h-1zM411 264h2v1h-2zM414 264h1v1h-1zM417 264h1v1h-1zM419 264h1v1h-1zM423 264h3v1h-3zM427 264h2v1h-2zM430 264h3v1h-3zM436 264h1v1h-1zM444 264h2v1h-2zM449 264h1v1h-1zM451 264h4v1h-4zM456 264h2v1h-2zM459 264h1v1h-1zM461 264h2v1h-2zM468 264h2v1h-2zM72 265h18v1h-18zM103 265h1v1h-1zM115 265h1v1h-1zM119 265h1v1h-1zM123 265h2v1h-2zM126 265h2v1h-2zM233 265h11v1h-11zM255 265h1v1h-1zM270 265h2v1h-2zM278 265h1v1h-1zM298 265h2v1h-2zM398 265h1v1h-1zM403 265h2v1h-2zM406 265h1v1h-1zM414 265h1v1h-1zM419 265h1v1h-1zM421 265h1v1h-1zM423 265h2v1h-2zM426 265h1v1h-1zM428 265h1v1h-1zM436 265h2v1h-2zM440 265h3v1h-3zM447 265h3v1h-3zM451 265h3v1h-3zM457 265h1v1h-1zM459 265h7v1h-7zM467 265h1v1h-1zM72 266h12v1h-12zM85 266h2v1h-2zM89 266h1v1h-1zM103 266h1v1h-1zM106 266h1v1h-1zM120 266h1v1h-1zM123 266h1v1h-1zM125 266h1v1h-1zM127 266h1v1h-1zM233 266h7v1h-7zM242 266h1v1h-1zM245 266h1v1h-1zM248 266h1v1h-1zM261 266h1v1h-1zM263 266h1v1h-1zM270 266h2v1h-2zM280 266h1v1h-1zM298 266h1v1h-1zM411 266h2v1h-2zM416 266h1v1h-1zM418 266h2v1h-2zM422 266h3v1h-3zM426 266h1v1h-1zM431 266h1v1h-1zM434 266h2v1h-2zM437 266h1v1h-1zM441 266h2v1h-2zM444 266h1v1h-1zM448 266h3v1h-3zM452 266h1v1h-1zM455 266h1v1h-1zM457 266h4v1h-4zM462 266h5v1h-5zM473 266h1v1h-1zM72 267h11v1h-11zM85 267h2v1h-2zM91 267h1v1h-1zM104 267h1v1h-1zM125 267h1v1h-1zM130 267h2v1h-2zM232 267h9v1h-9zM258 267h1v1h-1zM266 267h2v1h-2zM286 267h1v1h-1zM292 267h1v1h-1zM298 267h1v1h-1zM395 267h1v1h-1zM398 267h2v1h-2zM406 267h1v1h-1zM416 267h1v1h-1zM418 267h1v1h-1zM422 267h3v1h-3zM426 267h1v1h-1zM428 267h2v1h-2zM431 267h1v1h-1zM434 267h1v1h-1zM436 267h1v1h-1zM440 267h1v1h-1zM443 267h1v1h-1zM447 267h1v1h-1zM451 267h2v1h-2zM457 267h4v1h-4zM463 267h1v1h-1zM465 267h1v1h-1zM468 267h3v1h-3zM72 268h9v1h-9zM82 268h1v1h-1zM88 268h1v1h-1zM91 268h1v1h-1zM98 268h1v1h-1zM140 268h1v1h-1zM233 268h3v1h-3zM237 268h3v1h-3zM267 268h1v1h-1zM272 268h1v1h-1zM287 268h2v1h-2zM300 268h1v1h-1zM398 268h1v1h-1zM410 268h1v1h-1zM418 268h2v1h-2zM422 268h1v1h-1zM424 268h1v1h-1zM429 268h1v1h-1zM436 268h1v1h-1zM447 268h1v1h-1zM452 268h1v1h-1zM454 268h5v1h-5zM463 268h3v1h-3zM470 268h1v1h-1zM72 269h10v1h-10zM233 269h2v1h-2zM236 269h3v1h-3zM246 269h2v1h-2zM258 269h1v1h-1zM263 269h2v1h-2zM287 269h2v1h-2zM404 269h1v1h-1zM409 269h1v1h-1zM418 269h2v1h-2zM434 269h1v1h-1zM439 269h2v1h-2zM442 269h3v1h-3zM447 269h1v1h-1zM449 269h1v1h-1zM451 269h1v1h-1zM454 269h4v1h-4zM461 269h4v1h-4zM467 269h1v1h-1zM72 270h6v1h-6zM80 270h1v1h-1zM89 270h1v1h-1zM97 270h1v1h-1zM233 270h2v1h-2zM236 270h3v1h-3zM240 270h1v1h-1zM249 270h1v1h-1zM263 270h2v1h-2zM397 270h1v1h-1zM408 270h1v1h-1zM410 270h1v1h-1zM416 270h1v1h-1zM439 270h1v1h-1zM445 270h1v1h-1zM449 270h1v1h-1zM451 270h1v1h-1zM454 270h1v1h-1zM457 270h1v1h-1zM460 270h3v1h-3zM464 270h2v1h-2zM72 271h2v1h-2zM75 271h2v1h-2zM78 271h1v1h-1zM82 271h1v1h-1zM232 271h2v1h-2zM249 271h1v1h-1zM256 271h2v1h-2zM286 271h1v1h-1zM301 271h1v1h-1zM420 271h1v1h-1zM422 271h1v1h-1zM424 271h2v1h-2zM432 271h2v1h-2zM445 271h1v1h-1zM449 271h1v1h-1zM451 271h2v1h-2zM454 271h1v1h-1zM456 271h2v1h-2zM460 271h1v1h-1zM464 271h2v1h-2zM470 271h1v1h-1zM477 271h2v1h-2zM72 272h5v1h-5zM109 272h2v1h-2zM232 272h2v1h-2zM237 272h2v1h-2zM260 272h1v1h-1zM262 272h1v1h-1zM397 272h1v1h-1zM420 272h1v1h-1zM424 272h2v1h-2zM434 272h1v1h-1zM444 272h3v1h-3zM456 272h3v1h-3zM460 272h1v1h-1zM464 272h1v1h-1zM470 272h2v1h-2zM72 273h5v1h-5zM238 273h1v1h-1zM411 273h1v1h-1zM436 273h1v1h-1zM443 273h1v1h-1zM445 273h2v1h-2zM451 273h1v1h-1zM455 273h2v1h-2zM460 273h2v1h-2zM464 273h1v1h-1zM469 273h1v1h-1zM72 274h4v1h-4zM84 274h2v1h-2z"/></g>
<g transform="rotate(-0.45 128.7 77.3)"><rect x="71.4" y="34.8" width="114.6" height="85.1" fill="none" stroke="#111" stroke-width="1.05"/><path d="M100.8 34.8V119.9M71.4 98.8H186.0" stroke="#000" stroke-width="1.2" fill="none"/><path d="M71.40 119.9v4.3M71.4 119.90h-4.3M80.02 119.9v2.6M71.4 113.50h-2.6M85.07 119.9v2.6M71.4 109.75h-2.6M88.65 119.9v2.6M71.4 107.09h-2.6M91.43 119.9v2.6M71.4 105.03h-2.6M93.69 119.9v2.6M71.4 103.34h-2.6M95.61 119.9v2.6M71.4 101.92h-2.6M97.27 119.9v2.6M71.4 100.69h-2.6M98.74 119.9v2.6M71.4 99.60h-2.6M100.05 119.9v4.3M71.4 98.62h-4.3M108.67 119.9v2.6M71.4 92.22h-2.6M113.72 119.9v2.6M71.4 88.47h-2.6M117.30 119.9v2.6M71.4 85.82h-2.6M120.08 119.9v2.6M71.4 83.75h-2.6M122.34 119.9v2.6M71.4 82.07h-2.6M124.26 119.9v2.6M71.4 80.65h-2.6M125.92 119.9v2.6M71.4 79.41h-2.6M127.39 119.9v2.6M71.4 78.32h-2.6M128.70 119.9v4.3M71.4 77.35h-4.3M137.32 119.9v2.6M71.4 70.95h-2.6M142.37 119.9v2.6M71.4 67.20h-2.6M145.95 119.9v2.6M71.4 64.54h-2.6M148.73 119.9v2.6M71.4 62.48h-2.6M150.99 119.9v2.6M71.4 60.79h-2.6M152.91 119.9v2.6M71.4 59.37h-2.6M154.57 119.9v2.6M71.4 58.14h-2.6M156.04 119.9v2.6M71.4 57.05h-2.6M157.35 119.9v4.3M71.4 56.08h-4.3M165.97 119.9v2.6M71.4 49.67h-2.6M171.02 119.9v2.6M71.4 45.92h-2.6M174.60 119.9v2.6M71.4 43.27h-2.6M177.38 119.9v2.6M71.4 41.20h-2.6M179.64 119.9v2.6M71.4 39.52h-2.6M181.56 119.9v2.6M71.4 38.10h-2.6M183.22 119.9v2.6M71.4 36.86h-2.6M184.69 119.9v2.6M71.4 35.77h-2.6M186.0 119.9v4.3M71.4 34.8h-4.3" stroke="#111" stroke-width="1.05" fill="none"/><text transform="translate(65.40 135.70) scale(0.74 1)" class="tl">10<tspan dx="0.6" dy="-5.5">0</tspan></text><text transform="translate(63.00 126.30) rotate(-90) scale(0.74 1)" class="tl">10<tspan dx="3.8" dy="-5">0</tspan></text><text transform="translate(93.45 135.70) scale(0.74 1)" class="tl">10<tspan dx="0.6" dy="-5.5">1</tspan></text><text transform="translate(63.00 105.58) rotate(-90) scale(0.74 1)" class="tl">10<tspan dx="3.8" dy="-5">1</tspan></text><text transform="translate(121.50 135.70) scale(0.74 1)" class="tl">10<tspan dx="0.6" dy="-5.5">2</tspan></text><text transform="translate(63.00 84.85) rotate(-90) scale(0.74 1)" class="tl">10<tspan dx="3.8" dy="-5">2</tspan></text><text transform="translate(149.55 135.70) scale(0.74 1)" class="tl">10<tspan dx="0.6" dy="-5.5">3</tspan></text><text transform="translate(63.00 64.12) rotate(-90) scale(0.74 1)" class="tl">10<tspan dx="3.8" dy="-5">3</tspan></text><text transform="translate(177.60 135.70) scale(0.74 1)" class="tl">10<tspan dx="0.6" dy="-5.5">4</tspan></text><text transform="translate(63.00 43.40) rotate(-90) scale(0.74 1)" class="tl">10<tspan dx="3.8" dy="-5">4</tspan></text></g><g transform="rotate(-0.45 286.6 76.0)"><rect x="228.0" y="33.3" width="117.2" height="85.5" fill="none" stroke="#111" stroke-width="1.05"/><path d="M256.8 33.3V118.8M228.0 96.5H345.2" stroke="#000" stroke-width="1.2" fill="none"/><path d="M228.00 118.8v4.3M228.0 118.80h-4.3M236.82 118.8v2.6M228.0 112.37h-2.6M241.98 118.8v2.6M228.0 108.60h-2.6M245.64 118.8v2.6M228.0 105.93h-2.6M248.48 118.8v2.6M228.0 103.86h-2.6M250.80 118.8v2.6M228.0 102.17h-2.6M252.76 118.8v2.6M228.0 100.74h-2.6M254.46 118.8v2.6M228.0 99.50h-2.6M255.96 118.8v2.6M228.0 98.40h-2.6M257.30 118.8v4.3M228.0 97.42h-4.3M266.12 118.8v2.6M228.0 90.99h-2.6M271.28 118.8v2.6M228.0 87.23h-2.6M274.94 118.8v2.6M228.0 84.56h-2.6M277.78 118.8v2.6M228.0 82.48h-2.6M280.10 118.8v2.6M228.0 80.79h-2.6M282.06 118.8v2.6M228.0 79.36h-2.6M283.76 118.8v2.6M228.0 78.12h-2.6M285.26 118.8v2.6M228.0 77.03h-2.6M286.60 118.8v4.3M228.0 76.05h-4.3M295.42 118.8v2.6M228.0 69.62h-2.6M300.58 118.8v2.6M228.0 65.85h-2.6M304.24 118.8v2.6M228.0 63.18h-2.6M307.08 118.8v2.6M228.0 61.11h-2.6M309.40 118.8v2.6M228.0 59.42h-2.6M311.36 118.8v2.6M228.0 57.99h-2.6M313.06 118.8v2.6M228.0 56.75h-2.6M314.56 118.8v2.6M228.0 55.65h-2.6M315.90 118.8v4.3M228.0 54.67h-4.3M324.72 118.8v2.6M228.0 48.24h-2.6M329.88 118.8v2.6M228.0 44.48h-2.6M333.54 118.8v2.6M228.0 41.81h-2.6M336.38 118.8v2.6M228.0 39.73h-2.6M338.70 118.8v2.6M228.0 38.04h-2.6M340.66 118.8v2.6M228.0 36.61h-2.6M342.36 118.8v2.6M228.0 35.37h-2.6M343.86 118.8v2.6M228.0 34.28h-2.6M345.2 118.8v4.3M228.0 33.3h-4.3" stroke="#111" stroke-width="1.05" fill="none"/><text transform="translate(221.20 134.60) scale(0.74 1)" class="tl">10<tspan dx="0.6" dy="-5.5">0</tspan></text><text transform="translate(217.80 125.20) rotate(-90) scale(0.74 1)" class="tl">10<tspan dx="3.8" dy="-5">0</tspan></text><text transform="translate(249.60 134.60) scale(0.74 1)" class="tl">10<tspan dx="0.6" dy="-5.5">1</tspan></text><text transform="translate(217.80 104.38) rotate(-90) scale(0.74 1)" class="tl">10<tspan dx="3.8" dy="-5">1</tspan></text><text transform="translate(278.00 134.60) scale(0.74 1)" class="tl">10<tspan dx="0.6" dy="-5.5">2</tspan></text><text transform="translate(217.80 83.55) rotate(-90) scale(0.74 1)" class="tl">10<tspan dx="3.8" dy="-5">2</tspan></text><text transform="translate(306.40 134.60) scale(0.74 1)" class="tl">10<tspan dx="0.6" dy="-5.5">3</tspan></text><text transform="translate(217.80 62.73) rotate(-90) scale(0.74 1)" class="tl">10<tspan dx="3.8" dy="-5">3</tspan></text><text transform="translate(334.80 134.60) scale(0.74 1)" class="tl">10<tspan dx="0.6" dy="-5.5">4</tspan></text><text transform="translate(217.80 41.90) rotate(-90) scale(0.74 1)" class="tl">10<tspan dx="3.8" dy="-5">4</tspan></text></g><g transform="rotate(-0.45 451.7 73.3)"><rect x="392.6" y="31.0" width="118.2" height="84.7" fill="none" stroke="#111" stroke-width="1.05"/><path d="M422.9 31.0V115.7M392.6 94.2H510.8" stroke="#000" stroke-width="1.2" fill="none"/><path d="M392.60 115.7v4.3M392.6 115.70h-4.3M401.50 115.7v2.6M392.6 109.33h-2.6M406.70 115.7v2.6M392.6 105.60h-2.6M410.39 115.7v2.6M392.6 102.95h-2.6M413.25 115.7v2.6M392.6 100.90h-2.6M415.59 115.7v2.6M392.6 99.22h-2.6M417.57 115.7v2.6M392.6 97.81h-2.6M419.29 115.7v2.6M392.6 96.58h-2.6M420.80 115.7v2.6M392.6 95.49h-2.6M422.15 115.7v4.3M392.6 94.53h-4.3M431.05 115.7v2.6M392.6 88.15h-2.6M436.25 115.7v2.6M392.6 84.42h-2.6M439.94 115.7v2.6M392.6 81.78h-2.6M442.80 115.7v2.6M392.6 79.72h-2.6M445.14 115.7v2.6M392.6 78.05h-2.6M447.12 115.7v2.6M392.6 76.63h-2.6M448.84 115.7v2.6M392.6 75.40h-2.6M450.35 115.7v2.6M392.6 74.32h-2.6M451.70 115.7v4.3M392.6 73.35h-4.3M460.60 115.7v2.6M392.6 66.98h-2.6M465.80 115.7v2.6M392.6 63.25h-2.6M469.49 115.7v2.6M392.6 60.60h-2.6M472.35 115.7v2.6M392.6 58.55h-2.6M474.69 115.7v2.6M392.6 56.87h-2.6M476.67 115.7v2.6M392.6 55.46h-2.6M478.39 115.7v2.6M392.6 54.23h-2.6M479.90 115.7v2.6M392.6 53.14h-2.6M481.25 115.7v4.3M392.6 52.17h-4.3M490.15 115.7v2.6M392.6 45.80h-2.6M495.35 115.7v2.6M392.6 42.07h-2.6M499.04 115.7v2.6M392.6 39.43h-2.6M501.90 115.7v2.6M392.6 37.37h-2.6M504.24 115.7v2.6M392.6 35.70h-2.6M506.22 115.7v2.6M392.6 34.28h-2.6M507.94 115.7v2.6M392.6 33.05h-2.6M509.45 115.7v2.6M392.6 31.97h-2.6M510.8 115.7v4.3M392.6 31.0h-4.3" stroke="#111" stroke-width="1.05" fill="none"/><text transform="translate(385.70 131.50) scale(0.74 1)" class="tl">10<tspan dx="0.6" dy="-5.5">0</tspan></text><text transform="translate(385.60 122.10) rotate(-90) scale(0.74 1)" class="tl">10<tspan dx="3.8" dy="-5">0</tspan></text><text transform="translate(413.85 131.50) scale(0.74 1)" class="tl">10<tspan dx="0.6" dy="-5.5">1</tspan></text><text transform="translate(385.60 101.48) rotate(-90) scale(0.74 1)" class="tl">10<tspan dx="3.8" dy="-5">1</tspan></text><text transform="translate(442.00 131.50) scale(0.74 1)" class="tl">10<tspan dx="0.6" dy="-5.5">2</tspan></text><text transform="translate(385.60 80.85) rotate(-90) scale(0.74 1)" class="tl">10<tspan dx="3.8" dy="-5">2</tspan></text><text transform="translate(470.15 131.50) scale(0.74 1)" class="tl">10<tspan dx="0.6" dy="-5.5">3</tspan></text><text transform="translate(385.60 60.23) rotate(-90) scale(0.74 1)" class="tl">10<tspan dx="3.8" dy="-5">3</tspan></text><text transform="translate(498.30 131.50) scale(0.74 1)" class="tl">10<tspan dx="0.6" dy="-5.5">4</tspan></text><text transform="translate(385.60 39.60) rotate(-90) scale(0.74 1)" class="tl">10<tspan dx="3.8" dy="-5">4</tspan></text></g><g transform="rotate(-0.45 128.2 234.3)"><rect x="71.3" y="192.6" width="113.7" height="83.4" fill="none" stroke="#111" stroke-width="1.05"/><path d="M100.3 192.6V276.0M71.3 255.2H185.0" stroke="#000" stroke-width="1.2" fill="none"/><path d="M71.30 276.0v4.3M71.3 276.00h-4.3M79.86 276.0v2.6M71.3 269.72h-2.6M84.86 276.0v2.6M71.3 266.05h-2.6M88.41 276.0v2.6M71.3 263.45h-2.6M91.17 276.0v2.6M71.3 261.43h-2.6M93.42 276.0v2.6M71.3 259.78h-2.6M95.32 276.0v2.6M71.3 258.38h-2.6M96.97 276.0v2.6M71.3 257.17h-2.6M98.42 276.0v2.6M71.3 256.10h-2.6M99.72 276.0v4.3M71.3 255.15h-4.3M108.28 276.0v2.6M71.3 248.87h-2.6M113.29 276.0v2.6M71.3 245.20h-2.6M116.84 276.0v2.6M71.3 242.60h-2.6M119.59 276.0v2.6M71.3 240.58h-2.6M121.84 276.0v2.6M71.3 238.93h-2.6M123.75 276.0v2.6M71.3 237.53h-2.6M125.40 276.0v2.6M71.3 236.32h-2.6M126.85 276.0v2.6M71.3 235.25h-2.6M128.15 276.0v4.3M71.3 234.30h-4.3M136.71 276.0v2.6M71.3 228.02h-2.6M141.71 276.0v2.6M71.3 224.35h-2.6M145.26 276.0v2.6M71.3 221.75h-2.6M148.02 276.0v2.6M71.3 219.73h-2.6M150.27 276.0v2.6M71.3 218.08h-2.6M152.17 276.0v2.6M71.3 216.68h-2.6M153.82 276.0v2.6M71.3 215.47h-2.6M155.27 276.0v2.6M71.3 214.40h-2.6M156.57 276.0v4.3M71.3 213.45h-4.3M165.13 276.0v2.6M71.3 207.17h-2.6M170.14 276.0v2.6M71.3 203.50h-2.6M173.69 276.0v2.6M71.3 200.90h-2.6M176.44 276.0v2.6M71.3 198.88h-2.6M178.69 276.0v2.6M71.3 197.23h-2.6M180.60 276.0v2.6M71.3 195.83h-2.6M182.25 276.0v2.6M71.3 194.62h-2.6M183.70 276.0v2.6M71.3 193.55h-2.6M185.0 276.0v4.3M71.3 192.6h-4.3" stroke="#111" stroke-width="1.05" fill="none"/><text transform="translate(64.50 291.80) scale(0.74 1)" class="tl">10<tspan dx="0.6" dy="-5.5">0</tspan></text><text transform="translate(61.70 282.40) rotate(-90) scale(0.74 1)" class="tl">10<tspan dx="3.8" dy="-5">0</tspan></text><text transform="translate(92.03 291.80) scale(0.74 1)" class="tl">10<tspan dx="0.6" dy="-5.5">1</tspan></text><text transform="translate(61.70 262.10) rotate(-90) scale(0.74 1)" class="tl">10<tspan dx="3.8" dy="-5">1</tspan></text><text transform="translate(119.55 291.80) scale(0.74 1)" class="tl">10<tspan dx="0.6" dy="-5.5">2</tspan></text><text transform="translate(61.70 241.80) rotate(-90) scale(0.74 1)" class="tl">10<tspan dx="3.8" dy="-5">2</tspan></text><text transform="translate(147.07 291.80) scale(0.74 1)" class="tl">10<tspan dx="0.6" dy="-5.5">3</tspan></text><text transform="translate(61.70 221.50) rotate(-90) scale(0.74 1)" class="tl">10<tspan dx="3.8" dy="-5">3</tspan></text><text transform="translate(174.60 291.80) scale(0.74 1)" class="tl">10<tspan dx="0.6" dy="-5.5">4</tspan></text><text transform="translate(61.70 201.20) rotate(-90) scale(0.74 1)" class="tl">10<tspan dx="3.8" dy="-5">4</tspan></text></g><g transform="rotate(-0.45 290.2 232.9)"><rect x="231.2" y="191.4" width="118.0" height="82.9" fill="none" stroke="#111" stroke-width="1.05"/><path d="M261.1 191.4V274.3M231.2 253.5H349.2" stroke="#000" stroke-width="1.2" fill="none"/><path d="M231.20 274.3v4.3M231.2 274.30h-4.3M240.08 274.3v2.6M231.2 268.06h-2.6M245.28 274.3v2.6M231.2 264.41h-2.6M248.96 274.3v2.6M231.2 261.82h-2.6M251.82 274.3v2.6M231.2 259.81h-2.6M254.16 274.3v2.6M231.2 258.17h-2.6M256.13 274.3v2.6M231.2 256.79h-2.6M257.84 274.3v2.6M231.2 255.58h-2.6M259.35 274.3v2.6M231.2 254.52h-2.6M260.70 274.3v4.3M231.2 253.58h-4.3M269.58 274.3v2.6M231.2 247.34h-2.6M274.78 274.3v2.6M231.2 243.69h-2.6M278.46 274.3v2.6M231.2 241.10h-2.6M281.32 274.3v2.6M231.2 239.09h-2.6M283.66 274.3v2.6M231.2 237.45h-2.6M285.63 274.3v2.6M231.2 236.06h-2.6M287.34 274.3v2.6M231.2 234.86h-2.6M288.85 274.3v2.6M231.2 233.80h-2.6M290.20 274.3v4.3M231.2 232.85h-4.3M299.08 274.3v2.6M231.2 226.61h-2.6M304.28 274.3v2.6M231.2 222.96h-2.6M307.96 274.3v2.6M231.2 220.37h-2.6M310.82 274.3v2.6M231.2 218.36h-2.6M313.16 274.3v2.6M231.2 216.72h-2.6M315.13 274.3v2.6M231.2 215.34h-2.6M316.84 274.3v2.6M231.2 214.13h-2.6M318.35 274.3v2.6M231.2 213.07h-2.6M319.70 274.3v4.3M231.2 212.12h-4.3M328.58 274.3v2.6M231.2 205.89h-2.6M333.78 274.3v2.6M231.2 202.24h-2.6M337.46 274.3v2.6M231.2 199.65h-2.6M340.32 274.3v2.6M231.2 197.64h-2.6M342.66 274.3v2.6M231.2 196.00h-2.6M344.63 274.3v2.6M231.2 194.61h-2.6M346.34 274.3v2.6M231.2 193.41h-2.6M347.85 274.3v2.6M231.2 192.35h-2.6M349.2 274.3v4.3M231.2 191.4h-4.3" stroke="#111" stroke-width="1.05" fill="none"/><text transform="translate(224.20 290.10) scale(0.74 1)" class="tl">10<tspan dx="0.6" dy="-5.5">0</tspan></text><text transform="translate(221.60 280.70) rotate(-90) scale(0.74 1)" class="tl">10<tspan dx="3.8" dy="-5">0</tspan></text><text transform="translate(252.80 290.10) scale(0.74 1)" class="tl">10<tspan dx="0.6" dy="-5.5">1</tspan></text><text transform="translate(221.60 260.52) rotate(-90) scale(0.74 1)" class="tl">10<tspan dx="3.8" dy="-5">1</tspan></text><text transform="translate(281.40 290.10) scale(0.74 1)" class="tl">10<tspan dx="0.6" dy="-5.5">2</tspan></text><text transform="translate(221.60 240.35) rotate(-90) scale(0.74 1)" class="tl">10<tspan dx="3.8" dy="-5">2</tspan></text><text transform="translate(310.00 290.10) scale(0.74 1)" class="tl">10<tspan dx="0.6" dy="-5.5">3</tspan></text><text transform="translate(221.60 220.18) rotate(-90) scale(0.74 1)" class="tl">10<tspan dx="3.8" dy="-5">3</tspan></text><text transform="translate(338.60 290.10) scale(0.74 1)" class="tl">10<tspan dx="0.6" dy="-5.5">4</tspan></text><text transform="translate(221.60 200.00) rotate(-90) scale(0.74 1)" class="tl">10<tspan dx="3.8" dy="-5">4</tspan></text></g><g transform="rotate(-0.45 451.9 232.4)"><rect x="394.3" y="190.3" width="115.1" height="84.2" fill="none" stroke="#111" stroke-width="1.05"/><path d="M423.3 190.3V274.5M394.3 253.8H509.4" stroke="#000" stroke-width="1.2" fill="none"/><path d="M394.30 274.5v4.3M394.3 274.50h-4.3M402.96 274.5v2.6M394.3 268.16h-2.6M408.03 274.5v2.6M394.3 264.46h-2.6M411.62 274.5v2.6M394.3 261.83h-2.6M414.41 274.5v2.6M394.3 259.79h-2.6M416.69 274.5v2.6M394.3 258.12h-2.6M418.62 274.5v2.6M394.3 256.71h-2.6M420.29 274.5v2.6M394.3 255.49h-2.6M421.76 274.5v2.6M394.3 254.41h-2.6M423.07 274.5v4.3M394.3 253.45h-4.3M431.74 274.5v2.6M394.3 247.11h-2.6M436.80 274.5v2.6M394.3 243.41h-2.6M440.40 274.5v2.6M394.3 240.78h-2.6M443.19 274.5v2.6M394.3 238.74h-2.6M445.47 274.5v2.6M394.3 237.07h-2.6M447.39 274.5v2.6M394.3 235.66h-2.6M449.06 274.5v2.6M394.3 234.44h-2.6M450.53 274.5v2.6M394.3 233.36h-2.6M451.85 274.5v4.3M394.3 232.40h-4.3M460.51 274.5v2.6M394.3 226.06h-2.6M465.58 274.5v2.6M394.3 222.36h-2.6M469.17 274.5v2.6M394.3 219.73h-2.6M471.96 274.5v2.6M394.3 217.69h-2.6M474.24 274.5v2.6M394.3 216.02h-2.6M476.17 274.5v2.6M394.3 214.61h-2.6M477.84 274.5v2.6M394.3 213.39h-2.6M479.31 274.5v2.6M394.3 212.31h-2.6M480.62 274.5v4.3M394.3 211.35h-4.3M489.29 274.5v2.6M394.3 205.01h-2.6M494.35 274.5v2.6M394.3 201.31h-2.6M497.95 274.5v2.6M394.3 198.68h-2.6M500.74 274.5v2.6M394.3 196.64h-2.6M503.02 274.5v2.6M394.3 194.97h-2.6M504.94 274.5v2.6M394.3 193.56h-2.6M506.61 274.5v2.6M394.3 192.34h-2.6M508.08 274.5v2.6M394.3 191.26h-2.6M509.4 274.5v4.3M394.3 190.3h-4.3" stroke="#111" stroke-width="1.05" fill="none"/><text transform="translate(388.00 290.30) scale(0.74 1)" class="tl">10<tspan dx="0.6" dy="-5.5">0</tspan></text><text transform="translate(385.60 280.90) rotate(-90) scale(0.74 1)" class="tl">10<tspan dx="3.8" dy="-5">0</tspan></text><text transform="translate(415.88 290.30) scale(0.74 1)" class="tl">10<tspan dx="0.6" dy="-5.5">1</tspan></text><text transform="translate(385.60 260.40) rotate(-90) scale(0.74 1)" class="tl">10<tspan dx="3.8" dy="-5">1</tspan></text><text transform="translate(443.75 290.30) scale(0.74 1)" class="tl">10<tspan dx="0.6" dy="-5.5">2</tspan></text><text transform="translate(385.60 239.90) rotate(-90) scale(0.74 1)" class="tl">10<tspan dx="3.8" dy="-5">2</tspan></text><text transform="translate(471.62 290.30) scale(0.74 1)" class="tl">10<tspan dx="0.6" dy="-5.5">3</tspan></text><text transform="translate(385.60 219.40) rotate(-90) scale(0.74 1)" class="tl">10<tspan dx="3.8" dy="-5">3</tspan></text><text transform="translate(499.50 290.30) scale(0.74 1)" class="tl">10<tspan dx="0.6" dy="-5.5">4</tspan></text><text transform="translate(385.60 198.90) rotate(-90) scale(0.74 1)" class="tl">10<tspan dx="3.8" dy="-5">4</tspan></text></g>
<text x="88.3" y="7.2" textLength="81.7" lengthAdjust="spacingAndGlyphs" class="ti">ISOTYPE CONTROL</text><text x="268.2" y="7.2" textLength="52.4" lengthAdjust="spacingAndGlyphs" class="ti">GM-CSF/IL-4</text><text x="413.9" y="7.8" textLength="82.8" lengthAdjust="spacingAndGlyphs" class="ti">GM-CSF/IL-4/TNF-a</text><text x="115.8" y="170.6" textLength="25.0" lengthAdjust="spacingAndGlyphs" class="ti">CD40L</text><text x="265.7" y="168.8" textLength="44.0" lengthAdjust="spacingAndGlyphs" class="ti">IL-4/CD40L</text><text x="410" y="167.8" textLength="82.3" lengthAdjust="spacingAndGlyphs" class="ti">GM-CSF/IL-4/CD40L</text><text x="1.3" y="151.7" textLength="35.9" lengthAdjust="spacing" class="ax">CD83</text><text x="277.6" y="328.8" textLength="32.4" lengthAdjust="spacingAndGlyphs" class="ax2">CD1a</text><text x="231.7" y="44.6" textLength="13.6" lengthAdjust="spacingAndGlyphs" class="pc">1 %</text><text x="324.2" y="44.3" textLength="13.4" lengthAdjust="spacingAndGlyphs" class="pc">4 %</text><text x="324.9" y="105.2" textLength="17.7" lengthAdjust="spacingAndGlyphs" class="pc">80 %</text><text x="400.2" y="42.1" textLength="18.1" lengthAdjust="spacingAndGlyphs" class="pc">55 %</text><text x="487.7" y="41.6" textLength="18.6" lengthAdjust="spacingAndGlyphs" class="pc">30 %</text><text x="494.2" y="103.1" textLength="13.1" lengthAdjust="spacingAndGlyphs" class="pc">7 %</text><text x="75.7" y="203.6" textLength="18.1" lengthAdjust="spacingAndGlyphs" class="pc">31 %</text><text x="161.7" y="202.6" textLength="18.1" lengthAdjust="spacingAndGlyphs" class="pc">17 %</text><text x="165.2" y="267.1" textLength="13.6" lengthAdjust="spacingAndGlyphs" class="pc">4 %</text><text x="236.2" y="202.4" textLength="18.1" lengthAdjust="spacingAndGlyphs" class="pc">48 %</text><text x="326" y="201.4" textLength="18.0" lengthAdjust="spacingAndGlyphs" class="pc">26 %</text><text x="330.2" y="264.6" textLength="14.6" lengthAdjust="spacingAndGlyphs" class="pc">4 %</text><text x="399.7" y="201.6" textLength="18.1" lengthAdjust="spacingAndGlyphs" class="pc">38 %</text><text x="486.2" y="201.1" textLength="17.3" lengthAdjust="spacingAndGlyphs" class="pc">30 %</text><text x="488.7" y="265.1" textLength="18.1" lengthAdjust="spacingAndGlyphs" class="pc">15 %</text>
</svg>
</body></html>
